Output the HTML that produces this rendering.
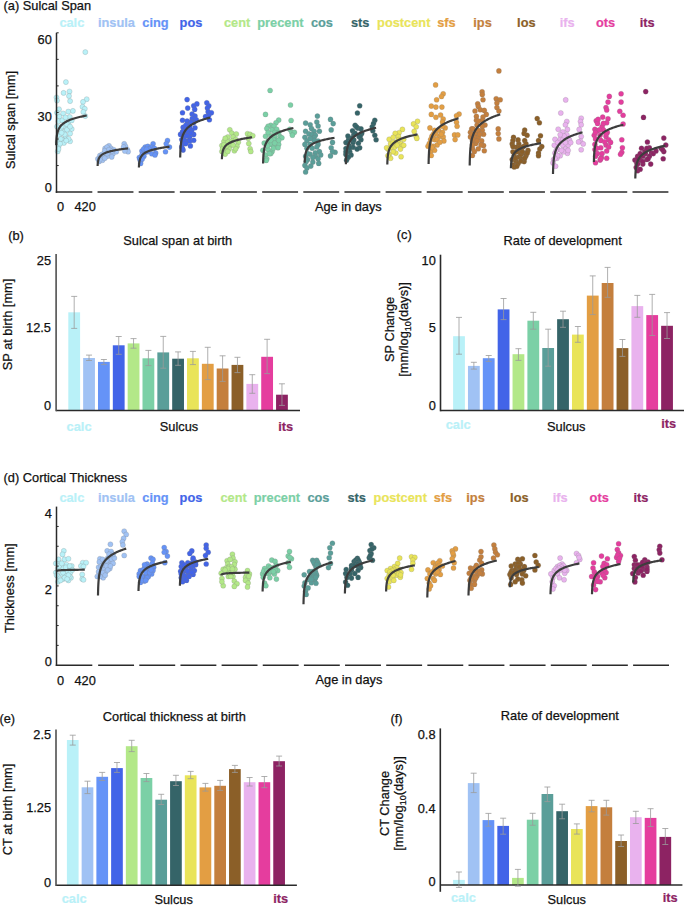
<!DOCTYPE html>
<html><head><meta charset="utf-8"><style>
html,body{margin:0;padding:0;background:#fff;}
body{width:685px;height:905px;overflow:hidden;}
svg{display:block;font-family:"Liberation Sans", sans-serif;}
</style></head><body>
<svg width="685" height="905" viewBox="0 0 685 905">
<rect width="685" height="905" fill="#fff"/>
<text x="3.60" y="9.50" font-size="12.8" font-weight="400" fill="#111" stroke="#111" stroke-width="0.25" text-anchor="start" >(a) Sulcal Span</text>
<text x="59.40" y="27.40" font-size="12.8" font-weight="700" fill="#b9f1f8" stroke="#b9f1f8" stroke-width="0.2" text-anchor="start" >calc</text>
<text x="97.90" y="27.40" font-size="12.8" font-weight="700" fill="#a0c2f4" stroke="#a0c2f4" stroke-width="0.2" text-anchor="start" >insula</text>
<text x="142.30" y="27.40" font-size="12.8" font-weight="700" fill="#6593f7" stroke="#6593f7" stroke-width="0.2" text-anchor="start" >cing</text>
<text x="179.60" y="27.40" font-size="12.8" font-weight="700" fill="#4264e8" stroke="#4264e8" stroke-width="0.2" text-anchor="start" >pos</text>
<text x="224.00" y="27.40" font-size="12.8" font-weight="700" fill="#b3e888" stroke="#b3e888" stroke-width="0.2" text-anchor="start" >cent</text>
<text x="257.30" y="27.40" font-size="12.8" font-weight="700" fill="#7bd0a6" stroke="#7bd0a6" stroke-width="0.2" text-anchor="start" >precent</text>
<text x="310.90" y="27.40" font-size="12.8" font-weight="700" fill="#5a9e99" stroke="#5a9e99" stroke-width="0.2" text-anchor="start" >cos</text>
<text x="350.90" y="27.40" font-size="12.8" font-weight="700" fill="#356468" stroke="#356468" stroke-width="0.2" text-anchor="start" >sts</text>
<text x="377.10" y="27.40" font-size="12.8" font-weight="700" fill="#e9e459" stroke="#e9e459" stroke-width="0.2" text-anchor="start" >postcent</text>
<text x="437.20" y="27.40" font-size="12.8" font-weight="700" fill="#e39e43" stroke="#e39e43" stroke-width="0.2" text-anchor="start" >sfs</text>
<text x="473.30" y="27.40" font-size="12.8" font-weight="700" fill="#c47f3d" stroke="#c47f3d" stroke-width="0.2" text-anchor="start" >ips</text>
<text x="517.10" y="27.40" font-size="12.8" font-weight="700" fill="#8b5f28" stroke="#8b5f28" stroke-width="0.2" text-anchor="start" >los</text>
<text x="559.80" y="27.40" font-size="12.8" font-weight="700" fill="#e9b2ee" stroke="#e9b2ee" stroke-width="0.2" text-anchor="start" >ifs</text>
<text x="595.90" y="27.40" font-size="12.8" font-weight="700" fill="#e53d9e" stroke="#e53d9e" stroke-width="0.2" text-anchor="start" >ots</text>
<text x="639.70" y="27.40" font-size="12.8" font-weight="700" fill="#8d2363" stroke="#8d2363" stroke-width="0.2" text-anchor="start" >its</text>
<circle cx="85.3" cy="52.1" r="2.55" fill="#b9f1f8" stroke="rgba(120,120,120,0.45)" stroke-width="0.5"/>
<circle cx="65.9" cy="82.1" r="2.55" fill="#b9f1f8" stroke="rgba(120,120,120,0.45)" stroke-width="0.5"/>
<circle cx="63.6" cy="92.9" r="2.55" fill="#b9f1f8" stroke="rgba(120,120,120,0.45)" stroke-width="0.5"/>
<circle cx="69.5" cy="91.5" r="2.55" fill="#b9f1f8" stroke="rgba(120,120,120,0.45)" stroke-width="0.5"/>
<circle cx="69.0" cy="96.0" r="2.55" fill="#b9f1f8" stroke="rgba(120,120,120,0.45)" stroke-width="0.5"/>
<circle cx="70.1" cy="101.1" r="2.55" fill="#b9f1f8" stroke="rgba(120,120,120,0.45)" stroke-width="0.5"/>
<circle cx="56.5" cy="97.5" r="2.55" fill="#b9f1f8" stroke="rgba(120,120,120,0.45)" stroke-width="0.5"/>
<circle cx="57.0" cy="100.6" r="2.55" fill="#b9f1f8" stroke="rgba(120,120,120,0.45)" stroke-width="0.5"/>
<circle cx="86.7" cy="99.2" r="2.55" fill="#b9f1f8" stroke="rgba(120,120,120,0.45)" stroke-width="0.5"/>
<circle cx="83.0" cy="101.9" r="2.55" fill="#b9f1f8" stroke="rgba(120,120,120,0.45)" stroke-width="0.5"/>
<circle cx="82.5" cy="106.8" r="2.55" fill="#b9f1f8" stroke="rgba(120,120,120,0.45)" stroke-width="0.5"/>
<circle cx="84.8" cy="108.8" r="2.55" fill="#b9f1f8" stroke="rgba(120,120,120,0.45)" stroke-width="0.5"/>
<circle cx="83.3" cy="112.0" r="2.55" fill="#b9f1f8" stroke="rgba(120,120,120,0.45)" stroke-width="0.5"/>
<circle cx="85.3" cy="116.1" r="2.55" fill="#b9f1f8" stroke="rgba(120,120,120,0.45)" stroke-width="0.5"/>
<circle cx="59.0" cy="109.2" r="2.55" fill="#b9f1f8" stroke="rgba(120,120,120,0.45)" stroke-width="0.5"/>
<circle cx="63.1" cy="113.5" r="2.55" fill="#b9f1f8" stroke="rgba(120,120,120,0.45)" stroke-width="0.5"/>
<circle cx="68.3" cy="111.6" r="2.55" fill="#b9f1f8" stroke="rgba(120,120,120,0.45)" stroke-width="0.5"/>
<circle cx="72.9" cy="110.9" r="2.55" fill="#b9f1f8" stroke="rgba(120,120,120,0.45)" stroke-width="0.5"/>
<circle cx="59.3" cy="116.6" r="2.55" fill="#b9f1f8" stroke="rgba(120,120,120,0.45)" stroke-width="0.5"/>
<circle cx="69.8" cy="117.0" r="2.55" fill="#b9f1f8" stroke="rgba(120,120,120,0.45)" stroke-width="0.5"/>
<circle cx="58.5" cy="121.2" r="2.55" fill="#b9f1f8" stroke="rgba(120,120,120,0.45)" stroke-width="0.5"/>
<circle cx="62.4" cy="120.4" r="2.55" fill="#b9f1f8" stroke="rgba(120,120,120,0.45)" stroke-width="0.5"/>
<circle cx="68.6" cy="122.0" r="2.55" fill="#b9f1f8" stroke="rgba(120,120,120,0.45)" stroke-width="0.5"/>
<circle cx="71.7" cy="129.0" r="2.55" fill="#b9f1f8" stroke="rgba(120,120,120,0.45)" stroke-width="0.5"/>
<circle cx="65.5" cy="126.6" r="2.55" fill="#b9f1f8" stroke="rgba(120,120,120,0.45)" stroke-width="0.5"/>
<circle cx="60.8" cy="129.7" r="2.55" fill="#b9f1f8" stroke="rgba(120,120,120,0.45)" stroke-width="0.5"/>
<circle cx="63.9" cy="132.0" r="2.55" fill="#b9f1f8" stroke="rgba(120,120,120,0.45)" stroke-width="0.5"/>
<circle cx="70.1" cy="133.6" r="2.55" fill="#b9f1f8" stroke="rgba(120,120,120,0.45)" stroke-width="0.5"/>
<circle cx="59.3" cy="135.1" r="2.55" fill="#b9f1f8" stroke="rgba(120,120,120,0.45)" stroke-width="0.5"/>
<circle cx="65.5" cy="136.7" r="2.55" fill="#b9f1f8" stroke="rgba(120,120,120,0.45)" stroke-width="0.5"/>
<circle cx="62.4" cy="139.8" r="2.55" fill="#b9f1f8" stroke="rgba(120,120,120,0.45)" stroke-width="0.5"/>
<circle cx="70.1" cy="141.3" r="2.55" fill="#b9f1f8" stroke="rgba(120,120,120,0.45)" stroke-width="0.5"/>
<circle cx="57.7" cy="142.1" r="2.55" fill="#b9f1f8" stroke="rgba(120,120,120,0.45)" stroke-width="0.5"/>
<circle cx="63.9" cy="142.9" r="2.55" fill="#b9f1f8" stroke="rgba(120,120,120,0.45)" stroke-width="0.5"/>
<circle cx="58.5" cy="146.7" r="2.55" fill="#b9f1f8" stroke="rgba(120,120,120,0.45)" stroke-width="0.5"/>
<circle cx="57.7" cy="151.4" r="2.55" fill="#b9f1f8" stroke="rgba(120,120,120,0.45)" stroke-width="0.5"/>
<circle cx="58.5" cy="149.0" r="2.55" fill="#b9f1f8" stroke="rgba(120,120,120,0.45)" stroke-width="0.5"/>
<circle cx="67.0" cy="124.3" r="2.55" fill="#b9f1f8" stroke="rgba(120,120,120,0.45)" stroke-width="0.5"/>
<circle cx="57.0" cy="126.6" r="2.55" fill="#b9f1f8" stroke="rgba(120,120,120,0.45)" stroke-width="0.5"/>
<circle cx="71.7" cy="120.4" r="2.55" fill="#b9f1f8" stroke="rgba(120,120,120,0.45)" stroke-width="0.5"/>
<circle cx="57.0" cy="112.7" r="2.55" fill="#b9f1f8" stroke="rgba(120,120,120,0.45)" stroke-width="0.5"/>
<circle cx="60.8" cy="139.0" r="2.55" fill="#b9f1f8" stroke="rgba(120,120,120,0.45)" stroke-width="0.5"/>
<circle cx="61.6" cy="126.6" r="2.55" fill="#b9f1f8" stroke="rgba(120,120,120,0.45)" stroke-width="0.5"/>
<circle cx="67.0" cy="129.7" r="2.55" fill="#b9f1f8" stroke="rgba(120,120,120,0.45)" stroke-width="0.5"/>
<circle cx="64.7" cy="134.4" r="2.55" fill="#b9f1f8" stroke="rgba(120,120,120,0.45)" stroke-width="0.5"/>
<circle cx="68.6" cy="139.0" r="2.55" fill="#b9f1f8" stroke="rgba(120,120,120,0.45)" stroke-width="0.5"/>
<circle cx="61.6" cy="132.8" r="2.55" fill="#b9f1f8" stroke="rgba(120,120,120,0.45)" stroke-width="0.5"/>
<circle cx="65.5" cy="117.4" r="2.55" fill="#b9f1f8" stroke="rgba(120,120,120,0.45)" stroke-width="0.5"/>
<circle cx="70.1" cy="126.6" r="2.55" fill="#b9f1f8" stroke="rgba(120,120,120,0.45)" stroke-width="0.5"/>
<circle cx="60.1" cy="143.7" r="2.55" fill="#b9f1f8" stroke="rgba(120,120,120,0.45)" stroke-width="0.5"/>
<circle cx="66.2" cy="140.6" r="2.55" fill="#b9f1f8" stroke="rgba(120,120,120,0.45)" stroke-width="0.5"/>
<circle cx="97.9" cy="158.9" r="2.55" fill="#a0c2f4" stroke="rgba(120,120,120,0.45)" stroke-width="0.5"/>
<circle cx="99.9" cy="155.6" r="2.55" fill="#a0c2f4" stroke="rgba(120,120,120,0.45)" stroke-width="0.5"/>
<circle cx="99.2" cy="161.5" r="2.55" fill="#a0c2f4" stroke="rgba(120,120,120,0.45)" stroke-width="0.5"/>
<circle cx="102.5" cy="160.2" r="2.55" fill="#a0c2f4" stroke="rgba(120,120,120,0.45)" stroke-width="0.5"/>
<circle cx="105.1" cy="148.4" r="2.55" fill="#a0c2f4" stroke="rgba(120,120,120,0.45)" stroke-width="0.5"/>
<circle cx="107.1" cy="151.0" r="2.55" fill="#a0c2f4" stroke="rgba(120,120,120,0.45)" stroke-width="0.5"/>
<circle cx="109.0" cy="145.8" r="2.55" fill="#a0c2f4" stroke="rgba(120,120,120,0.45)" stroke-width="0.5"/>
<circle cx="111.0" cy="148.4" r="2.55" fill="#a0c2f4" stroke="rgba(120,120,120,0.45)" stroke-width="0.5"/>
<circle cx="109.7" cy="153.0" r="2.55" fill="#a0c2f4" stroke="rgba(120,120,120,0.45)" stroke-width="0.5"/>
<circle cx="113.0" cy="153.7" r="2.55" fill="#a0c2f4" stroke="rgba(120,120,120,0.45)" stroke-width="0.5"/>
<circle cx="111.7" cy="156.9" r="2.55" fill="#a0c2f4" stroke="rgba(120,120,120,0.45)" stroke-width="0.5"/>
<circle cx="113.7" cy="149.7" r="2.55" fill="#a0c2f4" stroke="rgba(120,120,120,0.45)" stroke-width="0.5"/>
<circle cx="104.5" cy="153.0" r="2.55" fill="#a0c2f4" stroke="rgba(120,120,120,0.45)" stroke-width="0.5"/>
<circle cx="101.8" cy="156.3" r="2.55" fill="#a0c2f4" stroke="rgba(120,120,120,0.45)" stroke-width="0.5"/>
<circle cx="124.2" cy="143.8" r="2.55" fill="#a0c2f4" stroke="rgba(120,120,120,0.45)" stroke-width="0.5"/>
<circle cx="125.5" cy="146.4" r="2.55" fill="#a0c2f4" stroke="rgba(120,120,120,0.45)" stroke-width="0.5"/>
<circle cx="127.4" cy="149.7" r="2.55" fill="#a0c2f4" stroke="rgba(120,120,120,0.45)" stroke-width="0.5"/>
<circle cx="128.1" cy="151.7" r="2.55" fill="#a0c2f4" stroke="rgba(120,120,120,0.45)" stroke-width="0.5"/>
<circle cx="124.8" cy="151.0" r="2.55" fill="#a0c2f4" stroke="rgba(120,120,120,0.45)" stroke-width="0.5"/>
<circle cx="123.5" cy="147.1" r="2.55" fill="#a0c2f4" stroke="rgba(120,120,120,0.45)" stroke-width="0.5"/>
<circle cx="107.1" cy="156.3" r="2.55" fill="#a0c2f4" stroke="rgba(120,120,120,0.45)" stroke-width="0.5"/>
<circle cx="116.3" cy="151.7" r="2.55" fill="#a0c2f4" stroke="rgba(120,120,120,0.45)" stroke-width="0.5"/>
<circle cx="100.5" cy="157.6" r="2.55" fill="#a0c2f4" stroke="rgba(120,120,120,0.45)" stroke-width="0.5"/>
<circle cx="102.2" cy="154.3" r="2.55" fill="#a0c2f4" stroke="rgba(120,120,120,0.45)" stroke-width="0.5"/>
<circle cx="99.8" cy="159.6" r="2.55" fill="#a0c2f4" stroke="rgba(120,120,120,0.45)" stroke-width="0.5"/>
<circle cx="104.8" cy="158.2" r="2.55" fill="#a0c2f4" stroke="rgba(120,120,120,0.45)" stroke-width="0.5"/>
<circle cx="107.0" cy="147.1" r="2.55" fill="#a0c2f4" stroke="rgba(120,120,120,0.45)" stroke-width="0.5"/>
<circle cx="104.8" cy="150.7" r="2.55" fill="#a0c2f4" stroke="rgba(120,120,120,0.45)" stroke-width="0.5"/>
<circle cx="109.0" cy="149.7" r="2.55" fill="#a0c2f4" stroke="rgba(120,120,120,0.45)" stroke-width="0.5"/>
<circle cx="107.1" cy="153.7" r="2.55" fill="#a0c2f4" stroke="rgba(120,120,120,0.45)" stroke-width="0.5"/>
<circle cx="112.0" cy="151.1" r="2.55" fill="#a0c2f4" stroke="rgba(120,120,120,0.45)" stroke-width="0.5"/>
<circle cx="140.6" cy="161.5" r="2.55" fill="#6593f7" stroke="rgba(120,120,120,0.45)" stroke-width="0.5"/>
<circle cx="139.3" cy="157.6" r="2.55" fill="#6593f7" stroke="rgba(120,120,120,0.45)" stroke-width="0.5"/>
<circle cx="141.9" cy="151.0" r="2.55" fill="#6593f7" stroke="rgba(120,120,120,0.45)" stroke-width="0.5"/>
<circle cx="145.2" cy="147.1" r="2.55" fill="#6593f7" stroke="rgba(120,120,120,0.45)" stroke-width="0.5"/>
<circle cx="147.8" cy="146.4" r="2.55" fill="#6593f7" stroke="rgba(120,120,120,0.45)" stroke-width="0.5"/>
<circle cx="153.1" cy="143.8" r="2.55" fill="#6593f7" stroke="rgba(120,120,120,0.45)" stroke-width="0.5"/>
<circle cx="151.1" cy="147.1" r="2.55" fill="#6593f7" stroke="rgba(120,120,120,0.45)" stroke-width="0.5"/>
<circle cx="154.4" cy="148.4" r="2.55" fill="#6593f7" stroke="rgba(120,120,120,0.45)" stroke-width="0.5"/>
<circle cx="155.7" cy="153.0" r="2.55" fill="#6593f7" stroke="rgba(120,120,120,0.45)" stroke-width="0.5"/>
<circle cx="151.8" cy="153.7" r="2.55" fill="#6593f7" stroke="rgba(120,120,120,0.45)" stroke-width="0.5"/>
<circle cx="147.8" cy="151.7" r="2.55" fill="#6593f7" stroke="rgba(120,120,120,0.45)" stroke-width="0.5"/>
<circle cx="145.2" cy="152.3" r="2.55" fill="#6593f7" stroke="rgba(120,120,120,0.45)" stroke-width="0.5"/>
<circle cx="141.9" cy="155.0" r="2.55" fill="#6593f7" stroke="rgba(120,120,120,0.45)" stroke-width="0.5"/>
<circle cx="140.6" cy="163.5" r="2.55" fill="#6593f7" stroke="rgba(120,120,120,0.45)" stroke-width="0.5"/>
<circle cx="167.5" cy="140.5" r="2.55" fill="#6593f7" stroke="rgba(120,120,120,0.45)" stroke-width="0.5"/>
<circle cx="166.2" cy="143.8" r="2.55" fill="#6593f7" stroke="rgba(120,120,120,0.45)" stroke-width="0.5"/>
<circle cx="169.5" cy="147.1" r="2.55" fill="#6593f7" stroke="rgba(120,120,120,0.45)" stroke-width="0.5"/>
<circle cx="165.5" cy="151.7" r="2.55" fill="#6593f7" stroke="rgba(120,120,120,0.45)" stroke-width="0.5"/>
<circle cx="155.0" cy="155.0" r="2.55" fill="#6593f7" stroke="rgba(120,120,120,0.45)" stroke-width="0.5"/>
<circle cx="149.1" cy="149.0" r="2.55" fill="#6593f7" stroke="rgba(120,120,120,0.45)" stroke-width="0.5"/>
<circle cx="143.9" cy="156.3" r="2.55" fill="#6593f7" stroke="rgba(120,120,120,0.45)" stroke-width="0.5"/>
<circle cx="139.9" cy="159.6" r="2.55" fill="#6593f7" stroke="rgba(120,120,120,0.45)" stroke-width="0.5"/>
<circle cx="142.2" cy="158.9" r="2.55" fill="#6593f7" stroke="rgba(120,120,120,0.45)" stroke-width="0.5"/>
<circle cx="143.6" cy="149.1" r="2.55" fill="#6593f7" stroke="rgba(120,120,120,0.45)" stroke-width="0.5"/>
<circle cx="146.5" cy="149.4" r="2.55" fill="#6593f7" stroke="rgba(120,120,120,0.45)" stroke-width="0.5"/>
<circle cx="187.1" cy="99.6" r="2.55" fill="#4264e8" stroke="rgba(120,120,120,0.45)" stroke-width="0.5"/>
<circle cx="193.7" cy="105.7" r="2.55" fill="#4264e8" stroke="rgba(120,120,120,0.45)" stroke-width="0.5"/>
<circle cx="196.9" cy="103.9" r="2.55" fill="#4264e8" stroke="rgba(120,120,120,0.45)" stroke-width="0.5"/>
<circle cx="187.7" cy="108.1" r="2.55" fill="#4264e8" stroke="rgba(120,120,120,0.45)" stroke-width="0.5"/>
<circle cx="194.7" cy="109.4" r="2.55" fill="#4264e8" stroke="rgba(120,120,120,0.45)" stroke-width="0.5"/>
<circle cx="182.5" cy="112.7" r="2.55" fill="#4264e8" stroke="rgba(120,120,120,0.45)" stroke-width="0.5"/>
<circle cx="192.1" cy="114.0" r="2.55" fill="#4264e8" stroke="rgba(120,120,120,0.45)" stroke-width="0.5"/>
<circle cx="195.0" cy="116.0" r="2.55" fill="#4264e8" stroke="rgba(120,120,120,0.45)" stroke-width="0.5"/>
<circle cx="192.3" cy="118.6" r="2.55" fill="#4264e8" stroke="rgba(120,120,120,0.45)" stroke-width="0.5"/>
<circle cx="196.3" cy="119.7" r="2.55" fill="#4264e8" stroke="rgba(120,120,120,0.45)" stroke-width="0.5"/>
<circle cx="182.5" cy="120.3" r="2.55" fill="#4264e8" stroke="rgba(120,120,120,0.45)" stroke-width="0.5"/>
<circle cx="187.1" cy="121.0" r="2.55" fill="#4264e8" stroke="rgba(120,120,120,0.45)" stroke-width="0.5"/>
<circle cx="193.7" cy="122.6" r="2.55" fill="#4264e8" stroke="rgba(120,120,120,0.45)" stroke-width="0.5"/>
<circle cx="188.4" cy="124.5" r="2.55" fill="#4264e8" stroke="rgba(120,120,120,0.45)" stroke-width="0.5"/>
<circle cx="183.1" cy="127.4" r="2.55" fill="#4264e8" stroke="rgba(120,120,120,0.45)" stroke-width="0.5"/>
<circle cx="195.0" cy="127.8" r="2.55" fill="#4264e8" stroke="rgba(120,120,120,0.45)" stroke-width="0.5"/>
<circle cx="189.7" cy="129.8" r="2.55" fill="#4264e8" stroke="rgba(120,120,120,0.45)" stroke-width="0.5"/>
<circle cx="180.5" cy="134.4" r="2.55" fill="#4264e8" stroke="rgba(120,120,120,0.45)" stroke-width="0.5"/>
<circle cx="185.8" cy="133.1" r="2.55" fill="#4264e8" stroke="rgba(120,120,120,0.45)" stroke-width="0.5"/>
<circle cx="193.7" cy="134.4" r="2.55" fill="#4264e8" stroke="rgba(120,120,120,0.45)" stroke-width="0.5"/>
<circle cx="184.5" cy="136.4" r="2.55" fill="#4264e8" stroke="rgba(120,120,120,0.45)" stroke-width="0.5"/>
<circle cx="189.7" cy="137.0" r="2.55" fill="#4264e8" stroke="rgba(120,120,120,0.45)" stroke-width="0.5"/>
<circle cx="181.8" cy="139.6" r="2.55" fill="#4264e8" stroke="rgba(120,120,120,0.45)" stroke-width="0.5"/>
<circle cx="193.7" cy="140.3" r="2.55" fill="#4264e8" stroke="rgba(120,120,120,0.45)" stroke-width="0.5"/>
<circle cx="187.1" cy="141.0" r="2.55" fill="#4264e8" stroke="rgba(120,120,120,0.45)" stroke-width="0.5"/>
<circle cx="183.1" cy="143.6" r="2.55" fill="#4264e8" stroke="rgba(120,120,120,0.45)" stroke-width="0.5"/>
<circle cx="190.4" cy="145.9" r="2.55" fill="#4264e8" stroke="rgba(120,120,120,0.45)" stroke-width="0.5"/>
<circle cx="181.8" cy="146.9" r="2.55" fill="#4264e8" stroke="rgba(120,120,120,0.45)" stroke-width="0.5"/>
<circle cx="183.1" cy="150.1" r="2.55" fill="#4264e8" stroke="rgba(120,120,120,0.45)" stroke-width="0.5"/>
<circle cx="191.7" cy="130.4" r="2.55" fill="#4264e8" stroke="rgba(120,120,120,0.45)" stroke-width="0.5"/>
<circle cx="185.8" cy="128.5" r="2.55" fill="#4264e8" stroke="rgba(120,120,120,0.45)" stroke-width="0.5"/>
<circle cx="206.8" cy="102.8" r="2.55" fill="#4264e8" stroke="rgba(120,120,120,0.45)" stroke-width="0.5"/>
<circle cx="208.8" cy="105.7" r="2.55" fill="#4264e8" stroke="rgba(120,120,120,0.45)" stroke-width="0.5"/>
<circle cx="207.4" cy="108.1" r="2.55" fill="#4264e8" stroke="rgba(120,120,120,0.45)" stroke-width="0.5"/>
<circle cx="208.1" cy="111.8" r="2.55" fill="#4264e8" stroke="rgba(120,120,120,0.45)" stroke-width="0.5"/>
<circle cx="211.4" cy="112.7" r="2.55" fill="#4264e8" stroke="rgba(120,120,120,0.45)" stroke-width="0.5"/>
<circle cx="208.8" cy="115.3" r="2.55" fill="#4264e8" stroke="rgba(120,120,120,0.45)" stroke-width="0.5"/>
<circle cx="205.5" cy="116.6" r="2.55" fill="#4264e8" stroke="rgba(120,120,120,0.45)" stroke-width="0.5"/>
<circle cx="209.4" cy="119.7" r="2.55" fill="#4264e8" stroke="rgba(120,120,120,0.45)" stroke-width="0.5"/>
<circle cx="188.4" cy="131.8" r="2.55" fill="#4264e8" stroke="rgba(120,120,120,0.45)" stroke-width="0.5"/>
<circle cx="182.5" cy="131.8" r="2.55" fill="#4264e8" stroke="rgba(120,120,120,0.45)" stroke-width="0.5"/>
<circle cx="191.0" cy="121.9" r="2.55" fill="#4264e8" stroke="rgba(120,120,120,0.45)" stroke-width="0.5"/>
<circle cx="185.8" cy="125.2" r="2.55" fill="#4264e8" stroke="rgba(120,120,120,0.45)" stroke-width="0.5"/>
<circle cx="189.7" cy="126.5" r="2.55" fill="#4264e8" stroke="rgba(120,120,120,0.45)" stroke-width="0.5"/>
<circle cx="183.1" cy="131.8" r="2.55" fill="#4264e8" stroke="rgba(120,120,120,0.45)" stroke-width="0.5"/>
<circle cx="191.0" cy="133.1" r="2.55" fill="#4264e8" stroke="rgba(120,120,120,0.45)" stroke-width="0.5"/>
<circle cx="187.1" cy="135.7" r="2.55" fill="#4264e8" stroke="rgba(120,120,120,0.45)" stroke-width="0.5"/>
<circle cx="184.5" cy="141.0" r="2.55" fill="#4264e8" stroke="rgba(120,120,120,0.45)" stroke-width="0.5"/>
<circle cx="189.7" cy="141.0" r="2.55" fill="#4264e8" stroke="rgba(120,120,120,0.45)" stroke-width="0.5"/>
<circle cx="182.5" cy="148.8" r="2.55" fill="#4264e8" stroke="rgba(120,120,120,0.45)" stroke-width="0.5"/>
<circle cx="185.8" cy="143.6" r="2.55" fill="#4264e8" stroke="rgba(120,120,120,0.45)" stroke-width="0.5"/>
<circle cx="191.0" cy="122.6" r="2.55" fill="#4264e8" stroke="rgba(120,120,120,0.45)" stroke-width="0.5"/>
<circle cx="229.8" cy="129.8" r="2.55" fill="#b3e888" stroke="rgba(120,120,120,0.45)" stroke-width="0.5"/>
<circle cx="231.8" cy="133.1" r="2.55" fill="#b3e888" stroke="rgba(120,120,120,0.45)" stroke-width="0.5"/>
<circle cx="236.3" cy="134.0" r="2.55" fill="#b3e888" stroke="rgba(120,120,120,0.45)" stroke-width="0.5"/>
<circle cx="227.8" cy="137.0" r="2.55" fill="#b3e888" stroke="rgba(120,120,120,0.45)" stroke-width="0.5"/>
<circle cx="233.1" cy="137.0" r="2.55" fill="#b3e888" stroke="rgba(120,120,120,0.45)" stroke-width="0.5"/>
<circle cx="223.9" cy="141.6" r="2.55" fill="#b3e888" stroke="rgba(120,120,120,0.45)" stroke-width="0.5"/>
<circle cx="227.8" cy="141.6" r="2.55" fill="#b3e888" stroke="rgba(120,120,120,0.45)" stroke-width="0.5"/>
<circle cx="238.3" cy="142.3" r="2.55" fill="#b3e888" stroke="rgba(120,120,120,0.45)" stroke-width="0.5"/>
<circle cx="221.9" cy="145.6" r="2.55" fill="#b3e888" stroke="rgba(120,120,120,0.45)" stroke-width="0.5"/>
<circle cx="230.4" cy="145.6" r="2.55" fill="#b3e888" stroke="rgba(120,120,120,0.45)" stroke-width="0.5"/>
<circle cx="237.0" cy="146.2" r="2.55" fill="#b3e888" stroke="rgba(120,120,120,0.45)" stroke-width="0.5"/>
<circle cx="223.9" cy="148.8" r="2.55" fill="#b3e888" stroke="rgba(120,120,120,0.45)" stroke-width="0.5"/>
<circle cx="229.1" cy="148.8" r="2.55" fill="#b3e888" stroke="rgba(120,120,120,0.45)" stroke-width="0.5"/>
<circle cx="234.4" cy="150.8" r="2.55" fill="#b3e888" stroke="rgba(120,120,120,0.45)" stroke-width="0.5"/>
<circle cx="221.9" cy="151.5" r="2.55" fill="#b3e888" stroke="rgba(120,120,120,0.45)" stroke-width="0.5"/>
<circle cx="225.2" cy="154.1" r="2.55" fill="#b3e888" stroke="rgba(120,120,120,0.45)" stroke-width="0.5"/>
<circle cx="247.5" cy="133.7" r="2.55" fill="#b3e888" stroke="rgba(120,120,120,0.45)" stroke-width="0.5"/>
<circle cx="250.1" cy="134.4" r="2.55" fill="#b3e888" stroke="rgba(120,120,120,0.45)" stroke-width="0.5"/>
<circle cx="252.8" cy="135.7" r="2.55" fill="#b3e888" stroke="rgba(120,120,120,0.45)" stroke-width="0.5"/>
<circle cx="248.2" cy="138.3" r="2.55" fill="#b3e888" stroke="rgba(120,120,120,0.45)" stroke-width="0.5"/>
<circle cx="248.8" cy="143.6" r="2.55" fill="#b3e888" stroke="rgba(120,120,120,0.45)" stroke-width="0.5"/>
<circle cx="250.1" cy="148.8" r="2.55" fill="#b3e888" stroke="rgba(120,120,120,0.45)" stroke-width="0.5"/>
<circle cx="250.8" cy="151.5" r="2.55" fill="#b3e888" stroke="rgba(120,120,120,0.45)" stroke-width="0.5"/>
<circle cx="235.7" cy="139.6" r="2.55" fill="#b3e888" stroke="rgba(120,120,120,0.45)" stroke-width="0.5"/>
<circle cx="226.5" cy="146.2" r="2.55" fill="#b3e888" stroke="rgba(120,120,120,0.45)" stroke-width="0.5"/>
<circle cx="225.2" cy="138.3" r="2.55" fill="#b3e888" stroke="rgba(120,120,120,0.45)" stroke-width="0.5"/>
<circle cx="231.8" cy="141.0" r="2.55" fill="#b3e888" stroke="rgba(120,120,120,0.45)" stroke-width="0.5"/>
<circle cx="222.6" cy="148.8" r="2.55" fill="#b3e888" stroke="rgba(120,120,120,0.45)" stroke-width="0.5"/>
<circle cx="227.8" cy="151.5" r="2.55" fill="#b3e888" stroke="rgba(120,120,120,0.45)" stroke-width="0.5"/>
<circle cx="235.7" cy="148.8" r="2.55" fill="#b3e888" stroke="rgba(120,120,120,0.45)" stroke-width="0.5"/>
<circle cx="233.1" cy="144.9" r="2.55" fill="#b3e888" stroke="rgba(120,120,120,0.45)" stroke-width="0.5"/>
<circle cx="223.9" cy="144.9" r="2.55" fill="#b3e888" stroke="rgba(120,120,120,0.45)" stroke-width="0.5"/>
<circle cx="270.1" cy="90.5" r="2.55" fill="#7bd0a6" stroke="rgba(120,120,120,0.45)" stroke-width="0.5"/>
<circle cx="290.5" cy="105.0" r="2.55" fill="#7bd0a6" stroke="rgba(120,120,120,0.45)" stroke-width="0.5"/>
<circle cx="265.5" cy="114.4" r="2.55" fill="#7bd0a6" stroke="rgba(120,120,120,0.45)" stroke-width="0.5"/>
<circle cx="278.7" cy="120.1" r="2.55" fill="#7bd0a6" stroke="rgba(120,120,120,0.45)" stroke-width="0.5"/>
<circle cx="291.1" cy="120.5" r="2.55" fill="#7bd0a6" stroke="rgba(120,120,120,0.45)" stroke-width="0.5"/>
<circle cx="276.0" cy="122.7" r="2.55" fill="#7bd0a6" stroke="rgba(120,120,120,0.45)" stroke-width="0.5"/>
<circle cx="270.8" cy="125.3" r="2.55" fill="#7bd0a6" stroke="rgba(120,120,120,0.45)" stroke-width="0.5"/>
<circle cx="274.1" cy="126.0" r="2.55" fill="#7bd0a6" stroke="rgba(120,120,120,0.45)" stroke-width="0.5"/>
<circle cx="268.1" cy="126.2" r="2.55" fill="#7bd0a6" stroke="rgba(120,120,120,0.45)" stroke-width="0.5"/>
<circle cx="266.8" cy="128.6" r="2.55" fill="#7bd0a6" stroke="rgba(120,120,120,0.45)" stroke-width="0.5"/>
<circle cx="272.1" cy="129.9" r="2.55" fill="#7bd0a6" stroke="rgba(120,120,120,0.45)" stroke-width="0.5"/>
<circle cx="276.7" cy="129.3" r="2.55" fill="#7bd0a6" stroke="rgba(120,120,120,0.45)" stroke-width="0.5"/>
<circle cx="289.8" cy="129.3" r="2.55" fill="#7bd0a6" stroke="rgba(120,120,120,0.45)" stroke-width="0.5"/>
<circle cx="291.8" cy="132.6" r="2.55" fill="#7bd0a6" stroke="rgba(120,120,120,0.45)" stroke-width="0.5"/>
<circle cx="294.4" cy="132.3" r="2.55" fill="#7bd0a6" stroke="rgba(120,120,120,0.45)" stroke-width="0.5"/>
<circle cx="292.4" cy="135.2" r="2.55" fill="#7bd0a6" stroke="rgba(120,120,120,0.45)" stroke-width="0.5"/>
<circle cx="265.5" cy="136.2" r="2.55" fill="#7bd0a6" stroke="rgba(120,120,120,0.45)" stroke-width="0.5"/>
<circle cx="270.8" cy="135.8" r="2.55" fill="#7bd0a6" stroke="rgba(120,120,120,0.45)" stroke-width="0.5"/>
<circle cx="274.7" cy="136.5" r="2.55" fill="#7bd0a6" stroke="rgba(120,120,120,0.45)" stroke-width="0.5"/>
<circle cx="280.0" cy="136.5" r="2.55" fill="#7bd0a6" stroke="rgba(120,120,120,0.45)" stroke-width="0.5"/>
<circle cx="276.0" cy="140.4" r="2.55" fill="#7bd0a6" stroke="rgba(120,120,120,0.45)" stroke-width="0.5"/>
<circle cx="268.1" cy="141.1" r="2.55" fill="#7bd0a6" stroke="rgba(120,120,120,0.45)" stroke-width="0.5"/>
<circle cx="264.2" cy="143.1" r="2.55" fill="#7bd0a6" stroke="rgba(120,120,120,0.45)" stroke-width="0.5"/>
<circle cx="270.8" cy="144.4" r="2.55" fill="#7bd0a6" stroke="rgba(120,120,120,0.45)" stroke-width="0.5"/>
<circle cx="278.7" cy="144.4" r="2.55" fill="#7bd0a6" stroke="rgba(120,120,120,0.45)" stroke-width="0.5"/>
<circle cx="274.1" cy="146.4" r="2.55" fill="#7bd0a6" stroke="rgba(120,120,120,0.45)" stroke-width="0.5"/>
<circle cx="278.0" cy="147.7" r="2.55" fill="#7bd0a6" stroke="rgba(120,120,120,0.45)" stroke-width="0.5"/>
<circle cx="262.9" cy="150.3" r="2.55" fill="#7bd0a6" stroke="rgba(120,120,120,0.45)" stroke-width="0.5"/>
<circle cx="268.1" cy="149.6" r="2.55" fill="#7bd0a6" stroke="rgba(120,120,120,0.45)" stroke-width="0.5"/>
<circle cx="272.1" cy="151.6" r="2.55" fill="#7bd0a6" stroke="rgba(120,120,120,0.45)" stroke-width="0.5"/>
<circle cx="270.8" cy="153.6" r="2.55" fill="#7bd0a6" stroke="rgba(120,120,120,0.45)" stroke-width="0.5"/>
<circle cx="265.5" cy="154.9" r="2.55" fill="#7bd0a6" stroke="rgba(120,120,120,0.45)" stroke-width="0.5"/>
<circle cx="266.8" cy="158.8" r="2.55" fill="#7bd0a6" stroke="rgba(120,120,120,0.45)" stroke-width="0.5"/>
<circle cx="266.2" cy="160.4" r="2.55" fill="#7bd0a6" stroke="rgba(120,120,120,0.45)" stroke-width="0.5"/>
<circle cx="281.9" cy="137.8" r="2.55" fill="#7bd0a6" stroke="rgba(120,120,120,0.45)" stroke-width="0.5"/>
<circle cx="273.4" cy="139.8" r="2.55" fill="#7bd0a6" stroke="rgba(120,120,120,0.45)" stroke-width="0.5"/>
<circle cx="268.1" cy="132.6" r="2.55" fill="#7bd0a6" stroke="rgba(120,120,120,0.45)" stroke-width="0.5"/>
<circle cx="274.7" cy="132.6" r="2.55" fill="#7bd0a6" stroke="rgba(120,120,120,0.45)" stroke-width="0.5"/>
<circle cx="278.7" cy="132.6" r="2.55" fill="#7bd0a6" stroke="rgba(120,120,120,0.45)" stroke-width="0.5"/>
<circle cx="270.8" cy="140.4" r="2.55" fill="#7bd0a6" stroke="rgba(120,120,120,0.45)" stroke-width="0.5"/>
<circle cx="278.7" cy="140.4" r="2.55" fill="#7bd0a6" stroke="rgba(120,120,120,0.45)" stroke-width="0.5"/>
<circle cx="267.5" cy="145.7" r="2.55" fill="#7bd0a6" stroke="rgba(120,120,120,0.45)" stroke-width="0.5"/>
<circle cx="274.7" cy="143.1" r="2.55" fill="#7bd0a6" stroke="rgba(120,120,120,0.45)" stroke-width="0.5"/>
<circle cx="269.5" cy="153.6" r="2.55" fill="#7bd0a6" stroke="rgba(120,120,120,0.45)" stroke-width="0.5"/>
<circle cx="273.4" cy="148.3" r="2.55" fill="#7bd0a6" stroke="rgba(120,120,120,0.45)" stroke-width="0.5"/>
<circle cx="317.4" cy="116.1" r="2.55" fill="#5a9e99" stroke="rgba(120,120,120,0.45)" stroke-width="0.5"/>
<circle cx="330.5" cy="119.4" r="2.55" fill="#5a9e99" stroke="rgba(120,120,120,0.45)" stroke-width="0.5"/>
<circle cx="333.2" cy="123.6" r="2.55" fill="#5a9e99" stroke="rgba(120,120,120,0.45)" stroke-width="0.5"/>
<circle cx="305.6" cy="123.1" r="2.55" fill="#5a9e99" stroke="rgba(120,120,120,0.45)" stroke-width="0.5"/>
<circle cx="310.2" cy="124.7" r="2.55" fill="#5a9e99" stroke="rgba(120,120,120,0.45)" stroke-width="0.5"/>
<circle cx="316.8" cy="122.0" r="2.55" fill="#5a9e99" stroke="rgba(120,120,120,0.45)" stroke-width="0.5"/>
<circle cx="318.1" cy="126.0" r="2.55" fill="#5a9e99" stroke="rgba(120,120,120,0.45)" stroke-width="0.5"/>
<circle cx="311.5" cy="128.6" r="2.55" fill="#5a9e99" stroke="rgba(120,120,120,0.45)" stroke-width="0.5"/>
<circle cx="331.2" cy="129.9" r="2.55" fill="#5a9e99" stroke="rgba(120,120,120,0.45)" stroke-width="0.5"/>
<circle cx="305.6" cy="131.2" r="2.55" fill="#5a9e99" stroke="rgba(120,120,120,0.45)" stroke-width="0.5"/>
<circle cx="314.1" cy="131.2" r="2.55" fill="#5a9e99" stroke="rgba(120,120,120,0.45)" stroke-width="0.5"/>
<circle cx="319.4" cy="131.2" r="2.55" fill="#5a9e99" stroke="rgba(120,120,120,0.45)" stroke-width="0.5"/>
<circle cx="308.9" cy="133.9" r="2.55" fill="#5a9e99" stroke="rgba(120,120,120,0.45)" stroke-width="0.5"/>
<circle cx="312.2" cy="134.5" r="2.55" fill="#5a9e99" stroke="rgba(120,120,120,0.45)" stroke-width="0.5"/>
<circle cx="315.4" cy="135.2" r="2.55" fill="#5a9e99" stroke="rgba(120,120,120,0.45)" stroke-width="0.5"/>
<circle cx="304.9" cy="137.2" r="2.55" fill="#5a9e99" stroke="rgba(120,120,120,0.45)" stroke-width="0.5"/>
<circle cx="314.1" cy="137.8" r="2.55" fill="#5a9e99" stroke="rgba(120,120,120,0.45)" stroke-width="0.5"/>
<circle cx="318.1" cy="141.1" r="2.55" fill="#5a9e99" stroke="rgba(120,120,120,0.45)" stroke-width="0.5"/>
<circle cx="306.9" cy="140.7" r="2.55" fill="#5a9e99" stroke="rgba(120,120,120,0.45)" stroke-width="0.5"/>
<circle cx="332.5" cy="142.4" r="2.55" fill="#5a9e99" stroke="rgba(120,120,120,0.45)" stroke-width="0.5"/>
<circle cx="304.9" cy="144.4" r="2.55" fill="#5a9e99" stroke="rgba(120,120,120,0.45)" stroke-width="0.5"/>
<circle cx="310.2" cy="144.4" r="2.55" fill="#5a9e99" stroke="rgba(120,120,120,0.45)" stroke-width="0.5"/>
<circle cx="318.1" cy="144.4" r="2.55" fill="#5a9e99" stroke="rgba(120,120,120,0.45)" stroke-width="0.5"/>
<circle cx="306.9" cy="148.3" r="2.55" fill="#5a9e99" stroke="rgba(120,120,120,0.45)" stroke-width="0.5"/>
<circle cx="312.2" cy="148.3" r="2.55" fill="#5a9e99" stroke="rgba(120,120,120,0.45)" stroke-width="0.5"/>
<circle cx="331.2" cy="147.7" r="2.55" fill="#5a9e99" stroke="rgba(120,120,120,0.45)" stroke-width="0.5"/>
<circle cx="335.1" cy="152.3" r="2.55" fill="#5a9e99" stroke="rgba(120,120,120,0.45)" stroke-width="0.5"/>
<circle cx="332.5" cy="151.6" r="2.55" fill="#5a9e99" stroke="rgba(120,120,120,0.45)" stroke-width="0.5"/>
<circle cx="319.4" cy="151.6" r="2.55" fill="#5a9e99" stroke="rgba(120,120,120,0.45)" stroke-width="0.5"/>
<circle cx="315.4" cy="152.9" r="2.55" fill="#5a9e99" stroke="rgba(120,120,120,0.45)" stroke-width="0.5"/>
<circle cx="310.2" cy="154.2" r="2.55" fill="#5a9e99" stroke="rgba(120,120,120,0.45)" stroke-width="0.5"/>
<circle cx="320.7" cy="154.9" r="2.55" fill="#5a9e99" stroke="rgba(120,120,120,0.45)" stroke-width="0.5"/>
<circle cx="315.4" cy="156.2" r="2.55" fill="#5a9e99" stroke="rgba(120,120,120,0.45)" stroke-width="0.5"/>
<circle cx="305.6" cy="156.2" r="2.55" fill="#5a9e99" stroke="rgba(120,120,120,0.45)" stroke-width="0.5"/>
<circle cx="330.5" cy="155.9" r="2.55" fill="#5a9e99" stroke="rgba(120,120,120,0.45)" stroke-width="0.5"/>
<circle cx="307.6" cy="159.5" r="2.55" fill="#5a9e99" stroke="rgba(120,120,120,0.45)" stroke-width="0.5"/>
<circle cx="312.8" cy="162.1" r="2.55" fill="#5a9e99" stroke="rgba(120,120,120,0.45)" stroke-width="0.5"/>
<circle cx="318.7" cy="163.4" r="2.55" fill="#5a9e99" stroke="rgba(120,120,120,0.45)" stroke-width="0.5"/>
<circle cx="304.9" cy="165.4" r="2.55" fill="#5a9e99" stroke="rgba(120,120,120,0.45)" stroke-width="0.5"/>
<circle cx="310.8" cy="166.1" r="2.55" fill="#5a9e99" stroke="rgba(120,120,120,0.45)" stroke-width="0.5"/>
<circle cx="306.9" cy="168.0" r="2.55" fill="#5a9e99" stroke="rgba(120,120,120,0.45)" stroke-width="0.5"/>
<circle cx="305.6" cy="172.0" r="2.55" fill="#5a9e99" stroke="rgba(120,120,120,0.45)" stroke-width="0.5"/>
<circle cx="314.1" cy="140.4" r="2.55" fill="#5a9e99" stroke="rgba(120,120,120,0.45)" stroke-width="0.5"/>
<circle cx="310.2" cy="138.5" r="2.55" fill="#5a9e99" stroke="rgba(120,120,120,0.45)" stroke-width="0.5"/>
<circle cx="316.8" cy="147.0" r="2.55" fill="#5a9e99" stroke="rgba(120,120,120,0.45)" stroke-width="0.5"/>
<circle cx="307.6" cy="153.6" r="2.55" fill="#5a9e99" stroke="rgba(120,120,120,0.45)" stroke-width="0.5"/>
<circle cx="312.8" cy="157.5" r="2.55" fill="#5a9e99" stroke="rgba(120,120,120,0.45)" stroke-width="0.5"/>
<circle cx="318.1" cy="158.8" r="2.55" fill="#5a9e99" stroke="rgba(120,120,120,0.45)" stroke-width="0.5"/>
<circle cx="306.2" cy="161.5" r="2.55" fill="#5a9e99" stroke="rgba(120,120,120,0.45)" stroke-width="0.5"/>
<circle cx="359.7" cy="105.8" r="2.55" fill="#356468" stroke="rgba(120,120,120,0.45)" stroke-width="0.5"/>
<circle cx="357.4" cy="113.0" r="2.55" fill="#356468" stroke="rgba(120,120,120,0.45)" stroke-width="0.5"/>
<circle cx="374.8" cy="120.2" r="2.55" fill="#356468" stroke="rgba(120,120,120,0.45)" stroke-width="0.5"/>
<circle cx="373.5" cy="123.5" r="2.55" fill="#356468" stroke="rgba(120,120,120,0.45)" stroke-width="0.5"/>
<circle cx="355.1" cy="125.2" r="2.55" fill="#356468" stroke="rgba(120,120,120,0.45)" stroke-width="0.5"/>
<circle cx="357.7" cy="128.1" r="2.55" fill="#356468" stroke="rgba(120,120,120,0.45)" stroke-width="0.5"/>
<circle cx="361.0" cy="128.8" r="2.55" fill="#356468" stroke="rgba(120,120,120,0.45)" stroke-width="0.5"/>
<circle cx="372.2" cy="126.8" r="2.55" fill="#356468" stroke="rgba(120,120,120,0.45)" stroke-width="0.5"/>
<circle cx="372.8" cy="130.7" r="2.55" fill="#356468" stroke="rgba(120,120,120,0.45)" stroke-width="0.5"/>
<circle cx="352.5" cy="130.7" r="2.55" fill="#356468" stroke="rgba(120,120,120,0.45)" stroke-width="0.5"/>
<circle cx="361.7" cy="133.4" r="2.55" fill="#356468" stroke="rgba(120,120,120,0.45)" stroke-width="0.5"/>
<circle cx="353.8" cy="134.7" r="2.55" fill="#356468" stroke="rgba(120,120,120,0.45)" stroke-width="0.5"/>
<circle cx="359.0" cy="136.6" r="2.55" fill="#356468" stroke="rgba(120,120,120,0.45)" stroke-width="0.5"/>
<circle cx="348.5" cy="139.9" r="2.55" fill="#356468" stroke="rgba(120,120,120,0.45)" stroke-width="0.5"/>
<circle cx="361.0" cy="139.7" r="2.55" fill="#356468" stroke="rgba(120,120,120,0.45)" stroke-width="0.5"/>
<circle cx="345.9" cy="142.6" r="2.55" fill="#356468" stroke="rgba(120,120,120,0.45)" stroke-width="0.5"/>
<circle cx="353.1" cy="142.6" r="2.55" fill="#356468" stroke="rgba(120,120,120,0.45)" stroke-width="0.5"/>
<circle cx="358.4" cy="143.2" r="2.55" fill="#356468" stroke="rgba(120,120,120,0.45)" stroke-width="0.5"/>
<circle cx="374.8" cy="135.3" r="2.55" fill="#356468" stroke="rgba(120,120,120,0.45)" stroke-width="0.5"/>
<circle cx="376.1" cy="139.7" r="2.55" fill="#356468" stroke="rgba(120,120,120,0.45)" stroke-width="0.5"/>
<circle cx="349.2" cy="145.8" r="2.55" fill="#356468" stroke="rgba(120,120,120,0.45)" stroke-width="0.5"/>
<circle cx="345.9" cy="148.5" r="2.55" fill="#356468" stroke="rgba(120,120,120,0.45)" stroke-width="0.5"/>
<circle cx="353.1" cy="147.2" r="2.55" fill="#356468" stroke="rgba(120,120,120,0.45)" stroke-width="0.5"/>
<circle cx="359.7" cy="147.8" r="2.55" fill="#356468" stroke="rgba(120,120,120,0.45)" stroke-width="0.5"/>
<circle cx="357.1" cy="149.1" r="2.55" fill="#356468" stroke="rgba(120,120,120,0.45)" stroke-width="0.5"/>
<circle cx="349.8" cy="151.8" r="2.55" fill="#356468" stroke="rgba(120,120,120,0.45)" stroke-width="0.5"/>
<circle cx="345.9" cy="154.4" r="2.55" fill="#356468" stroke="rgba(120,120,120,0.45)" stroke-width="0.5"/>
<circle cx="351.1" cy="155.0" r="2.55" fill="#356468" stroke="rgba(120,120,120,0.45)" stroke-width="0.5"/>
<circle cx="347.2" cy="158.3" r="2.55" fill="#356468" stroke="rgba(120,120,120,0.45)" stroke-width="0.5"/>
<circle cx="346.5" cy="160.3" r="2.55" fill="#356468" stroke="rgba(120,120,120,0.45)" stroke-width="0.5"/>
<circle cx="351.8" cy="138.0" r="2.55" fill="#356468" stroke="rgba(120,120,120,0.45)" stroke-width="0.5"/>
<circle cx="356.4" cy="126.8" r="2.55" fill="#356468" stroke="rgba(120,120,120,0.45)" stroke-width="0.5"/>
<circle cx="347.2" cy="142.6" r="2.55" fill="#356468" stroke="rgba(120,120,120,0.45)" stroke-width="0.5"/>
<circle cx="349.8" cy="147.8" r="2.55" fill="#356468" stroke="rgba(120,120,120,0.45)" stroke-width="0.5"/>
<circle cx="345.9" cy="151.8" r="2.55" fill="#356468" stroke="rgba(120,120,120,0.45)" stroke-width="0.5"/>
<circle cx="348.5" cy="157.0" r="2.55" fill="#356468" stroke="rgba(120,120,120,0.45)" stroke-width="0.5"/>
<circle cx="355.1" cy="133.4" r="2.55" fill="#356468" stroke="rgba(120,120,120,0.45)" stroke-width="0.5"/>
<circle cx="360.3" cy="136.0" r="2.55" fill="#356468" stroke="rgba(120,120,120,0.45)" stroke-width="0.5"/>
<circle cx="353.8" cy="139.9" r="2.55" fill="#356468" stroke="rgba(120,120,120,0.45)" stroke-width="0.5"/>
<circle cx="347.9" cy="136.0" r="2.55" fill="#356468" stroke="rgba(120,120,120,0.45)" stroke-width="0.5"/>
<circle cx="417.5" cy="121.3" r="2.55" fill="#e9e459" stroke="rgba(120,120,120,0.45)" stroke-width="0.5"/>
<circle cx="413.5" cy="123.9" r="2.55" fill="#e9e459" stroke="rgba(120,120,120,0.45)" stroke-width="0.5"/>
<circle cx="416.2" cy="126.8" r="2.55" fill="#e9e459" stroke="rgba(120,120,120,0.45)" stroke-width="0.5"/>
<circle cx="402.4" cy="129.4" r="2.55" fill="#e9e459" stroke="rgba(120,120,120,0.45)" stroke-width="0.5"/>
<circle cx="399.1" cy="132.7" r="2.55" fill="#e9e459" stroke="rgba(120,120,120,0.45)" stroke-width="0.5"/>
<circle cx="395.2" cy="133.4" r="2.55" fill="#e9e459" stroke="rgba(120,120,120,0.45)" stroke-width="0.5"/>
<circle cx="414.2" cy="131.4" r="2.55" fill="#e9e459" stroke="rgba(120,120,120,0.45)" stroke-width="0.5"/>
<circle cx="416.2" cy="136.6" r="2.55" fill="#e9e459" stroke="rgba(120,120,120,0.45)" stroke-width="0.5"/>
<circle cx="416.8" cy="138.4" r="2.55" fill="#e9e459" stroke="rgba(120,120,120,0.45)" stroke-width="0.5"/>
<circle cx="389.2" cy="139.3" r="2.55" fill="#e9e459" stroke="rgba(120,120,120,0.45)" stroke-width="0.5"/>
<circle cx="393.2" cy="137.3" r="2.55" fill="#e9e459" stroke="rgba(120,120,120,0.45)" stroke-width="0.5"/>
<circle cx="398.4" cy="136.6" r="2.55" fill="#e9e459" stroke="rgba(120,120,120,0.45)" stroke-width="0.5"/>
<circle cx="403.7" cy="139.3" r="2.55" fill="#e9e459" stroke="rgba(120,120,120,0.45)" stroke-width="0.5"/>
<circle cx="390.6" cy="143.9" r="2.55" fill="#e9e459" stroke="rgba(120,120,120,0.45)" stroke-width="0.5"/>
<circle cx="395.8" cy="142.6" r="2.55" fill="#e9e459" stroke="rgba(120,120,120,0.45)" stroke-width="0.5"/>
<circle cx="401.1" cy="143.9" r="2.55" fill="#e9e459" stroke="rgba(120,120,120,0.45)" stroke-width="0.5"/>
<circle cx="402.4" cy="145.8" r="2.55" fill="#e9e459" stroke="rgba(120,120,120,0.45)" stroke-width="0.5"/>
<circle cx="387.9" cy="149.1" r="2.55" fill="#e9e459" stroke="rgba(120,120,120,0.45)" stroke-width="0.5"/>
<circle cx="394.5" cy="147.2" r="2.55" fill="#e9e459" stroke="rgba(120,120,120,0.45)" stroke-width="0.5"/>
<circle cx="400.4" cy="149.1" r="2.55" fill="#e9e459" stroke="rgba(120,120,120,0.45)" stroke-width="0.5"/>
<circle cx="395.8" cy="153.1" r="2.55" fill="#e9e459" stroke="rgba(120,120,120,0.45)" stroke-width="0.5"/>
<circle cx="389.2" cy="154.4" r="2.55" fill="#e9e459" stroke="rgba(120,120,120,0.45)" stroke-width="0.5"/>
<circle cx="401.1" cy="156.7" r="2.55" fill="#e9e459" stroke="rgba(120,120,120,0.45)" stroke-width="0.5"/>
<circle cx="390.6" cy="158.3" r="2.55" fill="#e9e459" stroke="rgba(120,120,120,0.45)" stroke-width="0.5"/>
<circle cx="386.6" cy="147.8" r="2.55" fill="#e9e459" stroke="rgba(120,120,120,0.45)" stroke-width="0.5"/>
<circle cx="390.6" cy="147.8" r="2.55" fill="#e9e459" stroke="rgba(120,120,120,0.45)" stroke-width="0.5"/>
<circle cx="397.1" cy="145.2" r="2.55" fill="#e9e459" stroke="rgba(120,120,120,0.45)" stroke-width="0.5"/>
<circle cx="393.2" cy="151.8" r="2.55" fill="#e9e459" stroke="rgba(120,120,120,0.45)" stroke-width="0.5"/>
<circle cx="387.9" cy="155.7" r="2.55" fill="#e9e459" stroke="rgba(120,120,120,0.45)" stroke-width="0.5"/>
<circle cx="398.4" cy="139.9" r="2.55" fill="#e9e459" stroke="rgba(120,120,120,0.45)" stroke-width="0.5"/>
<circle cx="403.7" cy="145.2" r="2.55" fill="#e9e459" stroke="rgba(120,120,120,0.45)" stroke-width="0.5"/>
<circle cx="393.2" cy="142.6" r="2.55" fill="#e9e459" stroke="rgba(120,120,120,0.45)" stroke-width="0.5"/>
<circle cx="435.6" cy="84.9" r="2.55" fill="#e39e43" stroke="rgba(120,120,120,0.45)" stroke-width="0.5"/>
<circle cx="443.2" cy="93.8" r="2.55" fill="#e39e43" stroke="rgba(120,120,120,0.45)" stroke-width="0.5"/>
<circle cx="441.5" cy="96.5" r="2.55" fill="#e39e43" stroke="rgba(120,120,120,0.45)" stroke-width="0.5"/>
<circle cx="436.6" cy="99.8" r="2.55" fill="#e39e43" stroke="rgba(120,120,120,0.45)" stroke-width="0.5"/>
<circle cx="431.3" cy="106.1" r="2.55" fill="#e39e43" stroke="rgba(120,120,120,0.45)" stroke-width="0.5"/>
<circle cx="435.9" cy="107.1" r="2.55" fill="#e39e43" stroke="rgba(120,120,120,0.45)" stroke-width="0.5"/>
<circle cx="441.9" cy="107.1" r="2.55" fill="#e39e43" stroke="rgba(120,120,120,0.45)" stroke-width="0.5"/>
<circle cx="431.3" cy="114.4" r="2.55" fill="#e39e43" stroke="rgba(120,120,120,0.45)" stroke-width="0.5"/>
<circle cx="435.9" cy="117.3" r="2.55" fill="#e39e43" stroke="rgba(120,120,120,0.45)" stroke-width="0.5"/>
<circle cx="440.6" cy="115.0" r="2.55" fill="#e39e43" stroke="rgba(120,120,120,0.45)" stroke-width="0.5"/>
<circle cx="443.2" cy="119.0" r="2.55" fill="#e39e43" stroke="rgba(120,120,120,0.45)" stroke-width="0.5"/>
<circle cx="442.5" cy="122.1" r="2.55" fill="#e39e43" stroke="rgba(120,120,120,0.45)" stroke-width="0.5"/>
<circle cx="459.1" cy="114.1" r="2.55" fill="#e39e43" stroke="rgba(120,120,120,0.45)" stroke-width="0.5"/>
<circle cx="456.5" cy="115.7" r="2.55" fill="#e39e43" stroke="rgba(120,120,120,0.45)" stroke-width="0.5"/>
<circle cx="456.5" cy="122.3" r="2.55" fill="#e39e43" stroke="rgba(120,120,120,0.45)" stroke-width="0.5"/>
<circle cx="457.1" cy="126.3" r="2.55" fill="#e39e43" stroke="rgba(120,120,120,0.45)" stroke-width="0.5"/>
<circle cx="429.9" cy="127.9" r="2.55" fill="#e39e43" stroke="rgba(120,120,120,0.45)" stroke-width="0.5"/>
<circle cx="445.2" cy="127.9" r="2.55" fill="#e39e43" stroke="rgba(120,120,120,0.45)" stroke-width="0.5"/>
<circle cx="438.6" cy="130.3" r="2.55" fill="#e39e43" stroke="rgba(120,120,120,0.45)" stroke-width="0.5"/>
<circle cx="442.5" cy="132.3" r="2.55" fill="#e39e43" stroke="rgba(120,120,120,0.45)" stroke-width="0.5"/>
<circle cx="431.9" cy="136.2" r="2.55" fill="#e39e43" stroke="rgba(120,120,120,0.45)" stroke-width="0.5"/>
<circle cx="439.9" cy="136.2" r="2.55" fill="#e39e43" stroke="rgba(120,120,120,0.45)" stroke-width="0.5"/>
<circle cx="443.2" cy="136.9" r="2.55" fill="#e39e43" stroke="rgba(120,120,120,0.45)" stroke-width="0.5"/>
<circle cx="434.6" cy="139.6" r="2.55" fill="#e39e43" stroke="rgba(120,120,120,0.45)" stroke-width="0.5"/>
<circle cx="443.9" cy="140.9" r="2.55" fill="#e39e43" stroke="rgba(120,120,120,0.45)" stroke-width="0.5"/>
<circle cx="454.5" cy="134.9" r="2.55" fill="#e39e43" stroke="rgba(120,120,120,0.45)" stroke-width="0.5"/>
<circle cx="457.8" cy="134.9" r="2.55" fill="#e39e43" stroke="rgba(120,120,120,0.45)" stroke-width="0.5"/>
<circle cx="455.1" cy="139.6" r="2.55" fill="#e39e43" stroke="rgba(120,120,120,0.45)" stroke-width="0.5"/>
<circle cx="429.3" cy="143.5" r="2.55" fill="#e39e43" stroke="rgba(120,120,120,0.45)" stroke-width="0.5"/>
<circle cx="437.2" cy="144.9" r="2.55" fill="#e39e43" stroke="rgba(120,120,120,0.45)" stroke-width="0.5"/>
<circle cx="433.3" cy="146.2" r="2.55" fill="#e39e43" stroke="rgba(120,120,120,0.45)" stroke-width="0.5"/>
<circle cx="430.6" cy="151.5" r="2.55" fill="#e39e43" stroke="rgba(120,120,120,0.45)" stroke-width="0.5"/>
<circle cx="431.3" cy="155.5" r="2.55" fill="#e39e43" stroke="rgba(120,120,120,0.45)" stroke-width="0.5"/>
<circle cx="435.9" cy="134.3" r="2.55" fill="#e39e43" stroke="rgba(120,120,120,0.45)" stroke-width="0.5"/>
<circle cx="434.6" cy="130.3" r="2.55" fill="#e39e43" stroke="rgba(120,120,120,0.45)" stroke-width="0.5"/>
<circle cx="433.3" cy="134.3" r="2.55" fill="#e39e43" stroke="rgba(120,120,120,0.45)" stroke-width="0.5"/>
<circle cx="441.2" cy="134.3" r="2.55" fill="#e39e43" stroke="rgba(120,120,120,0.45)" stroke-width="0.5"/>
<circle cx="437.2" cy="139.6" r="2.55" fill="#e39e43" stroke="rgba(120,120,120,0.45)" stroke-width="0.5"/>
<circle cx="430.6" cy="139.6" r="2.55" fill="#e39e43" stroke="rgba(120,120,120,0.45)" stroke-width="0.5"/>
<circle cx="439.9" cy="142.2" r="2.55" fill="#e39e43" stroke="rgba(120,120,120,0.45)" stroke-width="0.5"/>
<circle cx="434.6" cy="150.2" r="2.55" fill="#e39e43" stroke="rgba(120,120,120,0.45)" stroke-width="0.5"/>
<circle cx="431.9" cy="147.5" r="2.55" fill="#e39e43" stroke="rgba(120,120,120,0.45)" stroke-width="0.5"/>
<circle cx="442.5" cy="126.3" r="2.55" fill="#e39e43" stroke="rgba(120,120,120,0.45)" stroke-width="0.5"/>
<circle cx="428.0" cy="146.2" r="2.55" fill="#e39e43" stroke="rgba(120,120,120,0.45)" stroke-width="0.5"/>
<circle cx="498.9" cy="70.9" r="2.55" fill="#c47f3d" stroke="rgba(120,120,120,0.45)" stroke-width="0.5"/>
<circle cx="482.1" cy="91.8" r="2.55" fill="#c47f3d" stroke="rgba(120,120,120,0.45)" stroke-width="0.5"/>
<circle cx="482.3" cy="94.5" r="2.55" fill="#c47f3d" stroke="rgba(120,120,120,0.45)" stroke-width="0.5"/>
<circle cx="483.0" cy="99.8" r="2.55" fill="#c47f3d" stroke="rgba(120,120,120,0.45)" stroke-width="0.5"/>
<circle cx="496.2" cy="98.7" r="2.55" fill="#c47f3d" stroke="rgba(120,120,120,0.45)" stroke-width="0.5"/>
<circle cx="500.2" cy="99.8" r="2.55" fill="#c47f3d" stroke="rgba(120,120,120,0.45)" stroke-width="0.5"/>
<circle cx="477.7" cy="103.8" r="2.55" fill="#c47f3d" stroke="rgba(120,120,120,0.45)" stroke-width="0.5"/>
<circle cx="496.9" cy="103.1" r="2.55" fill="#c47f3d" stroke="rgba(120,120,120,0.45)" stroke-width="0.5"/>
<circle cx="478.3" cy="106.4" r="2.55" fill="#c47f3d" stroke="rgba(120,120,120,0.45)" stroke-width="0.5"/>
<circle cx="496.9" cy="107.5" r="2.55" fill="#c47f3d" stroke="rgba(120,120,120,0.45)" stroke-width="0.5"/>
<circle cx="475.0" cy="111.0" r="2.55" fill="#c47f3d" stroke="rgba(120,120,120,0.45)" stroke-width="0.5"/>
<circle cx="480.3" cy="109.7" r="2.55" fill="#c47f3d" stroke="rgba(120,120,120,0.45)" stroke-width="0.5"/>
<circle cx="484.3" cy="110.4" r="2.55" fill="#c47f3d" stroke="rgba(120,120,120,0.45)" stroke-width="0.5"/>
<circle cx="498.9" cy="111.0" r="2.55" fill="#c47f3d" stroke="rgba(120,120,120,0.45)" stroke-width="0.5"/>
<circle cx="486.3" cy="114.4" r="2.55" fill="#c47f3d" stroke="rgba(120,120,120,0.45)" stroke-width="0.5"/>
<circle cx="476.4" cy="116.4" r="2.55" fill="#c47f3d" stroke="rgba(120,120,120,0.45)" stroke-width="0.5"/>
<circle cx="483.0" cy="117.0" r="2.55" fill="#c47f3d" stroke="rgba(120,120,120,0.45)" stroke-width="0.5"/>
<circle cx="476.4" cy="120.3" r="2.55" fill="#c47f3d" stroke="rgba(120,120,120,0.45)" stroke-width="0.5"/>
<circle cx="482.3" cy="120.3" r="2.55" fill="#c47f3d" stroke="rgba(120,120,120,0.45)" stroke-width="0.5"/>
<circle cx="477.0" cy="125.0" r="2.55" fill="#c47f3d" stroke="rgba(120,120,120,0.45)" stroke-width="0.5"/>
<circle cx="485.0" cy="125.0" r="2.55" fill="#c47f3d" stroke="rgba(120,120,120,0.45)" stroke-width="0.5"/>
<circle cx="471.7" cy="128.9" r="2.55" fill="#c47f3d" stroke="rgba(120,120,120,0.45)" stroke-width="0.5"/>
<circle cx="482.3" cy="130.3" r="2.55" fill="#c47f3d" stroke="rgba(120,120,120,0.45)" stroke-width="0.5"/>
<circle cx="498.2" cy="128.9" r="2.55" fill="#c47f3d" stroke="rgba(120,120,120,0.45)" stroke-width="0.5"/>
<circle cx="470.4" cy="132.3" r="2.55" fill="#c47f3d" stroke="rgba(120,120,120,0.45)" stroke-width="0.5"/>
<circle cx="475.7" cy="133.6" r="2.55" fill="#c47f3d" stroke="rgba(120,120,120,0.45)" stroke-width="0.5"/>
<circle cx="483.6" cy="134.3" r="2.55" fill="#c47f3d" stroke="rgba(120,120,120,0.45)" stroke-width="0.5"/>
<circle cx="498.2" cy="133.6" r="2.55" fill="#c47f3d" stroke="rgba(120,120,120,0.45)" stroke-width="0.5"/>
<circle cx="470.4" cy="136.9" r="2.55" fill="#c47f3d" stroke="rgba(120,120,120,0.45)" stroke-width="0.5"/>
<circle cx="478.3" cy="137.6" r="2.55" fill="#c47f3d" stroke="rgba(120,120,120,0.45)" stroke-width="0.5"/>
<circle cx="498.9" cy="138.9" r="2.55" fill="#c47f3d" stroke="rgba(120,120,120,0.45)" stroke-width="0.5"/>
<circle cx="472.4" cy="140.9" r="2.55" fill="#c47f3d" stroke="rgba(120,120,120,0.45)" stroke-width="0.5"/>
<circle cx="481.7" cy="140.9" r="2.55" fill="#c47f3d" stroke="rgba(120,120,120,0.45)" stroke-width="0.5"/>
<circle cx="475.7" cy="143.5" r="2.55" fill="#c47f3d" stroke="rgba(120,120,120,0.45)" stroke-width="0.5"/>
<circle cx="483.6" cy="145.5" r="2.55" fill="#c47f3d" stroke="rgba(120,120,120,0.45)" stroke-width="0.5"/>
<circle cx="472.4" cy="148.2" r="2.55" fill="#c47f3d" stroke="rgba(120,120,120,0.45)" stroke-width="0.5"/>
<circle cx="478.3" cy="148.8" r="2.55" fill="#c47f3d" stroke="rgba(120,120,120,0.45)" stroke-width="0.5"/>
<circle cx="484.3" cy="150.8" r="2.55" fill="#c47f3d" stroke="rgba(120,120,120,0.45)" stroke-width="0.5"/>
<circle cx="472.4" cy="155.5" r="2.55" fill="#c47f3d" stroke="rgba(120,120,120,0.45)" stroke-width="0.5"/>
<circle cx="474.4" cy="137.6" r="2.55" fill="#c47f3d" stroke="rgba(120,120,120,0.45)" stroke-width="0.5"/>
<circle cx="473.0" cy="128.9" r="2.55" fill="#c47f3d" stroke="rgba(120,120,120,0.45)" stroke-width="0.5"/>
<circle cx="478.3" cy="130.3" r="2.55" fill="#c47f3d" stroke="rgba(120,120,120,0.45)" stroke-width="0.5"/>
<circle cx="471.7" cy="134.3" r="2.55" fill="#c47f3d" stroke="rgba(120,120,120,0.45)" stroke-width="0.5"/>
<circle cx="479.7" cy="134.3" r="2.55" fill="#c47f3d" stroke="rgba(120,120,120,0.45)" stroke-width="0.5"/>
<circle cx="473.0" cy="139.6" r="2.55" fill="#c47f3d" stroke="rgba(120,120,120,0.45)" stroke-width="0.5"/>
<circle cx="477.0" cy="140.9" r="2.55" fill="#c47f3d" stroke="rgba(120,120,120,0.45)" stroke-width="0.5"/>
<circle cx="481.0" cy="144.9" r="2.55" fill="#c47f3d" stroke="rgba(120,120,120,0.45)" stroke-width="0.5"/>
<circle cx="472.4" cy="144.9" r="2.55" fill="#c47f3d" stroke="rgba(120,120,120,0.45)" stroke-width="0.5"/>
<circle cx="474.4" cy="151.5" r="2.55" fill="#c47f3d" stroke="rgba(120,120,120,0.45)" stroke-width="0.5"/>
<circle cx="482.3" cy="126.3" r="2.55" fill="#c47f3d" stroke="rgba(120,120,120,0.45)" stroke-width="0.5"/>
<circle cx="478.3" cy="121.0" r="2.55" fill="#c47f3d" stroke="rgba(120,120,120,0.45)" stroke-width="0.5"/>
<circle cx="537.2" cy="118.6" r="2.55" fill="#8b5f28" stroke="rgba(120,120,120,0.45)" stroke-width="0.5"/>
<circle cx="539.4" cy="122.8" r="2.55" fill="#8b5f28" stroke="rgba(120,120,120,0.45)" stroke-width="0.5"/>
<circle cx="524.7" cy="130.1" r="2.55" fill="#8b5f28" stroke="rgba(120,120,120,0.45)" stroke-width="0.5"/>
<circle cx="524.1" cy="133.4" r="2.55" fill="#8b5f28" stroke="rgba(120,120,120,0.45)" stroke-width="0.5"/>
<circle cx="527.1" cy="135.3" r="2.55" fill="#8b5f28" stroke="rgba(120,120,120,0.45)" stroke-width="0.5"/>
<circle cx="513.5" cy="137.3" r="2.55" fill="#8b5f28" stroke="rgba(120,120,120,0.45)" stroke-width="0.5"/>
<circle cx="540.5" cy="135.7" r="2.55" fill="#8b5f28" stroke="rgba(120,120,120,0.45)" stroke-width="0.5"/>
<circle cx="512.9" cy="140.6" r="2.55" fill="#8b5f28" stroke="rgba(120,120,120,0.45)" stroke-width="0.5"/>
<circle cx="524.7" cy="140.6" r="2.55" fill="#8b5f28" stroke="rgba(120,120,120,0.45)" stroke-width="0.5"/>
<circle cx="538.5" cy="140.6" r="2.55" fill="#8b5f28" stroke="rgba(120,120,120,0.45)" stroke-width="0.5"/>
<circle cx="512.2" cy="143.9" r="2.55" fill="#8b5f28" stroke="rgba(120,120,120,0.45)" stroke-width="0.5"/>
<circle cx="518.8" cy="143.9" r="2.55" fill="#8b5f28" stroke="rgba(120,120,120,0.45)" stroke-width="0.5"/>
<circle cx="526.0" cy="143.9" r="2.55" fill="#8b5f28" stroke="rgba(120,120,120,0.45)" stroke-width="0.5"/>
<circle cx="541.8" cy="146.5" r="2.55" fill="#8b5f28" stroke="rgba(120,120,120,0.45)" stroke-width="0.5"/>
<circle cx="516.2" cy="147.2" r="2.55" fill="#8b5f28" stroke="rgba(120,120,120,0.45)" stroke-width="0.5"/>
<circle cx="522.1" cy="147.8" r="2.55" fill="#8b5f28" stroke="rgba(120,120,120,0.45)" stroke-width="0.5"/>
<circle cx="539.8" cy="149.1" r="2.55" fill="#8b5f28" stroke="rgba(120,120,120,0.45)" stroke-width="0.5"/>
<circle cx="528.0" cy="150.4" r="2.55" fill="#8b5f28" stroke="rgba(120,120,120,0.45)" stroke-width="0.5"/>
<circle cx="512.9" cy="151.8" r="2.55" fill="#8b5f28" stroke="rgba(120,120,120,0.45)" stroke-width="0.5"/>
<circle cx="519.5" cy="151.8" r="2.55" fill="#8b5f28" stroke="rgba(120,120,120,0.45)" stroke-width="0.5"/>
<circle cx="524.7" cy="153.1" r="2.55" fill="#8b5f28" stroke="rgba(120,120,120,0.45)" stroke-width="0.5"/>
<circle cx="538.5" cy="153.1" r="2.55" fill="#8b5f28" stroke="rgba(120,120,120,0.45)" stroke-width="0.5"/>
<circle cx="538.5" cy="155.7" r="2.55" fill="#8b5f28" stroke="rgba(120,120,120,0.45)" stroke-width="0.5"/>
<circle cx="514.2" cy="155.7" r="2.55" fill="#8b5f28" stroke="rgba(120,120,120,0.45)" stroke-width="0.5"/>
<circle cx="526.0" cy="155.7" r="2.55" fill="#8b5f28" stroke="rgba(120,120,120,0.45)" stroke-width="0.5"/>
<circle cx="518.8" cy="157.0" r="2.55" fill="#8b5f28" stroke="rgba(120,120,120,0.45)" stroke-width="0.5"/>
<circle cx="522.1" cy="159.0" r="2.55" fill="#8b5f28" stroke="rgba(120,120,120,0.45)" stroke-width="0.5"/>
<circle cx="512.2" cy="159.6" r="2.55" fill="#8b5f28" stroke="rgba(120,120,120,0.45)" stroke-width="0.5"/>
<circle cx="516.2" cy="161.6" r="2.55" fill="#8b5f28" stroke="rgba(120,120,120,0.45)" stroke-width="0.5"/>
<circle cx="524.1" cy="161.6" r="2.55" fill="#8b5f28" stroke="rgba(120,120,120,0.45)" stroke-width="0.5"/>
<circle cx="512.9" cy="164.9" r="2.55" fill="#8b5f28" stroke="rgba(120,120,120,0.45)" stroke-width="0.5"/>
<circle cx="518.1" cy="163.6" r="2.55" fill="#8b5f28" stroke="rgba(120,120,120,0.45)" stroke-width="0.5"/>
<circle cx="514.2" cy="166.9" r="2.55" fill="#8b5f28" stroke="rgba(120,120,120,0.45)" stroke-width="0.5"/>
<circle cx="520.8" cy="154.4" r="2.55" fill="#8b5f28" stroke="rgba(120,120,120,0.45)" stroke-width="0.5"/>
<circle cx="516.8" cy="151.8" r="2.55" fill="#8b5f28" stroke="rgba(120,120,120,0.45)" stroke-width="0.5"/>
<circle cx="522.1" cy="151.8" r="2.55" fill="#8b5f28" stroke="rgba(120,120,120,0.45)" stroke-width="0.5"/>
<circle cx="515.5" cy="158.3" r="2.55" fill="#8b5f28" stroke="rgba(120,120,120,0.45)" stroke-width="0.5"/>
<circle cx="520.8" cy="161.0" r="2.55" fill="#8b5f28" stroke="rgba(120,120,120,0.45)" stroke-width="0.5"/>
<circle cx="524.7" cy="158.3" r="2.55" fill="#8b5f28" stroke="rgba(120,120,120,0.45)" stroke-width="0.5"/>
<circle cx="516.8" cy="166.2" r="2.55" fill="#8b5f28" stroke="rgba(120,120,120,0.45)" stroke-width="0.5"/>
<circle cx="512.9" cy="146.5" r="2.55" fill="#8b5f28" stroke="rgba(120,120,120,0.45)" stroke-width="0.5"/>
<circle cx="519.5" cy="147.8" r="2.55" fill="#8b5f28" stroke="rgba(120,120,120,0.45)" stroke-width="0.5"/>
<circle cx="527.3" cy="153.1" r="2.55" fill="#8b5f28" stroke="rgba(120,120,120,0.45)" stroke-width="0.5"/>
<circle cx="523.4" cy="146.5" r="2.55" fill="#8b5f28" stroke="rgba(120,120,120,0.45)" stroke-width="0.5"/>
<circle cx="518.1" cy="139.9" r="2.55" fill="#8b5f28" stroke="rgba(120,120,120,0.45)" stroke-width="0.5"/>
<circle cx="565.7" cy="99.9" r="2.55" fill="#e9b2ee" stroke="rgba(120,120,120,0.45)" stroke-width="0.5"/>
<circle cx="560.8" cy="113.0" r="2.55" fill="#e9b2ee" stroke="rgba(120,120,120,0.45)" stroke-width="0.5"/>
<circle cx="581.2" cy="118.2" r="2.55" fill="#e9b2ee" stroke="rgba(120,120,120,0.45)" stroke-width="0.5"/>
<circle cx="566.8" cy="121.5" r="2.55" fill="#e9b2ee" stroke="rgba(120,120,120,0.45)" stroke-width="0.5"/>
<circle cx="580.5" cy="121.5" r="2.55" fill="#e9b2ee" stroke="rgba(120,120,120,0.45)" stroke-width="0.5"/>
<circle cx="565.4" cy="124.8" r="2.55" fill="#e9b2ee" stroke="rgba(120,120,120,0.45)" stroke-width="0.5"/>
<circle cx="581.2" cy="124.8" r="2.55" fill="#e9b2ee" stroke="rgba(120,120,120,0.45)" stroke-width="0.5"/>
<circle cx="558.2" cy="129.2" r="2.55" fill="#e9b2ee" stroke="rgba(120,120,120,0.45)" stroke-width="0.5"/>
<circle cx="567.4" cy="129.4" r="2.55" fill="#e9b2ee" stroke="rgba(120,120,120,0.45)" stroke-width="0.5"/>
<circle cx="579.2" cy="129.4" r="2.55" fill="#e9b2ee" stroke="rgba(120,120,120,0.45)" stroke-width="0.5"/>
<circle cx="562.8" cy="132.0" r="2.55" fill="#e9b2ee" stroke="rgba(120,120,120,0.45)" stroke-width="0.5"/>
<circle cx="566.8" cy="134.7" r="2.55" fill="#e9b2ee" stroke="rgba(120,120,120,0.45)" stroke-width="0.5"/>
<circle cx="555.0" cy="139.3" r="2.55" fill="#e9b2ee" stroke="rgba(120,120,120,0.45)" stroke-width="0.5"/>
<circle cx="560.2" cy="139.3" r="2.55" fill="#e9b2ee" stroke="rgba(120,120,120,0.45)" stroke-width="0.5"/>
<circle cx="581.2" cy="136.6" r="2.55" fill="#e9b2ee" stroke="rgba(120,120,120,0.45)" stroke-width="0.5"/>
<circle cx="569.4" cy="139.9" r="2.55" fill="#e9b2ee" stroke="rgba(120,120,120,0.45)" stroke-width="0.5"/>
<circle cx="580.5" cy="141.2" r="2.55" fill="#e9b2ee" stroke="rgba(120,120,120,0.45)" stroke-width="0.5"/>
<circle cx="578.6" cy="141.9" r="2.55" fill="#e9b2ee" stroke="rgba(120,120,120,0.45)" stroke-width="0.5"/>
<circle cx="583.2" cy="143.9" r="2.55" fill="#e9b2ee" stroke="rgba(120,120,120,0.45)" stroke-width="0.5"/>
<circle cx="554.3" cy="145.2" r="2.55" fill="#e9b2ee" stroke="rgba(120,120,120,0.45)" stroke-width="0.5"/>
<circle cx="562.8" cy="145.2" r="2.55" fill="#e9b2ee" stroke="rgba(120,120,120,0.45)" stroke-width="0.5"/>
<circle cx="568.1" cy="145.2" r="2.55" fill="#e9b2ee" stroke="rgba(120,120,120,0.45)" stroke-width="0.5"/>
<circle cx="557.6" cy="149.1" r="2.55" fill="#e9b2ee" stroke="rgba(120,120,120,0.45)" stroke-width="0.5"/>
<circle cx="565.4" cy="149.1" r="2.55" fill="#e9b2ee" stroke="rgba(120,120,120,0.45)" stroke-width="0.5"/>
<circle cx="581.2" cy="149.8" r="2.55" fill="#e9b2ee" stroke="rgba(120,120,120,0.45)" stroke-width="0.5"/>
<circle cx="554.9" cy="153.1" r="2.55" fill="#e9b2ee" stroke="rgba(120,120,120,0.45)" stroke-width="0.5"/>
<circle cx="567.4" cy="153.3" r="2.55" fill="#e9b2ee" stroke="rgba(120,120,120,0.45)" stroke-width="0.5"/>
<circle cx="560.2" cy="155.7" r="2.55" fill="#e9b2ee" stroke="rgba(120,120,120,0.45)" stroke-width="0.5"/>
<circle cx="553.6" cy="159.6" r="2.55" fill="#e9b2ee" stroke="rgba(120,120,120,0.45)" stroke-width="0.5"/>
<circle cx="556.9" cy="158.3" r="2.55" fill="#e9b2ee" stroke="rgba(120,120,120,0.45)" stroke-width="0.5"/>
<circle cx="553.0" cy="162.9" r="2.55" fill="#e9b2ee" stroke="rgba(120,120,120,0.45)" stroke-width="0.5"/>
<circle cx="555.6" cy="166.2" r="2.55" fill="#e9b2ee" stroke="rgba(120,120,120,0.45)" stroke-width="0.5"/>
<circle cx="563.5" cy="151.8" r="2.55" fill="#e9b2ee" stroke="rgba(120,120,120,0.45)" stroke-width="0.5"/>
<circle cx="557.6" cy="142.6" r="2.55" fill="#e9b2ee" stroke="rgba(120,120,120,0.45)" stroke-width="0.5"/>
<circle cx="562.8" cy="139.9" r="2.55" fill="#e9b2ee" stroke="rgba(120,120,120,0.45)" stroke-width="0.5"/>
<circle cx="565.4" cy="142.6" r="2.55" fill="#e9b2ee" stroke="rgba(120,120,120,0.45)" stroke-width="0.5"/>
<circle cx="556.2" cy="150.4" r="2.55" fill="#e9b2ee" stroke="rgba(120,120,120,0.45)" stroke-width="0.5"/>
<circle cx="561.5" cy="150.4" r="2.55" fill="#e9b2ee" stroke="rgba(120,120,120,0.45)" stroke-width="0.5"/>
<circle cx="557.6" cy="155.7" r="2.55" fill="#e9b2ee" stroke="rgba(120,120,120,0.45)" stroke-width="0.5"/>
<circle cx="568.1" cy="150.4" r="2.55" fill="#e9b2ee" stroke="rgba(120,120,120,0.45)" stroke-width="0.5"/>
<circle cx="570.7" cy="142.6" r="2.55" fill="#e9b2ee" stroke="rgba(120,120,120,0.45)" stroke-width="0.5"/>
<circle cx="564.1" cy="136.0" r="2.55" fill="#e9b2ee" stroke="rgba(120,120,120,0.45)" stroke-width="0.5"/>
<circle cx="560.2" cy="134.7" r="2.55" fill="#e9b2ee" stroke="rgba(120,120,120,0.45)" stroke-width="0.5"/>
<circle cx="554.9" cy="158.3" r="2.55" fill="#e9b2ee" stroke="rgba(120,120,120,0.45)" stroke-width="0.5"/>
<circle cx="609.3" cy="96.4" r="2.55" fill="#e53d9e" stroke="rgba(120,120,120,0.45)" stroke-width="0.5"/>
<circle cx="621.1" cy="93.8" r="2.55" fill="#e53d9e" stroke="rgba(120,120,120,0.45)" stroke-width="0.5"/>
<circle cx="608.0" cy="102.1" r="2.55" fill="#e53d9e" stroke="rgba(120,120,120,0.45)" stroke-width="0.5"/>
<circle cx="621.1" cy="102.1" r="2.55" fill="#e53d9e" stroke="rgba(120,120,120,0.45)" stroke-width="0.5"/>
<circle cx="606.0" cy="107.6" r="2.55" fill="#e53d9e" stroke="rgba(120,120,120,0.45)" stroke-width="0.5"/>
<circle cx="606.7" cy="110.0" r="2.55" fill="#e53d9e" stroke="rgba(120,120,120,0.45)" stroke-width="0.5"/>
<circle cx="619.8" cy="111.3" r="2.55" fill="#e53d9e" stroke="rgba(120,120,120,0.45)" stroke-width="0.5"/>
<circle cx="623.1" cy="115.2" r="2.55" fill="#e53d9e" stroke="rgba(120,120,120,0.45)" stroke-width="0.5"/>
<circle cx="602.7" cy="117.1" r="2.55" fill="#e53d9e" stroke="rgba(120,120,120,0.45)" stroke-width="0.5"/>
<circle cx="608.0" cy="118.8" r="2.55" fill="#e53d9e" stroke="rgba(120,120,120,0.45)" stroke-width="0.5"/>
<circle cx="596.2" cy="120.7" r="2.55" fill="#e53d9e" stroke="rgba(120,120,120,0.45)" stroke-width="0.5"/>
<circle cx="597.5" cy="123.4" r="2.55" fill="#e53d9e" stroke="rgba(120,120,120,0.45)" stroke-width="0.5"/>
<circle cx="606.7" cy="122.7" r="2.55" fill="#e53d9e" stroke="rgba(120,120,120,0.45)" stroke-width="0.5"/>
<circle cx="623.1" cy="124.0" r="2.55" fill="#e53d9e" stroke="rgba(120,120,120,0.45)" stroke-width="0.5"/>
<circle cx="602.1" cy="126.6" r="2.55" fill="#e53d9e" stroke="rgba(120,120,120,0.45)" stroke-width="0.5"/>
<circle cx="594.9" cy="129.3" r="2.55" fill="#e53d9e" stroke="rgba(120,120,120,0.45)" stroke-width="0.5"/>
<circle cx="603.4" cy="129.9" r="2.55" fill="#e53d9e" stroke="rgba(120,120,120,0.45)" stroke-width="0.5"/>
<circle cx="597.5" cy="130.6" r="2.55" fill="#e53d9e" stroke="rgba(120,120,120,0.45)" stroke-width="0.5"/>
<circle cx="607.3" cy="132.6" r="2.55" fill="#e53d9e" stroke="rgba(120,120,120,0.45)" stroke-width="0.5"/>
<circle cx="594.2" cy="135.2" r="2.55" fill="#e53d9e" stroke="rgba(120,120,120,0.45)" stroke-width="0.5"/>
<circle cx="600.1" cy="135.2" r="2.55" fill="#e53d9e" stroke="rgba(120,120,120,0.45)" stroke-width="0.5"/>
<circle cx="606.0" cy="136.5" r="2.55" fill="#e53d9e" stroke="rgba(120,120,120,0.45)" stroke-width="0.5"/>
<circle cx="595.5" cy="139.1" r="2.55" fill="#e53d9e" stroke="rgba(120,120,120,0.45)" stroke-width="0.5"/>
<circle cx="608.7" cy="139.8" r="2.55" fill="#e53d9e" stroke="rgba(120,120,120,0.45)" stroke-width="0.5"/>
<circle cx="621.8" cy="139.8" r="2.55" fill="#e53d9e" stroke="rgba(120,120,120,0.45)" stroke-width="0.5"/>
<circle cx="610.6" cy="142.4" r="2.55" fill="#e53d9e" stroke="rgba(120,120,120,0.45)" stroke-width="0.5"/>
<circle cx="594.9" cy="144.4" r="2.55" fill="#e53d9e" stroke="rgba(120,120,120,0.45)" stroke-width="0.5"/>
<circle cx="606.0" cy="145.0" r="2.55" fill="#e53d9e" stroke="rgba(120,120,120,0.45)" stroke-width="0.5"/>
<circle cx="600.8" cy="147.7" r="2.55" fill="#e53d9e" stroke="rgba(120,120,120,0.45)" stroke-width="0.5"/>
<circle cx="608.7" cy="147.0" r="2.55" fill="#e53d9e" stroke="rgba(120,120,120,0.45)" stroke-width="0.5"/>
<circle cx="622.4" cy="147.7" r="2.55" fill="#e53d9e" stroke="rgba(120,120,120,0.45)" stroke-width="0.5"/>
<circle cx="594.9" cy="149.6" r="2.55" fill="#e53d9e" stroke="rgba(120,120,120,0.45)" stroke-width="0.5"/>
<circle cx="606.7" cy="151.0" r="2.55" fill="#e53d9e" stroke="rgba(120,120,120,0.45)" stroke-width="0.5"/>
<circle cx="621.8" cy="152.3" r="2.55" fill="#e53d9e" stroke="rgba(120,120,120,0.45)" stroke-width="0.5"/>
<circle cx="620.5" cy="154.2" r="2.55" fill="#e53d9e" stroke="rgba(120,120,120,0.45)" stroke-width="0.5"/>
<circle cx="597.5" cy="153.6" r="2.55" fill="#e53d9e" stroke="rgba(120,120,120,0.45)" stroke-width="0.5"/>
<circle cx="601.4" cy="157.5" r="2.55" fill="#e53d9e" stroke="rgba(120,120,120,0.45)" stroke-width="0.5"/>
<circle cx="606.7" cy="158.2" r="2.55" fill="#e53d9e" stroke="rgba(120,120,120,0.45)" stroke-width="0.5"/>
<circle cx="595.5" cy="162.8" r="2.55" fill="#e53d9e" stroke="rgba(120,120,120,0.45)" stroke-width="0.5"/>
<circle cx="600.1" cy="160.1" r="2.55" fill="#e53d9e" stroke="rgba(120,120,120,0.45)" stroke-width="0.5"/>
<circle cx="595.5" cy="132.6" r="2.55" fill="#e53d9e" stroke="rgba(120,120,120,0.45)" stroke-width="0.5"/>
<circle cx="600.8" cy="140.4" r="2.55" fill="#e53d9e" stroke="rgba(120,120,120,0.45)" stroke-width="0.5"/>
<circle cx="596.8" cy="148.3" r="2.55" fill="#e53d9e" stroke="rgba(120,120,120,0.45)" stroke-width="0.5"/>
<circle cx="602.1" cy="153.6" r="2.55" fill="#e53d9e" stroke="rgba(120,120,120,0.45)" stroke-width="0.5"/>
<circle cx="595.5" cy="156.2" r="2.55" fill="#e53d9e" stroke="rgba(120,120,120,0.45)" stroke-width="0.5"/>
<circle cx="604.7" cy="141.8" r="2.55" fill="#e53d9e" stroke="rgba(120,120,120,0.45)" stroke-width="0.5"/>
<circle cx="599.5" cy="129.9" r="2.55" fill="#e53d9e" stroke="rgba(120,120,120,0.45)" stroke-width="0.5"/>
<circle cx="603.4" cy="123.4" r="2.55" fill="#e53d9e" stroke="rgba(120,120,120,0.45)" stroke-width="0.5"/>
<circle cx="598.1" cy="119.4" r="2.55" fill="#e53d9e" stroke="rgba(120,120,120,0.45)" stroke-width="0.5"/>
<circle cx="606.0" cy="133.9" r="2.55" fill="#e53d9e" stroke="rgba(120,120,120,0.45)" stroke-width="0.5"/>
<circle cx="600.8" cy="158.8" r="2.55" fill="#e53d9e" stroke="rgba(120,120,120,0.45)" stroke-width="0.5"/>
<circle cx="645.7" cy="91.6" r="2.55" fill="#8d2363" stroke="rgba(120,120,120,0.45)" stroke-width="0.5"/>
<circle cx="643.5" cy="117.4" r="2.55" fill="#8d2363" stroke="rgba(120,120,120,0.45)" stroke-width="0.5"/>
<circle cx="663.8" cy="138.1" r="2.55" fill="#8d2363" stroke="rgba(120,120,120,0.45)" stroke-width="0.5"/>
<circle cx="647.4" cy="142.0" r="2.55" fill="#8d2363" stroke="rgba(120,120,120,0.45)" stroke-width="0.5"/>
<circle cx="665.8" cy="145.0" r="2.55" fill="#8d2363" stroke="rgba(120,120,120,0.45)" stroke-width="0.5"/>
<circle cx="641.5" cy="148.3" r="2.55" fill="#8d2363" stroke="rgba(120,120,120,0.45)" stroke-width="0.5"/>
<circle cx="649.4" cy="147.7" r="2.55" fill="#8d2363" stroke="rgba(120,120,120,0.45)" stroke-width="0.5"/>
<circle cx="661.2" cy="148.3" r="2.55" fill="#8d2363" stroke="rgba(120,120,120,0.45)" stroke-width="0.5"/>
<circle cx="644.8" cy="151.6" r="2.55" fill="#8d2363" stroke="rgba(120,120,120,0.45)" stroke-width="0.5"/>
<circle cx="651.4" cy="152.9" r="2.55" fill="#8d2363" stroke="rgba(120,120,120,0.45)" stroke-width="0.5"/>
<circle cx="663.8" cy="151.6" r="2.55" fill="#8d2363" stroke="rgba(120,120,120,0.45)" stroke-width="0.5"/>
<circle cx="637.6" cy="156.2" r="2.55" fill="#8d2363" stroke="rgba(120,120,120,0.45)" stroke-width="0.5"/>
<circle cx="642.8" cy="156.2" r="2.55" fill="#8d2363" stroke="rgba(120,120,120,0.45)" stroke-width="0.5"/>
<circle cx="649.4" cy="156.2" r="2.55" fill="#8d2363" stroke="rgba(120,120,120,0.45)" stroke-width="0.5"/>
<circle cx="634.9" cy="160.1" r="2.55" fill="#8d2363" stroke="rgba(120,120,120,0.45)" stroke-width="0.5"/>
<circle cx="640.2" cy="160.1" r="2.55" fill="#8d2363" stroke="rgba(120,120,120,0.45)" stroke-width="0.5"/>
<circle cx="646.8" cy="159.5" r="2.55" fill="#8d2363" stroke="rgba(120,120,120,0.45)" stroke-width="0.5"/>
<circle cx="663.2" cy="158.8" r="2.55" fill="#8d2363" stroke="rgba(120,120,120,0.45)" stroke-width="0.5"/>
<circle cx="650.7" cy="164.1" r="2.55" fill="#8d2363" stroke="rgba(120,120,120,0.45)" stroke-width="0.5"/>
<circle cx="636.9" cy="163.4" r="2.55" fill="#8d2363" stroke="rgba(120,120,120,0.45)" stroke-width="0.5"/>
<circle cx="642.8" cy="164.1" r="2.55" fill="#8d2363" stroke="rgba(120,120,120,0.45)" stroke-width="0.5"/>
<circle cx="636.2" cy="167.4" r="2.55" fill="#8d2363" stroke="rgba(120,120,120,0.45)" stroke-width="0.5"/>
<circle cx="637.6" cy="170.7" r="2.55" fill="#8d2363" stroke="rgba(120,120,120,0.45)" stroke-width="0.5"/>
<circle cx="640.2" cy="153.6" r="2.55" fill="#8d2363" stroke="rgba(120,120,120,0.45)" stroke-width="0.5"/>
<circle cx="645.4" cy="153.6" r="2.55" fill="#8d2363" stroke="rgba(120,120,120,0.45)" stroke-width="0.5"/>
<circle cx="637.6" cy="158.8" r="2.55" fill="#8d2363" stroke="rgba(120,120,120,0.45)" stroke-width="0.5"/>
<circle cx="642.8" cy="161.5" r="2.55" fill="#8d2363" stroke="rgba(120,120,120,0.45)" stroke-width="0.5"/>
<circle cx="648.1" cy="158.8" r="2.55" fill="#8d2363" stroke="rgba(120,120,120,0.45)" stroke-width="0.5"/>
<circle cx="653.3" cy="153.6" r="2.55" fill="#8d2363" stroke="rgba(120,120,120,0.45)" stroke-width="0.5"/>
<circle cx="646.8" cy="148.3" r="2.55" fill="#8d2363" stroke="rgba(120,120,120,0.45)" stroke-width="0.5"/>
<circle cx="637.6" cy="164.1" r="2.55" fill="#8d2363" stroke="rgba(120,120,120,0.45)" stroke-width="0.5"/>
<circle cx="640.2" cy="169.3" r="2.55" fill="#8d2363" stroke="rgba(120,120,120,0.45)" stroke-width="0.5"/>
<circle cx="656.0" cy="151.0" r="2.55" fill="#8d2363" stroke="rgba(120,120,120,0.45)" stroke-width="0.5"/>
<circle cx="662.5" cy="149.6" r="2.55" fill="#8d2363" stroke="rgba(120,120,120,0.45)" stroke-width="0.5"/>
<polyline points="56.20,145.20 56.20,145.06 56.22,144.58 56.24,143.79 56.28,142.79 56.33,141.68 56.39,140.52 56.47,139.37 56.56,138.26 56.67,137.19 56.79,136.18 56.93,135.23 57.09,134.33 57.26,133.48 57.45,132.68 57.65,131.92 57.87,131.20 58.11,130.52 58.36,129.86 58.64,129.24 58.93,128.65 59.24,128.08 59.57,127.54 59.91,127.02 60.28,126.52 60.66,126.04 61.06,125.57 61.48,125.12 61.92,124.69 62.38,124.27 62.86,123.87 63.36,123.48 63.88,123.10 64.41,122.73 64.97,122.37 65.55,122.02 66.15,121.68 66.76,121.35 67.40,121.03 68.06,120.72 68.74,120.41 69.44,120.11 70.16,119.82 70.90,119.54 71.67,119.26 72.45,118.99 73.26,118.72 74.08,118.46 74.93,118.21 75.80,117.96 76.69,117.71 77.60,117.47 78.54,117.24 79.49,117.01 80.47,116.78 81.47,116.56 82.49,116.34 83.53,116.12 84.60,115.91 85.69,115.70 86.80,115.50" fill="none" stroke="#3d3d3d" stroke-width="2.2" stroke-linecap="butt"/>
<polyline points="97.60,166.10 97.60,166.02 97.62,165.73 97.64,165.26 97.68,164.67 97.73,164.00 97.79,163.31 97.87,162.62 97.96,161.96 98.07,161.33 98.19,160.73 98.33,160.16 98.48,159.62 98.65,159.12 98.84,158.64 99.04,158.19 99.27,157.76 99.50,157.35 99.76,156.96 100.03,156.59 100.32,156.24 100.63,155.90 100.96,155.58 101.30,155.26 101.66,154.97 102.04,154.68 102.45,154.40 102.86,154.14 103.30,153.88 103.76,153.63 104.24,153.39 104.73,153.15 105.25,152.93 105.79,152.71 106.34,152.49 106.92,152.29 107.51,152.08 108.13,151.89 108.77,151.70 109.42,151.51 110.10,151.33 110.80,151.15 111.52,150.98 112.26,150.81 113.02,150.64 113.80,150.48 114.60,150.32 115.42,150.17 116.27,150.01 117.13,149.86 118.02,149.72 118.93,149.58 119.86,149.44 120.82,149.30 121.79,149.16 122.79,149.03 123.80,148.90 124.85,148.77 125.91,148.65 126.99,148.52 128.10,148.40" fill="none" stroke="#3d3d3d" stroke-width="2.2" stroke-linecap="butt"/>
<polyline points="138.90,167.40 138.90,167.30 138.92,166.97 138.94,166.42 138.98,165.72 139.03,164.94 139.09,164.14 139.17,163.34 139.26,162.56 139.37,161.82 139.49,161.12 139.63,160.45 139.79,159.83 139.96,159.23 140.15,158.67 140.35,158.14 140.57,157.64 140.81,157.17 141.06,156.71 141.34,156.28 141.63,155.87 141.94,155.47 142.27,155.09 142.61,154.73 142.98,154.38 143.36,154.04 143.76,153.72 144.18,153.41 144.62,153.11 145.08,152.81 145.56,152.53 146.06,152.26 146.58,151.99 147.11,151.74 147.67,151.49 148.25,151.24 148.85,151.01 149.46,150.78 150.10,150.56 150.76,150.34 151.44,150.12 152.14,149.92 152.86,149.71 153.60,149.52 154.37,149.32 155.15,149.13 155.96,148.95 156.78,148.76 157.63,148.59 158.50,148.41 159.39,148.24 160.30,148.08 161.24,147.91 162.19,147.75 163.17,147.59 164.17,147.44 165.19,147.28 166.23,147.13 167.30,146.99 168.39,146.84 169.50,146.70" fill="none" stroke="#3d3d3d" stroke-width="2.2" stroke-linecap="butt"/>
<polyline points="180.20,157.40 180.20,157.21 180.22,156.57 180.24,155.52 180.28,154.17 180.33,152.68 180.39,151.13 180.46,149.59 180.56,148.09 180.66,146.67 180.78,145.32 180.92,144.04 181.07,142.84 181.23,141.70 181.42,140.62 181.62,139.60 181.83,138.64 182.07,137.72 182.32,136.85 182.58,136.02 182.87,135.22 183.17,134.46 183.49,133.73 183.83,133.04 184.18,132.37 184.56,131.72 184.95,131.10 185.36,130.50 185.79,129.92 186.24,129.36 186.71,128.81 187.19,128.29 187.70,127.78 188.23,127.29 188.77,126.81 189.33,126.34 189.92,125.88 190.52,125.44 191.15,125.01 191.79,124.59 192.45,124.18 193.14,123.78 193.84,123.39 194.57,123.01 195.31,122.64 196.08,122.28 196.87,121.92 197.67,121.57 198.50,121.23 199.35,120.89 200.22,120.57 201.11,120.24 202.02,119.93 202.96,119.62 203.91,119.31 204.89,119.02 205.89,118.72 206.91,118.43 207.95,118.15 209.01,117.87 210.10,117.60" fill="none" stroke="#3d3d3d" stroke-width="2.2" stroke-linecap="butt"/>
<polyline points="221.90,159.30 221.90,159.20 221.92,158.84 221.94,158.26 221.98,157.52 222.03,156.69 222.09,155.83 222.17,154.98 222.26,154.16 222.36,153.37 222.49,152.62 222.62,151.92 222.78,151.25 222.94,150.62 223.13,150.03 223.33,149.46 223.55,148.93 223.78,148.42 224.04,147.94 224.31,147.48 224.59,147.04 224.90,146.62 225.22,146.22 225.56,145.83 225.92,145.46 226.30,145.10 226.70,144.76 227.11,144.43 227.55,144.11 228.00,143.80 228.47,143.50 228.96,143.21 229.48,142.93 230.01,142.65 230.56,142.39 231.13,142.13 231.72,141.88 232.33,141.64 232.96,141.40 233.61,141.17 234.28,140.94 234.97,140.72 235.68,140.50 236.41,140.29 237.16,140.09 237.94,139.88 238.73,139.69 239.55,139.49 240.38,139.31 241.24,139.12 242.12,138.94 243.02,138.76 243.94,138.59 244.89,138.42 245.85,138.25 246.84,138.08 247.85,137.92 248.88,137.76 249.93,137.61 251.00,137.45 252.10,137.30" fill="none" stroke="#3d3d3d" stroke-width="2.2" stroke-linecap="butt"/>
<polyline points="263.10,163.40 263.10,163.23 263.12,162.66 263.14,161.72 263.18,160.53 263.23,159.20 263.29,157.82 263.37,156.45 263.46,155.12 263.57,153.86 263.69,152.65 263.83,151.52 263.98,150.45 264.15,149.43 264.33,148.48 264.54,147.57 264.75,146.71 264.99,145.90 265.24,145.12 265.51,144.38 265.80,143.67 266.11,143.00 266.43,142.35 266.78,141.73 267.14,141.13 267.52,140.56 267.91,140.01 268.33,139.47 268.77,138.96 269.22,138.46 269.69,137.97 270.19,137.51 270.70,137.05 271.23,136.61 271.78,136.19 272.36,135.77 272.95,135.37 273.56,134.98 274.19,134.59 274.84,134.22 275.52,133.86 276.21,133.50 276.92,133.15 277.66,132.81 278.41,132.48 279.19,132.16 279.99,131.84 280.81,131.53 281.65,131.23 282.51,130.93 283.39,130.64 284.29,130.35 285.22,130.07 286.16,129.80 287.13,129.53 288.12,129.26 289.13,129.00 290.17,128.74 291.22,128.49 292.30,128.24 293.40,128.00" fill="none" stroke="#3d3d3d" stroke-width="2.2" stroke-linecap="butt"/>
<polyline points="304.70,162.80 304.70,162.68 304.72,162.28 304.74,161.62 304.78,160.77 304.83,159.83 304.89,158.86 304.96,157.89 305.05,156.95 305.16,156.06 305.28,155.21 305.41,154.41 305.56,153.65 305.73,152.94 305.91,152.26 306.11,151.62 306.33,151.01 306.56,150.44 306.81,149.89 307.07,149.37 307.36,148.87 307.66,148.39 307.98,147.93 308.31,147.50 308.67,147.07 309.04,146.67 309.43,146.28 309.84,145.90 310.27,145.54 310.72,145.19 311.19,144.84 311.67,144.51 312.18,144.19 312.70,143.88 313.24,143.58 313.80,143.29 314.39,143.00 314.99,142.73 315.61,142.46 316.25,142.19 316.91,141.94 317.59,141.68 318.30,141.44 319.02,141.20 319.76,140.97 320.53,140.74 321.31,140.51 322.11,140.29 322.94,140.08 323.79,139.87 324.65,139.66 325.54,139.46 326.45,139.26 327.38,139.07 328.33,138.88 329.31,138.69 330.30,138.51 331.32,138.32 332.36,138.15 333.42,137.97 334.50,137.80" fill="none" stroke="#3d3d3d" stroke-width="2.2" stroke-linecap="butt"/>
<polyline points="345.90,164.20 345.90,164.03 345.92,163.44 345.94,162.48 345.98,161.25 346.03,159.88 346.09,158.46 346.17,157.05 346.26,155.69 346.36,154.39 346.49,153.15 346.62,151.98 346.78,150.88 346.94,149.84 347.13,148.86 347.33,147.92 347.55,147.04 347.78,146.20 348.04,145.40 348.31,144.64 348.59,143.92 348.90,143.22 349.22,142.56 349.56,141.92 349.92,141.30 350.30,140.71 350.70,140.14 351.11,139.60 351.55,139.07 352.00,138.55 352.47,138.06 352.96,137.58 353.48,137.11 354.01,136.66 354.56,136.22 355.13,135.79 355.72,135.38 356.33,134.97 356.96,134.58 357.61,134.20 358.28,133.82 358.97,133.46 359.68,133.10 360.41,132.75 361.16,132.41 361.94,132.08 362.73,131.75 363.55,131.43 364.38,131.12 365.24,130.81 366.12,130.51 367.02,130.22 367.94,129.93 368.89,129.65 369.85,129.37 370.84,129.10 371.85,128.83 372.88,128.56 373.93,128.30 375.00,128.05 376.10,127.80" fill="none" stroke="#3d3d3d" stroke-width="2.2" stroke-linecap="butt"/>
<polyline points="387.30,164.60 387.30,164.46 387.32,163.97 387.34,163.17 387.38,162.15 387.43,161.02 387.49,159.84 387.57,158.67 387.66,157.54 387.76,156.46 387.89,155.43 388.02,154.46 388.18,153.55 388.34,152.69 388.53,151.87 388.73,151.10 388.95,150.36 389.18,149.67 389.44,149.01 389.71,148.37 389.99,147.77 390.30,147.20 390.62,146.64 390.96,146.11 391.32,145.60 391.70,145.11 392.10,144.64 392.51,144.19 392.95,143.75 393.40,143.32 393.87,142.91 394.36,142.51 394.88,142.12 395.41,141.75 395.96,141.38 396.53,141.03 397.12,140.69 397.73,140.35 398.36,140.02 399.01,139.71 399.68,139.40 400.37,139.09 401.08,138.80 401.81,138.51 402.56,138.22 403.34,137.95 404.13,137.68 404.95,137.41 405.78,137.15 406.64,136.90 407.52,136.65 408.42,136.41 409.34,136.17 410.29,135.93 411.25,135.70 412.24,135.47 413.25,135.25 414.28,135.03 415.33,134.82 416.40,134.61 417.50,134.40" fill="none" stroke="#3d3d3d" stroke-width="2.2" stroke-linecap="butt"/>
<polyline points="428.60,164.10 428.60,163.88 428.62,163.14 428.64,161.93 428.68,160.39 428.73,158.67 428.79,156.88 428.86,155.11 428.96,153.39 429.06,151.75 429.18,150.20 429.32,148.73 429.47,147.34 429.63,146.03 429.82,144.79 430.02,143.62 430.23,142.51 430.47,141.45 430.72,140.45 430.98,139.49 431.27,138.58 431.57,137.70 431.89,136.87 432.23,136.06 432.58,135.29 432.96,134.55 433.35,133.83 433.76,133.14 434.19,132.47 434.64,131.83 435.11,131.21 435.59,130.60 436.10,130.01 436.63,129.45 437.17,128.89 437.73,128.36 438.32,127.83 438.92,127.32 439.55,126.83 440.19,126.35 440.85,125.88 441.54,125.42 442.24,124.97 442.97,124.53 443.71,124.10 444.48,123.68 445.27,123.27 446.07,122.87 446.90,122.48 447.75,122.09 448.62,121.71 449.51,121.34 450.42,120.98 451.36,120.62 452.31,120.27 453.29,119.93 454.29,119.59 455.31,119.26 456.35,118.94 457.41,118.61 458.50,118.30" fill="none" stroke="#3d3d3d" stroke-width="2.2" stroke-linecap="butt"/>
<polyline points="469.70,165.40 469.70,165.16 469.72,164.34 469.74,162.99 469.78,161.27 469.83,159.35 469.89,157.36 469.97,155.39 470.06,153.48 470.17,151.65 470.29,149.92 470.43,148.28 470.58,146.74 470.75,145.28 470.94,143.90 471.14,142.60 471.37,141.36 471.60,140.18 471.86,139.07 472.13,138.00 472.42,136.98 472.73,136.01 473.06,135.08 473.40,134.18 473.76,133.32 474.14,132.49 474.55,131.70 474.96,130.93 475.40,130.18 475.86,129.47 476.34,128.77 476.83,128.10 477.35,127.44 477.89,126.81 478.44,126.20 479.02,125.60 479.61,125.02 480.23,124.45 480.87,123.90 481.52,123.36 482.20,122.84 482.90,122.32 483.62,121.82 484.36,121.34 485.12,120.86 485.90,120.39 486.70,119.93 487.52,119.49 488.37,119.05 489.23,118.62 490.12,118.20 491.03,117.79 491.96,117.38 492.92,116.99 493.89,116.60 494.89,116.21 495.90,115.84 496.95,115.47 498.01,115.11 499.09,114.75 500.20,114.40" fill="none" stroke="#3d3d3d" stroke-width="2.2" stroke-linecap="butt"/>
<polyline points="510.90,168.20 510.90,168.08 510.92,167.68 510.94,167.02 510.98,166.17 511.03,165.23 511.09,164.26 511.17,163.29 511.26,162.35 511.36,161.46 511.49,160.61 511.62,159.81 511.78,159.05 511.94,158.34 512.13,157.66 512.33,157.02 512.55,156.41 512.78,155.84 513.04,155.29 513.31,154.77 513.59,154.27 513.90,153.79 514.22,153.33 514.56,152.90 514.92,152.47 515.30,152.07 515.70,151.68 516.11,151.30 516.55,150.94 517.00,150.59 517.47,150.24 517.96,149.91 518.48,149.59 519.01,149.28 519.56,148.98 520.13,148.69 520.72,148.40 521.33,148.13 521.96,147.86 522.61,147.59 523.28,147.34 523.97,147.08 524.68,146.84 525.41,146.60 526.16,146.37 526.94,146.14 527.73,145.91 528.55,145.69 529.38,145.48 530.24,145.27 531.12,145.06 532.02,144.86 532.94,144.66 533.89,144.47 534.85,144.28 535.84,144.09 536.85,143.91 537.88,143.72 538.93,143.55 540.00,143.37 541.10,143.20" fill="none" stroke="#3d3d3d" stroke-width="2.2" stroke-linecap="butt"/>
<polyline points="553.00,174.10 553.00,173.90 553.02,173.23 553.04,172.12 553.08,170.71 553.12,169.14 553.19,167.51 553.26,165.89 553.35,164.33 553.45,162.83 553.57,161.41 553.71,160.07 553.86,158.80 554.02,157.61 554.20,156.48 554.40,155.41 554.61,154.40 554.84,153.43 555.09,152.52 555.35,151.64 555.63,150.81 555.93,150.01 556.25,149.25 556.58,148.51 556.93,147.81 557.30,147.13 557.69,146.48 558.09,145.85 558.52,145.24 558.96,144.65 559.42,144.08 559.90,143.53 560.40,142.99 560.92,142.47 561.46,141.97 562.01,141.48 562.59,141.00 563.18,140.54 563.80,140.08 564.43,139.64 565.09,139.21 565.76,138.79 566.46,138.38 567.17,137.98 567.91,137.59 568.67,137.21 569.44,136.84 570.24,136.47 571.06,136.11 571.89,135.76 572.75,135.41 573.63,135.08 574.53,134.75 575.45,134.42 576.40,134.10 577.36,133.79 578.35,133.48 579.35,133.18 580.38,132.88 581.43,132.59 582.50,132.30" fill="none" stroke="#3d3d3d" stroke-width="2.2" stroke-linecap="butt"/>
<polyline points="593.90,162.10 593.90,161.92 593.92,161.32 593.94,160.33 593.98,159.07 594.02,157.66 594.09,156.20 594.16,154.76 594.25,153.36 594.35,152.02 594.47,150.75 594.61,149.55 594.76,148.41 594.92,147.34 595.10,146.33 595.30,145.38 595.51,144.47 595.74,143.61 595.99,142.79 596.25,142.01 596.53,141.26 596.83,140.55 597.15,139.86 597.48,139.21 597.83,138.57 598.20,137.97 598.59,137.38 598.99,136.82 599.42,136.27 599.86,135.75 600.32,135.24 600.80,134.74 601.30,134.27 601.82,133.80 602.36,133.35 602.91,132.91 603.49,132.49 604.08,132.07 604.70,131.67 605.33,131.27 605.99,130.89 606.66,130.51 607.36,130.14 608.07,129.79 608.81,129.44 609.57,129.09 610.34,128.76 611.14,128.43 611.96,128.11 612.79,127.80 613.65,127.49 614.53,127.18 615.43,126.89 616.35,126.60 617.30,126.31 618.26,126.03 619.25,125.76 620.25,125.48 621.28,125.22 622.33,124.96 623.40,124.70" fill="none" stroke="#3d3d3d" stroke-width="2.2" stroke-linecap="butt"/>
<polyline points="635.30,178.50 635.30,178.34 635.32,177.82 635.34,176.95 635.38,175.84 635.43,174.61 635.49,173.33 635.57,172.06 635.66,170.83 635.76,169.66 635.88,168.54 636.02,167.49 636.17,166.50 636.34,165.56 636.52,164.67 636.73,163.83 636.94,163.04 637.18,162.28 637.43,161.56 637.70,160.88 637.98,160.22 638.29,159.60 638.61,159.00 638.95,158.42 639.31,157.87 639.69,157.34 640.08,156.82 640.50,156.33 640.93,155.85 641.38,155.39 641.85,154.94 642.34,154.51 642.85,154.09 643.38,153.68 643.93,153.29 644.50,152.90 645.08,152.53 645.69,152.16 646.32,151.81 646.97,151.46 647.64,151.13 648.32,150.80 649.03,150.47 649.76,150.16 650.51,149.85 651.28,149.55 652.08,149.26 652.89,148.97 653.72,148.69 654.58,148.41 655.45,148.14 656.35,147.88 657.27,147.62 658.21,147.36 659.17,147.11 660.16,146.87 661.16,146.63 662.19,146.39 663.24,146.15 664.31,145.93 665.40,145.70" fill="none" stroke="#3d3d3d" stroke-width="2.2" stroke-linecap="butt"/>
<line x1="56.50" y1="32.80" x2="56.50" y2="192.85" stroke="#2a2a2a" stroke-width="1.5"/>
<line x1="56.50" y1="165.55" x2="58.70" y2="165.55" stroke="#2a2a2a" stroke-width="1"/>
<line x1="56.50" y1="139.00" x2="58.70" y2="139.00" stroke="#2a2a2a" stroke-width="1"/>
<line x1="56.50" y1="112.45" x2="58.70" y2="112.45" stroke="#2a2a2a" stroke-width="1"/>
<line x1="56.50" y1="85.90" x2="58.70" y2="85.90" stroke="#2a2a2a" stroke-width="1"/>
<line x1="56.50" y1="59.35" x2="58.70" y2="59.35" stroke="#2a2a2a" stroke-width="1"/>
<line x1="56.50" y1="32.80" x2="58.70" y2="32.80" stroke="#2a2a2a" stroke-width="1"/>
<line x1="55.75" y1="192.10" x2="92.30" y2="192.10" stroke="#2a2a2a" stroke-width="1.5"/>
<line x1="97.55" y1="192.10" x2="133.45" y2="192.10" stroke="#2a2a2a" stroke-width="1.5"/>
<line x1="138.70" y1="192.10" x2="174.60" y2="192.10" stroke="#2a2a2a" stroke-width="1.5"/>
<line x1="179.85" y1="192.10" x2="215.75" y2="192.10" stroke="#2a2a2a" stroke-width="1.5"/>
<line x1="221.00" y1="192.10" x2="256.90" y2="192.10" stroke="#2a2a2a" stroke-width="1.5"/>
<line x1="262.15" y1="192.10" x2="298.05" y2="192.10" stroke="#2a2a2a" stroke-width="1.5"/>
<line x1="303.30" y1="192.10" x2="339.20" y2="192.10" stroke="#2a2a2a" stroke-width="1.5"/>
<line x1="344.45" y1="192.10" x2="380.35" y2="192.10" stroke="#2a2a2a" stroke-width="1.5"/>
<line x1="385.60" y1="192.10" x2="421.50" y2="192.10" stroke="#2a2a2a" stroke-width="1.5"/>
<line x1="426.75" y1="192.10" x2="462.65" y2="192.10" stroke="#2a2a2a" stroke-width="1.5"/>
<line x1="467.90" y1="192.10" x2="503.80" y2="192.10" stroke="#2a2a2a" stroke-width="1.5"/>
<line x1="509.05" y1="192.10" x2="544.95" y2="192.10" stroke="#2a2a2a" stroke-width="1.5"/>
<line x1="550.20" y1="192.10" x2="586.10" y2="192.10" stroke="#2a2a2a" stroke-width="1.5"/>
<line x1="591.35" y1="192.10" x2="627.25" y2="192.10" stroke="#2a2a2a" stroke-width="1.5"/>
<line x1="632.50" y1="192.10" x2="668.40" y2="192.10" stroke="#2a2a2a" stroke-width="1.5"/>
<text x="51.80" y="43.90" font-size="12.8" font-weight="400" fill="#111" stroke="#111" stroke-width="0.25" text-anchor="end" >60</text>
<text x="51.80" y="121.40" font-size="12.8" font-weight="400" fill="#111" stroke="#111" stroke-width="0.25" text-anchor="end" >30</text>
<text x="51.80" y="192.40" font-size="12.8" font-weight="400" fill="#111" stroke="#111" stroke-width="0.25" text-anchor="end" >0</text>
<text x="0.00" y="0.00" font-size="12.8" font-weight="400" fill="#111" stroke="#111" stroke-width="0.25" text-anchor="middle" transform="translate(14.9,120.0) rotate(-90)">Sulcal span [mm]</text>
<text x="56.90" y="211.40" font-size="12.8" font-weight="400" fill="#111" stroke="#111" stroke-width="0.25" text-anchor="start" >0</text>
<text x="74.50" y="211.40" font-size="12.8" font-weight="400" fill="#111" stroke="#111" stroke-width="0.25" text-anchor="start" >420</text>
<text x="314.90" y="210.90" font-size="12.8" font-weight="400" fill="#111" stroke="#111" stroke-width="0.25" text-anchor="start" >Age in days</text>
<text x="3.60" y="481.80" font-size="12.8" font-weight="400" fill="#111" stroke="#111" stroke-width="0.25" text-anchor="start" >(d) Cortical Thickness</text>
<text x="59.40" y="502.20" font-size="12.8" font-weight="700" fill="#b9f1f8" stroke="#b9f1f8" stroke-width="0.2" text-anchor="start" >calc</text>
<text x="97.90" y="502.20" font-size="12.8" font-weight="700" fill="#a0c2f4" stroke="#a0c2f4" stroke-width="0.2" text-anchor="start" >insula</text>
<text x="142.30" y="502.20" font-size="12.8" font-weight="700" fill="#6593f7" stroke="#6593f7" stroke-width="0.2" text-anchor="start" >cing</text>
<text x="179.60" y="502.20" font-size="12.8" font-weight="700" fill="#4264e8" stroke="#4264e8" stroke-width="0.2" text-anchor="start" >pos</text>
<text x="220.50" y="502.20" font-size="12.8" font-weight="700" fill="#b3e888" stroke="#b3e888" stroke-width="0.2" text-anchor="start" >cent</text>
<text x="253.80" y="502.20" font-size="12.8" font-weight="700" fill="#7bd0a6" stroke="#7bd0a6" stroke-width="0.2" text-anchor="start" >precent</text>
<text x="307.40" y="502.20" font-size="12.8" font-weight="700" fill="#5a9e99" stroke="#5a9e99" stroke-width="0.2" text-anchor="start" >cos</text>
<text x="347.40" y="502.20" font-size="12.8" font-weight="700" fill="#356468" stroke="#356468" stroke-width="0.2" text-anchor="start" >sts</text>
<text x="373.60" y="502.20" font-size="12.8" font-weight="700" fill="#e9e459" stroke="#e9e459" stroke-width="0.2" text-anchor="start" >postcent</text>
<text x="433.70" y="502.20" font-size="12.8" font-weight="700" fill="#e39e43" stroke="#e39e43" stroke-width="0.2" text-anchor="start" >sfs</text>
<text x="466.30" y="502.20" font-size="12.8" font-weight="700" fill="#c47f3d" stroke="#c47f3d" stroke-width="0.2" text-anchor="start" >ips</text>
<text x="510.10" y="502.20" font-size="12.8" font-weight="700" fill="#8b5f28" stroke="#8b5f28" stroke-width="0.2" text-anchor="start" >los</text>
<text x="552.80" y="502.20" font-size="12.8" font-weight="700" fill="#e9b2ee" stroke="#e9b2ee" stroke-width="0.2" text-anchor="start" >ifs</text>
<text x="589.60" y="502.20" font-size="12.8" font-weight="700" fill="#e53d9e" stroke="#e53d9e" stroke-width="0.2" text-anchor="start" >ots</text>
<text x="633.40" y="502.20" font-size="12.8" font-weight="700" fill="#8d2363" stroke="#8d2363" stroke-width="0.2" text-anchor="start" >its</text>
<circle cx="63.8" cy="550.9" r="2.55" fill="#b9f1f8" stroke="rgba(120,120,120,0.45)" stroke-width="0.5"/>
<circle cx="62.5" cy="554.4" r="2.55" fill="#b9f1f8" stroke="rgba(120,120,120,0.45)" stroke-width="0.5"/>
<circle cx="58.5" cy="559.4" r="2.55" fill="#b9f1f8" stroke="rgba(120,120,120,0.45)" stroke-width="0.5"/>
<circle cx="64.5" cy="559.4" r="2.55" fill="#b9f1f8" stroke="rgba(120,120,120,0.45)" stroke-width="0.5"/>
<circle cx="68.4" cy="558.8" r="2.55" fill="#b9f1f8" stroke="rgba(120,120,120,0.45)" stroke-width="0.5"/>
<circle cx="82.8" cy="562.7" r="2.55" fill="#b9f1f8" stroke="rgba(120,120,120,0.45)" stroke-width="0.5"/>
<circle cx="86.1" cy="562.7" r="2.55" fill="#b9f1f8" stroke="rgba(120,120,120,0.45)" stroke-width="0.5"/>
<circle cx="55.9" cy="563.4" r="2.55" fill="#b9f1f8" stroke="rgba(120,120,120,0.45)" stroke-width="0.5"/>
<circle cx="60.5" cy="563.4" r="2.55" fill="#b9f1f8" stroke="rgba(120,120,120,0.45)" stroke-width="0.5"/>
<circle cx="66.4" cy="564.7" r="2.55" fill="#b9f1f8" stroke="rgba(120,120,120,0.45)" stroke-width="0.5"/>
<circle cx="71.7" cy="566.0" r="2.55" fill="#b9f1f8" stroke="rgba(120,120,120,0.45)" stroke-width="0.5"/>
<circle cx="80.9" cy="566.0" r="2.55" fill="#b9f1f8" stroke="rgba(120,120,120,0.45)" stroke-width="0.5"/>
<circle cx="83.5" cy="566.6" r="2.55" fill="#b9f1f8" stroke="rgba(120,120,120,0.45)" stroke-width="0.5"/>
<circle cx="57.9" cy="568.6" r="2.55" fill="#b9f1f8" stroke="rgba(120,120,120,0.45)" stroke-width="0.5"/>
<circle cx="63.1" cy="568.0" r="2.55" fill="#b9f1f8" stroke="rgba(120,120,120,0.45)" stroke-width="0.5"/>
<circle cx="68.4" cy="568.6" r="2.55" fill="#b9f1f8" stroke="rgba(120,120,120,0.45)" stroke-width="0.5"/>
<circle cx="55.9" cy="572.6" r="2.55" fill="#b9f1f8" stroke="rgba(120,120,120,0.45)" stroke-width="0.5"/>
<circle cx="61.8" cy="573.9" r="2.55" fill="#b9f1f8" stroke="rgba(120,120,120,0.45)" stroke-width="0.5"/>
<circle cx="67.1" cy="573.2" r="2.55" fill="#b9f1f8" stroke="rgba(120,120,120,0.45)" stroke-width="0.5"/>
<circle cx="70.4" cy="572.6" r="2.55" fill="#b9f1f8" stroke="rgba(120,120,120,0.45)" stroke-width="0.5"/>
<circle cx="82.2" cy="574.5" r="2.55" fill="#b9f1f8" stroke="rgba(120,120,120,0.45)" stroke-width="0.5"/>
<circle cx="57.9" cy="576.5" r="2.55" fill="#b9f1f8" stroke="rgba(120,120,120,0.45)" stroke-width="0.5"/>
<circle cx="65.8" cy="575.8" r="2.55" fill="#b9f1f8" stroke="rgba(120,120,120,0.45)" stroke-width="0.5"/>
<circle cx="71.0" cy="577.8" r="2.55" fill="#b9f1f8" stroke="rgba(120,120,120,0.45)" stroke-width="0.5"/>
<circle cx="82.2" cy="579.1" r="2.55" fill="#b9f1f8" stroke="rgba(120,120,120,0.45)" stroke-width="0.5"/>
<circle cx="63.1" cy="579.1" r="2.55" fill="#b9f1f8" stroke="rgba(120,120,120,0.45)" stroke-width="0.5"/>
<circle cx="57.9" cy="581.8" r="2.55" fill="#b9f1f8" stroke="rgba(120,120,120,0.45)" stroke-width="0.5"/>
<circle cx="68.4" cy="580.4" r="2.55" fill="#b9f1f8" stroke="rgba(120,120,120,0.45)" stroke-width="0.5"/>
<circle cx="83.5" cy="579.8" r="2.55" fill="#b9f1f8" stroke="rgba(120,120,120,0.45)" stroke-width="0.5"/>
<circle cx="59.2" cy="566.0" r="2.55" fill="#b9f1f8" stroke="rgba(120,120,120,0.45)" stroke-width="0.5"/>
<circle cx="69.7" cy="576.5" r="2.55" fill="#b9f1f8" stroke="rgba(120,120,120,0.45)" stroke-width="0.5"/>
<circle cx="61.8" cy="563.4" r="2.55" fill="#b9f1f8" stroke="rgba(120,120,120,0.45)" stroke-width="0.5"/>
<circle cx="65.8" cy="567.3" r="2.55" fill="#b9f1f8" stroke="rgba(120,120,120,0.45)" stroke-width="0.5"/>
<circle cx="69.7" cy="566.0" r="2.55" fill="#b9f1f8" stroke="rgba(120,120,120,0.45)" stroke-width="0.5"/>
<circle cx="63.1" cy="572.6" r="2.55" fill="#b9f1f8" stroke="rgba(120,120,120,0.45)" stroke-width="0.5"/>
<circle cx="68.4" cy="575.2" r="2.55" fill="#b9f1f8" stroke="rgba(120,120,120,0.45)" stroke-width="0.5"/>
<circle cx="64.5" cy="577.8" r="2.55" fill="#b9f1f8" stroke="rgba(120,120,120,0.45)" stroke-width="0.5"/>
<circle cx="60.5" cy="580.4" r="2.55" fill="#b9f1f8" stroke="rgba(120,120,120,0.45)" stroke-width="0.5"/>
<circle cx="67.1" cy="579.1" r="2.55" fill="#b9f1f8" stroke="rgba(120,120,120,0.45)" stroke-width="0.5"/>
<circle cx="72.3" cy="569.9" r="2.55" fill="#b9f1f8" stroke="rgba(120,120,120,0.45)" stroke-width="0.5"/>
<circle cx="56.6" cy="575.2" r="2.55" fill="#b9f1f8" stroke="rgba(120,120,120,0.45)" stroke-width="0.5"/>
<circle cx="124.2" cy="531.2" r="2.55" fill="#a0c2f4" stroke="rgba(120,120,120,0.45)" stroke-width="0.5"/>
<circle cx="126.2" cy="534.5" r="2.55" fill="#a0c2f4" stroke="rgba(120,120,120,0.45)" stroke-width="0.5"/>
<circle cx="123.6" cy="538.4" r="2.55" fill="#a0c2f4" stroke="rgba(120,120,120,0.45)" stroke-width="0.5"/>
<circle cx="122.3" cy="541.7" r="2.55" fill="#a0c2f4" stroke="rgba(120,120,120,0.45)" stroke-width="0.5"/>
<circle cx="122.9" cy="545.0" r="2.55" fill="#a0c2f4" stroke="rgba(120,120,120,0.45)" stroke-width="0.5"/>
<circle cx="110.4" cy="544.3" r="2.55" fill="#a0c2f4" stroke="rgba(120,120,120,0.45)" stroke-width="0.5"/>
<circle cx="107.2" cy="550.9" r="2.55" fill="#a0c2f4" stroke="rgba(120,120,120,0.45)" stroke-width="0.5"/>
<circle cx="111.1" cy="551.5" r="2.55" fill="#a0c2f4" stroke="rgba(120,120,120,0.45)" stroke-width="0.5"/>
<circle cx="113.1" cy="557.4" r="2.55" fill="#a0c2f4" stroke="rgba(120,120,120,0.45)" stroke-width="0.5"/>
<circle cx="99.9" cy="558.8" r="2.55" fill="#a0c2f4" stroke="rgba(120,120,120,0.45)" stroke-width="0.5"/>
<circle cx="109.1" cy="560.1" r="2.55" fill="#a0c2f4" stroke="rgba(120,120,120,0.45)" stroke-width="0.5"/>
<circle cx="99.3" cy="562.0" r="2.55" fill="#a0c2f4" stroke="rgba(120,120,120,0.45)" stroke-width="0.5"/>
<circle cx="103.9" cy="563.4" r="2.55" fill="#a0c2f4" stroke="rgba(120,120,120,0.45)" stroke-width="0.5"/>
<circle cx="111.1" cy="564.0" r="2.55" fill="#a0c2f4" stroke="rgba(120,120,120,0.45)" stroke-width="0.5"/>
<circle cx="107.8" cy="565.3" r="2.55" fill="#a0c2f4" stroke="rgba(120,120,120,0.45)" stroke-width="0.5"/>
<circle cx="98.6" cy="567.3" r="2.55" fill="#a0c2f4" stroke="rgba(120,120,120,0.45)" stroke-width="0.5"/>
<circle cx="103.9" cy="569.3" r="2.55" fill="#a0c2f4" stroke="rgba(120,120,120,0.45)" stroke-width="0.5"/>
<circle cx="109.8" cy="568.6" r="2.55" fill="#a0c2f4" stroke="rgba(120,120,120,0.45)" stroke-width="0.5"/>
<circle cx="98.6" cy="571.9" r="2.55" fill="#a0c2f4" stroke="rgba(120,120,120,0.45)" stroke-width="0.5"/>
<circle cx="105.8" cy="571.9" r="2.55" fill="#a0c2f4" stroke="rgba(120,120,120,0.45)" stroke-width="0.5"/>
<circle cx="101.2" cy="575.2" r="2.55" fill="#a0c2f4" stroke="rgba(120,120,120,0.45)" stroke-width="0.5"/>
<circle cx="97.3" cy="576.5" r="2.55" fill="#a0c2f4" stroke="rgba(120,120,120,0.45)" stroke-width="0.5"/>
<circle cx="103.2" cy="577.8" r="2.55" fill="#a0c2f4" stroke="rgba(120,120,120,0.45)" stroke-width="0.5"/>
<circle cx="124.2" cy="555.5" r="2.55" fill="#a0c2f4" stroke="rgba(120,120,120,0.45)" stroke-width="0.5"/>
<circle cx="107.8" cy="558.1" r="2.55" fill="#a0c2f4" stroke="rgba(120,120,120,0.45)" stroke-width="0.5"/>
<circle cx="102.6" cy="559.4" r="2.55" fill="#a0c2f4" stroke="rgba(120,120,120,0.45)" stroke-width="0.5"/>
<circle cx="106.5" cy="560.7" r="2.55" fill="#a0c2f4" stroke="rgba(120,120,120,0.45)" stroke-width="0.5"/>
<circle cx="111.8" cy="559.4" r="2.55" fill="#a0c2f4" stroke="rgba(120,120,120,0.45)" stroke-width="0.5"/>
<circle cx="101.2" cy="566.0" r="2.55" fill="#a0c2f4" stroke="rgba(120,120,120,0.45)" stroke-width="0.5"/>
<circle cx="106.5" cy="566.0" r="2.55" fill="#a0c2f4" stroke="rgba(120,120,120,0.45)" stroke-width="0.5"/>
<circle cx="113.1" cy="563.4" r="2.55" fill="#a0c2f4" stroke="rgba(120,120,120,0.45)" stroke-width="0.5"/>
<circle cx="102.6" cy="572.6" r="2.55" fill="#a0c2f4" stroke="rgba(120,120,120,0.45)" stroke-width="0.5"/>
<circle cx="107.8" cy="569.9" r="2.55" fill="#a0c2f4" stroke="rgba(120,120,120,0.45)" stroke-width="0.5"/>
<circle cx="110.4" cy="566.0" r="2.55" fill="#a0c2f4" stroke="rgba(120,120,120,0.45)" stroke-width="0.5"/>
<circle cx="99.9" cy="576.5" r="2.55" fill="#a0c2f4" stroke="rgba(120,120,120,0.45)" stroke-width="0.5"/>
<circle cx="105.2" cy="575.2" r="2.55" fill="#a0c2f4" stroke="rgba(120,120,120,0.45)" stroke-width="0.5"/>
<circle cx="114.4" cy="558.1" r="2.55" fill="#a0c2f4" stroke="rgba(120,120,120,0.45)" stroke-width="0.5"/>
<circle cx="109.1" cy="554.2" r="2.55" fill="#a0c2f4" stroke="rgba(120,120,120,0.45)" stroke-width="0.5"/>
<circle cx="113.1" cy="554.2" r="2.55" fill="#a0c2f4" stroke="rgba(120,120,120,0.45)" stroke-width="0.5"/>
<circle cx="164.2" cy="547.6" r="2.55" fill="#6593f7" stroke="rgba(120,120,120,0.45)" stroke-width="0.5"/>
<circle cx="166.1" cy="551.5" r="2.55" fill="#6593f7" stroke="rgba(120,120,120,0.45)" stroke-width="0.5"/>
<circle cx="164.2" cy="552.2" r="2.55" fill="#6593f7" stroke="rgba(120,120,120,0.45)" stroke-width="0.5"/>
<circle cx="167.4" cy="556.1" r="2.55" fill="#6593f7" stroke="rgba(120,120,120,0.45)" stroke-width="0.5"/>
<circle cx="151.0" cy="558.1" r="2.55" fill="#6593f7" stroke="rgba(120,120,120,0.45)" stroke-width="0.5"/>
<circle cx="153.0" cy="559.4" r="2.55" fill="#6593f7" stroke="rgba(120,120,120,0.45)" stroke-width="0.5"/>
<circle cx="147.1" cy="564.0" r="2.55" fill="#6593f7" stroke="rgba(120,120,120,0.45)" stroke-width="0.5"/>
<circle cx="164.8" cy="562.7" r="2.55" fill="#6593f7" stroke="rgba(120,120,120,0.45)" stroke-width="0.5"/>
<circle cx="149.7" cy="566.6" r="2.55" fill="#6593f7" stroke="rgba(120,120,120,0.45)" stroke-width="0.5"/>
<circle cx="153.7" cy="567.3" r="2.55" fill="#6593f7" stroke="rgba(120,120,120,0.45)" stroke-width="0.5"/>
<circle cx="144.5" cy="568.0" r="2.55" fill="#6593f7" stroke="rgba(120,120,120,0.45)" stroke-width="0.5"/>
<circle cx="153.0" cy="570.6" r="2.55" fill="#6593f7" stroke="rgba(120,120,120,0.45)" stroke-width="0.5"/>
<circle cx="140.5" cy="570.6" r="2.55" fill="#6593f7" stroke="rgba(120,120,120,0.45)" stroke-width="0.5"/>
<circle cx="147.1" cy="571.9" r="2.55" fill="#6593f7" stroke="rgba(120,120,120,0.45)" stroke-width="0.5"/>
<circle cx="139.2" cy="573.9" r="2.55" fill="#6593f7" stroke="rgba(120,120,120,0.45)" stroke-width="0.5"/>
<circle cx="145.8" cy="575.2" r="2.55" fill="#6593f7" stroke="rgba(120,120,120,0.45)" stroke-width="0.5"/>
<circle cx="151.7" cy="573.9" r="2.55" fill="#6593f7" stroke="rgba(120,120,120,0.45)" stroke-width="0.5"/>
<circle cx="139.2" cy="576.5" r="2.55" fill="#6593f7" stroke="rgba(120,120,120,0.45)" stroke-width="0.5"/>
<circle cx="143.1" cy="577.8" r="2.55" fill="#6593f7" stroke="rgba(120,120,120,0.45)" stroke-width="0.5"/>
<circle cx="140.5" cy="582.4" r="2.55" fill="#6593f7" stroke="rgba(120,120,120,0.45)" stroke-width="0.5"/>
<circle cx="144.5" cy="581.1" r="2.55" fill="#6593f7" stroke="rgba(120,120,120,0.45)" stroke-width="0.5"/>
<circle cx="148.4" cy="576.5" r="2.55" fill="#6593f7" stroke="rgba(120,120,120,0.45)" stroke-width="0.5"/>
<circle cx="143.1" cy="569.9" r="2.55" fill="#6593f7" stroke="rgba(120,120,120,0.45)" stroke-width="0.5"/>
<circle cx="148.4" cy="567.3" r="2.55" fill="#6593f7" stroke="rgba(120,120,120,0.45)" stroke-width="0.5"/>
<circle cx="145.8" cy="572.6" r="2.55" fill="#6593f7" stroke="rgba(120,120,120,0.45)" stroke-width="0.5"/>
<circle cx="149.7" cy="572.6" r="2.55" fill="#6593f7" stroke="rgba(120,120,120,0.45)" stroke-width="0.5"/>
<circle cx="141.8" cy="576.5" r="2.55" fill="#6593f7" stroke="rgba(120,120,120,0.45)" stroke-width="0.5"/>
<circle cx="147.1" cy="577.8" r="2.55" fill="#6593f7" stroke="rgba(120,120,120,0.45)" stroke-width="0.5"/>
<circle cx="151.0" cy="569.9" r="2.55" fill="#6593f7" stroke="rgba(120,120,120,0.45)" stroke-width="0.5"/>
<circle cx="144.5" cy="564.7" r="2.55" fill="#6593f7" stroke="rgba(120,120,120,0.45)" stroke-width="0.5"/>
<circle cx="152.3" cy="563.4" r="2.55" fill="#6593f7" stroke="rgba(120,120,120,0.45)" stroke-width="0.5"/>
<circle cx="141.8" cy="580.4" r="2.55" fill="#6593f7" stroke="rgba(120,120,120,0.45)" stroke-width="0.5"/>
<circle cx="145.8" cy="580.4" r="2.55" fill="#6593f7" stroke="rgba(120,120,120,0.45)" stroke-width="0.5"/>
<circle cx="206.2" cy="545.0" r="2.55" fill="#4264e8" stroke="rgba(120,120,120,0.45)" stroke-width="0.5"/>
<circle cx="206.2" cy="548.2" r="2.55" fill="#4264e8" stroke="rgba(120,120,120,0.45)" stroke-width="0.5"/>
<circle cx="208.2" cy="552.2" r="2.55" fill="#4264e8" stroke="rgba(120,120,120,0.45)" stroke-width="0.5"/>
<circle cx="191.8" cy="550.9" r="2.55" fill="#4264e8" stroke="rgba(120,120,120,0.45)" stroke-width="0.5"/>
<circle cx="189.8" cy="553.5" r="2.55" fill="#4264e8" stroke="rgba(120,120,120,0.45)" stroke-width="0.5"/>
<circle cx="205.5" cy="555.5" r="2.55" fill="#4264e8" stroke="rgba(120,120,120,0.45)" stroke-width="0.5"/>
<circle cx="193.1" cy="559.4" r="2.55" fill="#4264e8" stroke="rgba(120,120,120,0.45)" stroke-width="0.5"/>
<circle cx="206.2" cy="564.0" r="2.55" fill="#4264e8" stroke="rgba(120,120,120,0.45)" stroke-width="0.5"/>
<circle cx="181.9" cy="562.7" r="2.55" fill="#4264e8" stroke="rgba(120,120,120,0.45)" stroke-width="0.5"/>
<circle cx="187.8" cy="562.7" r="2.55" fill="#4264e8" stroke="rgba(120,120,120,0.45)" stroke-width="0.5"/>
<circle cx="195.7" cy="564.7" r="2.55" fill="#4264e8" stroke="rgba(120,120,120,0.45)" stroke-width="0.5"/>
<circle cx="181.2" cy="566.6" r="2.55" fill="#4264e8" stroke="rgba(120,120,120,0.45)" stroke-width="0.5"/>
<circle cx="186.5" cy="566.6" r="2.55" fill="#4264e8" stroke="rgba(120,120,120,0.45)" stroke-width="0.5"/>
<circle cx="193.1" cy="566.0" r="2.55" fill="#4264e8" stroke="rgba(120,120,120,0.45)" stroke-width="0.5"/>
<circle cx="180.6" cy="571.2" r="2.55" fill="#4264e8" stroke="rgba(120,120,120,0.45)" stroke-width="0.5"/>
<circle cx="185.2" cy="570.6" r="2.55" fill="#4264e8" stroke="rgba(120,120,120,0.45)" stroke-width="0.5"/>
<circle cx="191.1" cy="569.9" r="2.55" fill="#4264e8" stroke="rgba(120,120,120,0.45)" stroke-width="0.5"/>
<circle cx="194.4" cy="570.6" r="2.55" fill="#4264e8" stroke="rgba(120,120,120,0.45)" stroke-width="0.5"/>
<circle cx="182.6" cy="573.9" r="2.55" fill="#4264e8" stroke="rgba(120,120,120,0.45)" stroke-width="0.5"/>
<circle cx="188.5" cy="573.9" r="2.55" fill="#4264e8" stroke="rgba(120,120,120,0.45)" stroke-width="0.5"/>
<circle cx="193.1" cy="574.5" r="2.55" fill="#4264e8" stroke="rgba(120,120,120,0.45)" stroke-width="0.5"/>
<circle cx="181.2" cy="577.8" r="2.55" fill="#4264e8" stroke="rgba(120,120,120,0.45)" stroke-width="0.5"/>
<circle cx="186.5" cy="577.2" r="2.55" fill="#4264e8" stroke="rgba(120,120,120,0.45)" stroke-width="0.5"/>
<circle cx="182.6" cy="581.8" r="2.55" fill="#4264e8" stroke="rgba(120,120,120,0.45)" stroke-width="0.5"/>
<circle cx="186.5" cy="580.4" r="2.55" fill="#4264e8" stroke="rgba(120,120,120,0.45)" stroke-width="0.5"/>
<circle cx="183.9" cy="564.7" r="2.55" fill="#4264e8" stroke="rgba(120,120,120,0.45)" stroke-width="0.5"/>
<circle cx="189.1" cy="566.0" r="2.55" fill="#4264e8" stroke="rgba(120,120,120,0.45)" stroke-width="0.5"/>
<circle cx="182.6" cy="569.9" r="2.55" fill="#4264e8" stroke="rgba(120,120,120,0.45)" stroke-width="0.5"/>
<circle cx="187.8" cy="571.2" r="2.55" fill="#4264e8" stroke="rgba(120,120,120,0.45)" stroke-width="0.5"/>
<circle cx="191.8" cy="572.6" r="2.55" fill="#4264e8" stroke="rgba(120,120,120,0.45)" stroke-width="0.5"/>
<circle cx="183.9" cy="575.2" r="2.55" fill="#4264e8" stroke="rgba(120,120,120,0.45)" stroke-width="0.5"/>
<circle cx="189.1" cy="576.5" r="2.55" fill="#4264e8" stroke="rgba(120,120,120,0.45)" stroke-width="0.5"/>
<circle cx="185.2" cy="579.1" r="2.55" fill="#4264e8" stroke="rgba(120,120,120,0.45)" stroke-width="0.5"/>
<circle cx="191.8" cy="563.4" r="2.55" fill="#4264e8" stroke="rgba(120,120,120,0.45)" stroke-width="0.5"/>
<circle cx="195.7" cy="562.0" r="2.55" fill="#4264e8" stroke="rgba(120,120,120,0.45)" stroke-width="0.5"/>
<circle cx="181.2" cy="573.9" r="2.55" fill="#4264e8" stroke="rgba(120,120,120,0.45)" stroke-width="0.5"/>
<circle cx="193.1" cy="558.1" r="2.55" fill="#4264e8" stroke="rgba(120,120,120,0.45)" stroke-width="0.5"/>
<circle cx="232.4" cy="554.2" r="2.55" fill="#b3e888" stroke="rgba(120,120,120,0.45)" stroke-width="0.5"/>
<circle cx="233.0" cy="558.1" r="2.55" fill="#b3e888" stroke="rgba(120,120,120,0.45)" stroke-width="0.5"/>
<circle cx="227.1" cy="560.7" r="2.55" fill="#b3e888" stroke="rgba(120,120,120,0.45)" stroke-width="0.5"/>
<circle cx="235.0" cy="561.8" r="2.55" fill="#b3e888" stroke="rgba(120,120,120,0.45)" stroke-width="0.5"/>
<circle cx="227.8" cy="564.0" r="2.55" fill="#b3e888" stroke="rgba(120,120,120,0.45)" stroke-width="0.5"/>
<circle cx="229.1" cy="566.6" r="2.55" fill="#b3e888" stroke="rgba(120,120,120,0.45)" stroke-width="0.5"/>
<circle cx="233.7" cy="567.3" r="2.55" fill="#b3e888" stroke="rgba(120,120,120,0.45)" stroke-width="0.5"/>
<circle cx="223.2" cy="569.3" r="2.55" fill="#b3e888" stroke="rgba(120,120,120,0.45)" stroke-width="0.5"/>
<circle cx="235.0" cy="569.3" r="2.55" fill="#b3e888" stroke="rgba(120,120,120,0.45)" stroke-width="0.5"/>
<circle cx="227.1" cy="570.6" r="2.55" fill="#b3e888" stroke="rgba(120,120,120,0.45)" stroke-width="0.5"/>
<circle cx="231.1" cy="570.6" r="2.55" fill="#b3e888" stroke="rgba(120,120,120,0.45)" stroke-width="0.5"/>
<circle cx="247.5" cy="570.6" r="2.55" fill="#b3e888" stroke="rgba(120,120,120,0.45)" stroke-width="0.5"/>
<circle cx="221.2" cy="573.2" r="2.55" fill="#b3e888" stroke="rgba(120,120,120,0.45)" stroke-width="0.5"/>
<circle cx="249.4" cy="573.9" r="2.55" fill="#b3e888" stroke="rgba(120,120,120,0.45)" stroke-width="0.5"/>
<circle cx="228.4" cy="576.5" r="2.55" fill="#b3e888" stroke="rgba(120,120,120,0.45)" stroke-width="0.5"/>
<circle cx="233.0" cy="576.5" r="2.55" fill="#b3e888" stroke="rgba(120,120,120,0.45)" stroke-width="0.5"/>
<circle cx="245.5" cy="577.2" r="2.55" fill="#b3e888" stroke="rgba(120,120,120,0.45)" stroke-width="0.5"/>
<circle cx="221.9" cy="578.5" r="2.55" fill="#b3e888" stroke="rgba(120,120,120,0.45)" stroke-width="0.5"/>
<circle cx="248.1" cy="578.5" r="2.55" fill="#b3e888" stroke="rgba(120,120,120,0.45)" stroke-width="0.5"/>
<circle cx="234.3" cy="581.1" r="2.55" fill="#b3e888" stroke="rgba(120,120,120,0.45)" stroke-width="0.5"/>
<circle cx="245.5" cy="580.4" r="2.55" fill="#b3e888" stroke="rgba(120,120,120,0.45)" stroke-width="0.5"/>
<circle cx="237.0" cy="583.7" r="2.55" fill="#b3e888" stroke="rgba(120,120,120,0.45)" stroke-width="0.5"/>
<circle cx="248.1" cy="583.1" r="2.55" fill="#b3e888" stroke="rgba(120,120,120,0.45)" stroke-width="0.5"/>
<circle cx="223.2" cy="585.7" r="2.55" fill="#b3e888" stroke="rgba(120,120,120,0.45)" stroke-width="0.5"/>
<circle cx="234.3" cy="586.4" r="2.55" fill="#b3e888" stroke="rgba(120,120,120,0.45)" stroke-width="0.5"/>
<circle cx="247.5" cy="587.0" r="2.55" fill="#b3e888" stroke="rgba(120,120,120,0.45)" stroke-width="0.5"/>
<circle cx="221.9" cy="581.8" r="2.55" fill="#b3e888" stroke="rgba(120,120,120,0.45)" stroke-width="0.5"/>
<circle cx="230.1" cy="559.4" r="2.55" fill="#b3e888" stroke="rgba(120,120,120,0.45)" stroke-width="0.5"/>
<circle cx="234.3" cy="564.5" r="2.55" fill="#b3e888" stroke="rgba(120,120,120,0.45)" stroke-width="0.5"/>
<circle cx="231.4" cy="567.0" r="2.55" fill="#b3e888" stroke="rgba(120,120,120,0.45)" stroke-width="0.5"/>
<circle cx="226.1" cy="568.0" r="2.55" fill="#b3e888" stroke="rgba(120,120,120,0.45)" stroke-width="0.5"/>
<circle cx="228.1" cy="568.6" r="2.55" fill="#b3e888" stroke="rgba(120,120,120,0.45)" stroke-width="0.5"/>
<circle cx="232.4" cy="569.0" r="2.55" fill="#b3e888" stroke="rgba(120,120,120,0.45)" stroke-width="0.5"/>
<circle cx="225.1" cy="570.0" r="2.55" fill="#b3e888" stroke="rgba(120,120,120,0.45)" stroke-width="0.5"/>
<circle cx="229.8" cy="573.5" r="2.55" fill="#b3e888" stroke="rgba(120,120,120,0.45)" stroke-width="0.5"/>
<circle cx="232.1" cy="573.5" r="2.55" fill="#b3e888" stroke="rgba(120,120,120,0.45)" stroke-width="0.5"/>
<circle cx="246.5" cy="573.9" r="2.55" fill="#b3e888" stroke="rgba(120,120,120,0.45)" stroke-width="0.5"/>
<circle cx="248.8" cy="576.2" r="2.55" fill="#b3e888" stroke="rgba(120,120,120,0.45)" stroke-width="0.5"/>
<circle cx="230.7" cy="576.5" r="2.55" fill="#b3e888" stroke="rgba(120,120,120,0.45)" stroke-width="0.5"/>
<circle cx="289.5" cy="551.5" r="2.55" fill="#7bd0a6" stroke="rgba(120,120,120,0.45)" stroke-width="0.5"/>
<circle cx="288.2" cy="556.1" r="2.55" fill="#7bd0a6" stroke="rgba(120,120,120,0.45)" stroke-width="0.5"/>
<circle cx="291.5" cy="558.8" r="2.55" fill="#7bd0a6" stroke="rgba(120,120,120,0.45)" stroke-width="0.5"/>
<circle cx="288.2" cy="562.7" r="2.55" fill="#7bd0a6" stroke="rgba(120,120,120,0.45)" stroke-width="0.5"/>
<circle cx="289.5" cy="567.3" r="2.55" fill="#7bd0a6" stroke="rgba(120,120,120,0.45)" stroke-width="0.5"/>
<circle cx="271.8" cy="560.1" r="2.55" fill="#7bd0a6" stroke="rgba(120,120,120,0.45)" stroke-width="0.5"/>
<circle cx="275.1" cy="561.4" r="2.55" fill="#7bd0a6" stroke="rgba(120,120,120,0.45)" stroke-width="0.5"/>
<circle cx="268.5" cy="566.0" r="2.55" fill="#7bd0a6" stroke="rgba(120,120,120,0.45)" stroke-width="0.5"/>
<circle cx="276.4" cy="565.3" r="2.55" fill="#7bd0a6" stroke="rgba(120,120,120,0.45)" stroke-width="0.5"/>
<circle cx="264.6" cy="568.6" r="2.55" fill="#7bd0a6" stroke="rgba(120,120,120,0.45)" stroke-width="0.5"/>
<circle cx="272.4" cy="569.3" r="2.55" fill="#7bd0a6" stroke="rgba(120,120,120,0.45)" stroke-width="0.5"/>
<circle cx="277.7" cy="570.6" r="2.55" fill="#7bd0a6" stroke="rgba(120,120,120,0.45)" stroke-width="0.5"/>
<circle cx="262.6" cy="573.9" r="2.55" fill="#7bd0a6" stroke="rgba(120,120,120,0.45)" stroke-width="0.5"/>
<circle cx="269.2" cy="573.2" r="2.55" fill="#7bd0a6" stroke="rgba(120,120,120,0.45)" stroke-width="0.5"/>
<circle cx="274.4" cy="573.9" r="2.55" fill="#7bd0a6" stroke="rgba(120,120,120,0.45)" stroke-width="0.5"/>
<circle cx="263.2" cy="577.2" r="2.55" fill="#7bd0a6" stroke="rgba(120,120,120,0.45)" stroke-width="0.5"/>
<circle cx="269.8" cy="577.8" r="2.55" fill="#7bd0a6" stroke="rgba(120,120,120,0.45)" stroke-width="0.5"/>
<circle cx="276.4" cy="579.1" r="2.55" fill="#7bd0a6" stroke="rgba(120,120,120,0.45)" stroke-width="0.5"/>
<circle cx="264.6" cy="583.1" r="2.55" fill="#7bd0a6" stroke="rgba(120,120,120,0.45)" stroke-width="0.5"/>
<circle cx="265.9" cy="585.7" r="2.55" fill="#7bd0a6" stroke="rgba(120,120,120,0.45)" stroke-width="0.5"/>
<circle cx="289.9" cy="557.5" r="2.55" fill="#7bd0a6" stroke="rgba(120,120,120,0.45)" stroke-width="0.5"/>
<circle cx="270.4" cy="567.6" r="2.55" fill="#7bd0a6" stroke="rgba(120,120,120,0.45)" stroke-width="0.5"/>
<circle cx="274.4" cy="567.3" r="2.55" fill="#7bd0a6" stroke="rgba(120,120,120,0.45)" stroke-width="0.5"/>
<circle cx="263.6" cy="571.2" r="2.55" fill="#7bd0a6" stroke="rgba(120,120,120,0.45)" stroke-width="0.5"/>
<circle cx="266.9" cy="570.9" r="2.55" fill="#7bd0a6" stroke="rgba(120,120,120,0.45)" stroke-width="0.5"/>
<circle cx="275.0" cy="570.0" r="2.55" fill="#7bd0a6" stroke="rgba(120,120,120,0.45)" stroke-width="0.5"/>
<circle cx="270.8" cy="571.2" r="2.55" fill="#7bd0a6" stroke="rgba(120,120,120,0.45)" stroke-width="0.5"/>
<circle cx="273.4" cy="571.6" r="2.55" fill="#7bd0a6" stroke="rgba(120,120,120,0.45)" stroke-width="0.5"/>
<circle cx="265.9" cy="573.5" r="2.55" fill="#7bd0a6" stroke="rgba(120,120,120,0.45)" stroke-width="0.5"/>
<circle cx="332.4" cy="543.2" r="2.55" fill="#5a9e99" stroke="rgba(120,120,120,0.45)" stroke-width="0.5"/>
<circle cx="329.8" cy="547.8" r="2.55" fill="#5a9e99" stroke="rgba(120,120,120,0.45)" stroke-width="0.5"/>
<circle cx="330.5" cy="553.1" r="2.55" fill="#5a9e99" stroke="rgba(120,120,120,0.45)" stroke-width="0.5"/>
<circle cx="329.2" cy="557.7" r="2.55" fill="#5a9e99" stroke="rgba(120,120,120,0.45)" stroke-width="0.5"/>
<circle cx="330.5" cy="563.6" r="2.55" fill="#5a9e99" stroke="rgba(120,120,120,0.45)" stroke-width="0.5"/>
<circle cx="328.5" cy="567.6" r="2.55" fill="#5a9e99" stroke="rgba(120,120,120,0.45)" stroke-width="0.5"/>
<circle cx="312.7" cy="560.3" r="2.55" fill="#5a9e99" stroke="rgba(120,120,120,0.45)" stroke-width="0.5"/>
<circle cx="316.7" cy="560.3" r="2.55" fill="#5a9e99" stroke="rgba(120,120,120,0.45)" stroke-width="0.5"/>
<circle cx="314.7" cy="564.3" r="2.55" fill="#5a9e99" stroke="rgba(120,120,120,0.45)" stroke-width="0.5"/>
<circle cx="318.7" cy="564.9" r="2.55" fill="#5a9e99" stroke="rgba(120,120,120,0.45)" stroke-width="0.5"/>
<circle cx="316.0" cy="567.6" r="2.55" fill="#5a9e99" stroke="rgba(120,120,120,0.45)" stroke-width="0.5"/>
<circle cx="309.5" cy="571.5" r="2.55" fill="#5a9e99" stroke="rgba(120,120,120,0.45)" stroke-width="0.5"/>
<circle cx="315.4" cy="571.5" r="2.55" fill="#5a9e99" stroke="rgba(120,120,120,0.45)" stroke-width="0.5"/>
<circle cx="304.2" cy="574.8" r="2.55" fill="#5a9e99" stroke="rgba(120,120,120,0.45)" stroke-width="0.5"/>
<circle cx="312.1" cy="575.4" r="2.55" fill="#5a9e99" stroke="rgba(120,120,120,0.45)" stroke-width="0.5"/>
<circle cx="316.7" cy="575.4" r="2.55" fill="#5a9e99" stroke="rgba(120,120,120,0.45)" stroke-width="0.5"/>
<circle cx="308.1" cy="579.4" r="2.55" fill="#5a9e99" stroke="rgba(120,120,120,0.45)" stroke-width="0.5"/>
<circle cx="314.7" cy="579.4" r="2.55" fill="#5a9e99" stroke="rgba(120,120,120,0.45)" stroke-width="0.5"/>
<circle cx="304.9" cy="582.7" r="2.55" fill="#5a9e99" stroke="rgba(120,120,120,0.45)" stroke-width="0.5"/>
<circle cx="311.4" cy="582.7" r="2.55" fill="#5a9e99" stroke="rgba(120,120,120,0.45)" stroke-width="0.5"/>
<circle cx="304.2" cy="586.0" r="2.55" fill="#5a9e99" stroke="rgba(120,120,120,0.45)" stroke-width="0.5"/>
<circle cx="308.1" cy="587.9" r="2.55" fill="#5a9e99" stroke="rgba(120,120,120,0.45)" stroke-width="0.5"/>
<circle cx="305.5" cy="591.2" r="2.55" fill="#5a9e99" stroke="rgba(120,120,120,0.45)" stroke-width="0.5"/>
<circle cx="306.2" cy="594.5" r="2.55" fill="#5a9e99" stroke="rgba(120,120,120,0.45)" stroke-width="0.5"/>
<circle cx="316.0" cy="583.3" r="2.55" fill="#5a9e99" stroke="rgba(120,120,120,0.45)" stroke-width="0.5"/>
<circle cx="313.7" cy="562.3" r="2.55" fill="#5a9e99" stroke="rgba(120,120,120,0.45)" stroke-width="0.5"/>
<circle cx="317.7" cy="562.6" r="2.55" fill="#5a9e99" stroke="rgba(120,120,120,0.45)" stroke-width="0.5"/>
<circle cx="316.7" cy="564.6" r="2.55" fill="#5a9e99" stroke="rgba(120,120,120,0.45)" stroke-width="0.5"/>
<circle cx="312.4" cy="571.5" r="2.55" fill="#5a9e99" stroke="rgba(120,120,120,0.45)" stroke-width="0.5"/>
<circle cx="313.8" cy="573.5" r="2.55" fill="#5a9e99" stroke="rgba(120,120,120,0.45)" stroke-width="0.5"/>
<circle cx="316.0" cy="573.5" r="2.55" fill="#5a9e99" stroke="rgba(120,120,120,0.45)" stroke-width="0.5"/>
<circle cx="314.4" cy="575.4" r="2.55" fill="#5a9e99" stroke="rgba(120,120,120,0.45)" stroke-width="0.5"/>
<circle cx="310.1" cy="577.4" r="2.55" fill="#5a9e99" stroke="rgba(120,120,120,0.45)" stroke-width="0.5"/>
<circle cx="313.4" cy="577.4" r="2.55" fill="#5a9e99" stroke="rgba(120,120,120,0.45)" stroke-width="0.5"/>
<circle cx="315.7" cy="577.4" r="2.55" fill="#5a9e99" stroke="rgba(120,120,120,0.45)" stroke-width="0.5"/>
<circle cx="311.4" cy="579.4" r="2.55" fill="#5a9e99" stroke="rgba(120,120,120,0.45)" stroke-width="0.5"/>
<circle cx="371.2" cy="544.6" r="2.55" fill="#356468" stroke="rgba(120,120,120,0.45)" stroke-width="0.5"/>
<circle cx="373.8" cy="547.8" r="2.55" fill="#356468" stroke="rgba(120,120,120,0.45)" stroke-width="0.5"/>
<circle cx="369.9" cy="550.5" r="2.55" fill="#356468" stroke="rgba(120,120,120,0.45)" stroke-width="0.5"/>
<circle cx="371.2" cy="553.8" r="2.55" fill="#356468" stroke="rgba(120,120,120,0.45)" stroke-width="0.5"/>
<circle cx="369.2" cy="557.7" r="2.55" fill="#356468" stroke="rgba(120,120,120,0.45)" stroke-width="0.5"/>
<circle cx="372.5" cy="560.3" r="2.55" fill="#356468" stroke="rgba(120,120,120,0.45)" stroke-width="0.5"/>
<circle cx="357.4" cy="558.4" r="2.55" fill="#356468" stroke="rgba(120,120,120,0.45)" stroke-width="0.5"/>
<circle cx="354.1" cy="561.6" r="2.55" fill="#356468" stroke="rgba(120,120,120,0.45)" stroke-width="0.5"/>
<circle cx="359.4" cy="562.3" r="2.55" fill="#356468" stroke="rgba(120,120,120,0.45)" stroke-width="0.5"/>
<circle cx="351.5" cy="565.6" r="2.55" fill="#356468" stroke="rgba(120,120,120,0.45)" stroke-width="0.5"/>
<circle cx="356.8" cy="565.6" r="2.55" fill="#356468" stroke="rgba(120,120,120,0.45)" stroke-width="0.5"/>
<circle cx="360.7" cy="567.6" r="2.55" fill="#356468" stroke="rgba(120,120,120,0.45)" stroke-width="0.5"/>
<circle cx="346.2" cy="569.5" r="2.55" fill="#356468" stroke="rgba(120,120,120,0.45)" stroke-width="0.5"/>
<circle cx="351.5" cy="570.2" r="2.55" fill="#356468" stroke="rgba(120,120,120,0.45)" stroke-width="0.5"/>
<circle cx="358.1" cy="570.2" r="2.55" fill="#356468" stroke="rgba(120,120,120,0.45)" stroke-width="0.5"/>
<circle cx="345.6" cy="573.5" r="2.55" fill="#356468" stroke="rgba(120,120,120,0.45)" stroke-width="0.5"/>
<circle cx="350.2" cy="574.1" r="2.55" fill="#356468" stroke="rgba(120,120,120,0.45)" stroke-width="0.5"/>
<circle cx="354.8" cy="573.5" r="2.55" fill="#356468" stroke="rgba(120,120,120,0.45)" stroke-width="0.5"/>
<circle cx="346.9" cy="577.4" r="2.55" fill="#356468" stroke="rgba(120,120,120,0.45)" stroke-width="0.5"/>
<circle cx="351.5" cy="578.1" r="2.55" fill="#356468" stroke="rgba(120,120,120,0.45)" stroke-width="0.5"/>
<circle cx="358.1" cy="577.4" r="2.55" fill="#356468" stroke="rgba(120,120,120,0.45)" stroke-width="0.5"/>
<circle cx="345.6" cy="582.0" r="2.55" fill="#356468" stroke="rgba(120,120,120,0.45)" stroke-width="0.5"/>
<circle cx="347.6" cy="585.3" r="2.55" fill="#356468" stroke="rgba(120,120,120,0.45)" stroke-width="0.5"/>
<circle cx="371.9" cy="549.1" r="2.55" fill="#356468" stroke="rgba(120,120,120,0.45)" stroke-width="0.5"/>
<circle cx="370.2" cy="555.8" r="2.55" fill="#356468" stroke="rgba(120,120,120,0.45)" stroke-width="0.5"/>
<circle cx="355.8" cy="560.0" r="2.55" fill="#356468" stroke="rgba(120,120,120,0.45)" stroke-width="0.5"/>
<circle cx="358.4" cy="560.3" r="2.55" fill="#356468" stroke="rgba(120,120,120,0.45)" stroke-width="0.5"/>
<circle cx="356.8" cy="562.0" r="2.55" fill="#356468" stroke="rgba(120,120,120,0.45)" stroke-width="0.5"/>
<circle cx="355.5" cy="563.6" r="2.55" fill="#356468" stroke="rgba(120,120,120,0.45)" stroke-width="0.5"/>
<circle cx="358.1" cy="564.0" r="2.55" fill="#356468" stroke="rgba(120,120,120,0.45)" stroke-width="0.5"/>
<circle cx="360.0" cy="565.0" r="2.55" fill="#356468" stroke="rgba(120,120,120,0.45)" stroke-width="0.5"/>
<circle cx="354.1" cy="565.6" r="2.55" fill="#356468" stroke="rgba(120,120,120,0.45)" stroke-width="0.5"/>
<circle cx="351.5" cy="567.9" r="2.55" fill="#356468" stroke="rgba(120,120,120,0.45)" stroke-width="0.5"/>
<circle cx="399.7" cy="558.1" r="2.55" fill="#e9e459" stroke="rgba(120,120,120,0.45)" stroke-width="0.5"/>
<circle cx="411.5" cy="556.8" r="2.55" fill="#e9e459" stroke="rgba(120,120,120,0.45)" stroke-width="0.5"/>
<circle cx="414.8" cy="557.4" r="2.55" fill="#e9e459" stroke="rgba(120,120,120,0.45)" stroke-width="0.5"/>
<circle cx="412.8" cy="560.1" r="2.55" fill="#e9e459" stroke="rgba(120,120,120,0.45)" stroke-width="0.5"/>
<circle cx="412.8" cy="563.4" r="2.55" fill="#e9e459" stroke="rgba(120,120,120,0.45)" stroke-width="0.5"/>
<circle cx="397.7" cy="563.4" r="2.55" fill="#e9e459" stroke="rgba(120,120,120,0.45)" stroke-width="0.5"/>
<circle cx="394.4" cy="566.6" r="2.55" fill="#e9e459" stroke="rgba(120,120,120,0.45)" stroke-width="0.5"/>
<circle cx="390.5" cy="568.6" r="2.55" fill="#e9e459" stroke="rgba(120,120,120,0.45)" stroke-width="0.5"/>
<circle cx="399.0" cy="569.3" r="2.55" fill="#e9e459" stroke="rgba(120,120,120,0.45)" stroke-width="0.5"/>
<circle cx="411.5" cy="569.3" r="2.55" fill="#e9e459" stroke="rgba(120,120,120,0.45)" stroke-width="0.5"/>
<circle cx="387.2" cy="570.6" r="2.55" fill="#e9e459" stroke="rgba(120,120,120,0.45)" stroke-width="0.5"/>
<circle cx="393.8" cy="572.6" r="2.55" fill="#e9e459" stroke="rgba(120,120,120,0.45)" stroke-width="0.5"/>
<circle cx="401.0" cy="572.6" r="2.55" fill="#e9e459" stroke="rgba(120,120,120,0.45)" stroke-width="0.5"/>
<circle cx="389.2" cy="575.2" r="2.55" fill="#e9e459" stroke="rgba(120,120,120,0.45)" stroke-width="0.5"/>
<circle cx="396.4" cy="575.2" r="2.55" fill="#e9e459" stroke="rgba(120,120,120,0.45)" stroke-width="0.5"/>
<circle cx="387.2" cy="578.5" r="2.55" fill="#e9e459" stroke="rgba(120,120,120,0.45)" stroke-width="0.5"/>
<circle cx="392.5" cy="577.8" r="2.55" fill="#e9e459" stroke="rgba(120,120,120,0.45)" stroke-width="0.5"/>
<circle cx="400.3" cy="577.2" r="2.55" fill="#e9e459" stroke="rgba(120,120,120,0.45)" stroke-width="0.5"/>
<circle cx="389.2" cy="581.8" r="2.55" fill="#e9e459" stroke="rgba(120,120,120,0.45)" stroke-width="0.5"/>
<circle cx="393.8" cy="580.4" r="2.55" fill="#e9e459" stroke="rgba(120,120,120,0.45)" stroke-width="0.5"/>
<circle cx="388.5" cy="587.0" r="2.55" fill="#e9e459" stroke="rgba(120,120,120,0.45)" stroke-width="0.5"/>
<circle cx="396.7" cy="568.0" r="2.55" fill="#e9e459" stroke="rgba(120,120,120,0.45)" stroke-width="0.5"/>
<circle cx="394.1" cy="569.6" r="2.55" fill="#e9e459" stroke="rgba(120,120,120,0.45)" stroke-width="0.5"/>
<circle cx="392.1" cy="570.6" r="2.55" fill="#e9e459" stroke="rgba(120,120,120,0.45)" stroke-width="0.5"/>
<circle cx="389.9" cy="571.9" r="2.55" fill="#e9e459" stroke="rgba(120,120,120,0.45)" stroke-width="0.5"/>
<circle cx="396.4" cy="571.0" r="2.55" fill="#e9e459" stroke="rgba(120,120,120,0.45)" stroke-width="0.5"/>
<circle cx="391.5" cy="573.9" r="2.55" fill="#e9e459" stroke="rgba(120,120,120,0.45)" stroke-width="0.5"/>
<circle cx="393.1" cy="575.2" r="2.55" fill="#e9e459" stroke="rgba(120,120,120,0.45)" stroke-width="0.5"/>
<circle cx="398.7" cy="573.9" r="2.55" fill="#e9e459" stroke="rgba(120,120,120,0.45)" stroke-width="0.5"/>
<circle cx="400.6" cy="574.9" r="2.55" fill="#e9e459" stroke="rgba(120,120,120,0.45)" stroke-width="0.5"/>
<circle cx="455.5" cy="548.9" r="2.55" fill="#e39e43" stroke="rgba(120,120,120,0.45)" stroke-width="0.5"/>
<circle cx="452.2" cy="550.9" r="2.55" fill="#e39e43" stroke="rgba(120,120,120,0.45)" stroke-width="0.5"/>
<circle cx="453.5" cy="555.5" r="2.55" fill="#e39e43" stroke="rgba(120,120,120,0.45)" stroke-width="0.5"/>
<circle cx="452.2" cy="558.8" r="2.55" fill="#e39e43" stroke="rgba(120,120,120,0.45)" stroke-width="0.5"/>
<circle cx="454.2" cy="562.7" r="2.55" fill="#e39e43" stroke="rgba(120,120,120,0.45)" stroke-width="0.5"/>
<circle cx="453.5" cy="568.0" r="2.55" fill="#e39e43" stroke="rgba(120,120,120,0.45)" stroke-width="0.5"/>
<circle cx="439.8" cy="560.7" r="2.55" fill="#e39e43" stroke="rgba(120,120,120,0.45)" stroke-width="0.5"/>
<circle cx="433.2" cy="562.7" r="2.55" fill="#e39e43" stroke="rgba(120,120,120,0.45)" stroke-width="0.5"/>
<circle cx="435.8" cy="565.3" r="2.55" fill="#e39e43" stroke="rgba(120,120,120,0.45)" stroke-width="0.5"/>
<circle cx="442.4" cy="566.0" r="2.55" fill="#e39e43" stroke="rgba(120,120,120,0.45)" stroke-width="0.5"/>
<circle cx="427.9" cy="569.9" r="2.55" fill="#e39e43" stroke="rgba(120,120,120,0.45)" stroke-width="0.5"/>
<circle cx="434.5" cy="569.9" r="2.55" fill="#e39e43" stroke="rgba(120,120,120,0.45)" stroke-width="0.5"/>
<circle cx="439.1" cy="569.9" r="2.55" fill="#e39e43" stroke="rgba(120,120,120,0.45)" stroke-width="0.5"/>
<circle cx="429.9" cy="573.9" r="2.55" fill="#e39e43" stroke="rgba(120,120,120,0.45)" stroke-width="0.5"/>
<circle cx="435.8" cy="573.9" r="2.55" fill="#e39e43" stroke="rgba(120,120,120,0.45)" stroke-width="0.5"/>
<circle cx="440.4" cy="574.5" r="2.55" fill="#e39e43" stroke="rgba(120,120,120,0.45)" stroke-width="0.5"/>
<circle cx="427.3" cy="578.5" r="2.55" fill="#e39e43" stroke="rgba(120,120,120,0.45)" stroke-width="0.5"/>
<circle cx="433.2" cy="578.5" r="2.55" fill="#e39e43" stroke="rgba(120,120,120,0.45)" stroke-width="0.5"/>
<circle cx="429.2" cy="583.1" r="2.55" fill="#e39e43" stroke="rgba(120,120,120,0.45)" stroke-width="0.5"/>
<circle cx="434.5" cy="580.4" r="2.55" fill="#e39e43" stroke="rgba(120,120,120,0.45)" stroke-width="0.5"/>
<circle cx="429.2" cy="589.0" r="2.55" fill="#e39e43" stroke="rgba(120,120,120,0.45)" stroke-width="0.5"/>
<circle cx="430.6" cy="585.7" r="2.55" fill="#e39e43" stroke="rgba(120,120,120,0.45)" stroke-width="0.5"/>
<circle cx="452.9" cy="553.2" r="2.55" fill="#e39e43" stroke="rgba(120,120,120,0.45)" stroke-width="0.5"/>
<circle cx="437.8" cy="563.0" r="2.55" fill="#e39e43" stroke="rgba(120,120,120,0.45)" stroke-width="0.5"/>
<circle cx="439.1" cy="565.6" r="2.55" fill="#e39e43" stroke="rgba(120,120,120,0.45)" stroke-width="0.5"/>
<circle cx="435.1" cy="567.6" r="2.55" fill="#e39e43" stroke="rgba(120,120,120,0.45)" stroke-width="0.5"/>
<circle cx="437.5" cy="567.6" r="2.55" fill="#e39e43" stroke="rgba(120,120,120,0.45)" stroke-width="0.5"/>
<circle cx="436.8" cy="569.9" r="2.55" fill="#e39e43" stroke="rgba(120,120,120,0.45)" stroke-width="0.5"/>
<circle cx="432.2" cy="571.9" r="2.55" fill="#e39e43" stroke="rgba(120,120,120,0.45)" stroke-width="0.5"/>
<circle cx="435.1" cy="571.9" r="2.55" fill="#e39e43" stroke="rgba(120,120,120,0.45)" stroke-width="0.5"/>
<circle cx="437.5" cy="571.9" r="2.55" fill="#e39e43" stroke="rgba(120,120,120,0.45)" stroke-width="0.5"/>
<circle cx="493.9" cy="545.0" r="2.55" fill="#c47f3d" stroke="rgba(120,120,120,0.45)" stroke-width="0.5"/>
<circle cx="494.8" cy="548.9" r="2.55" fill="#c47f3d" stroke="rgba(120,120,120,0.45)" stroke-width="0.5"/>
<circle cx="495.5" cy="552.2" r="2.55" fill="#c47f3d" stroke="rgba(120,120,120,0.45)" stroke-width="0.5"/>
<circle cx="497.4" cy="554.8" r="2.55" fill="#c47f3d" stroke="rgba(120,120,120,0.45)" stroke-width="0.5"/>
<circle cx="493.5" cy="558.1" r="2.55" fill="#c47f3d" stroke="rgba(120,120,120,0.45)" stroke-width="0.5"/>
<circle cx="481.0" cy="551.5" r="2.55" fill="#c47f3d" stroke="rgba(120,120,120,0.45)" stroke-width="0.5"/>
<circle cx="481.0" cy="556.8" r="2.55" fill="#c47f3d" stroke="rgba(120,120,120,0.45)" stroke-width="0.5"/>
<circle cx="479.7" cy="560.1" r="2.55" fill="#c47f3d" stroke="rgba(120,120,120,0.45)" stroke-width="0.5"/>
<circle cx="481.7" cy="563.4" r="2.55" fill="#c47f3d" stroke="rgba(120,120,120,0.45)" stroke-width="0.5"/>
<circle cx="476.4" cy="565.3" r="2.55" fill="#c47f3d" stroke="rgba(120,120,120,0.45)" stroke-width="0.5"/>
<circle cx="470.5" cy="568.0" r="2.55" fill="#c47f3d" stroke="rgba(120,120,120,0.45)" stroke-width="0.5"/>
<circle cx="474.5" cy="569.9" r="2.55" fill="#c47f3d" stroke="rgba(120,120,120,0.45)" stroke-width="0.5"/>
<circle cx="481.7" cy="569.9" r="2.55" fill="#c47f3d" stroke="rgba(120,120,120,0.45)" stroke-width="0.5"/>
<circle cx="469.2" cy="573.2" r="2.55" fill="#c47f3d" stroke="rgba(120,120,120,0.45)" stroke-width="0.5"/>
<circle cx="477.7" cy="572.6" r="2.55" fill="#c47f3d" stroke="rgba(120,120,120,0.45)" stroke-width="0.5"/>
<circle cx="482.3" cy="573.9" r="2.55" fill="#c47f3d" stroke="rgba(120,120,120,0.45)" stroke-width="0.5"/>
<circle cx="471.8" cy="576.5" r="2.55" fill="#c47f3d" stroke="rgba(120,120,120,0.45)" stroke-width="0.5"/>
<circle cx="477.1" cy="575.8" r="2.55" fill="#c47f3d" stroke="rgba(120,120,120,0.45)" stroke-width="0.5"/>
<circle cx="469.9" cy="580.4" r="2.55" fill="#c47f3d" stroke="rgba(120,120,120,0.45)" stroke-width="0.5"/>
<circle cx="474.5" cy="580.4" r="2.55" fill="#c47f3d" stroke="rgba(120,120,120,0.45)" stroke-width="0.5"/>
<circle cx="470.5" cy="584.4" r="2.55" fill="#c47f3d" stroke="rgba(120,120,120,0.45)" stroke-width="0.5"/>
<circle cx="474.5" cy="584.4" r="2.55" fill="#c47f3d" stroke="rgba(120,120,120,0.45)" stroke-width="0.5"/>
<circle cx="471.2" cy="588.3" r="2.55" fill="#c47f3d" stroke="rgba(120,120,120,0.45)" stroke-width="0.5"/>
<circle cx="475.4" cy="567.6" r="2.55" fill="#c47f3d" stroke="rgba(120,120,120,0.45)" stroke-width="0.5"/>
<circle cx="472.5" cy="569.0" r="2.55" fill="#c47f3d" stroke="rgba(120,120,120,0.45)" stroke-width="0.5"/>
<circle cx="471.9" cy="571.5" r="2.55" fill="#c47f3d" stroke="rgba(120,120,120,0.45)" stroke-width="0.5"/>
<circle cx="476.1" cy="571.2" r="2.55" fill="#c47f3d" stroke="rgba(120,120,120,0.45)" stroke-width="0.5"/>
<circle cx="479.7" cy="571.2" r="2.55" fill="#c47f3d" stroke="rgba(120,120,120,0.45)" stroke-width="0.5"/>
<circle cx="480.0" cy="573.2" r="2.55" fill="#c47f3d" stroke="rgba(120,120,120,0.45)" stroke-width="0.5"/>
<circle cx="474.5" cy="576.1" r="2.55" fill="#c47f3d" stroke="rgba(120,120,120,0.45)" stroke-width="0.5"/>
<circle cx="470.9" cy="578.5" r="2.55" fill="#c47f3d" stroke="rgba(120,120,120,0.45)" stroke-width="0.5"/>
<circle cx="473.1" cy="578.5" r="2.55" fill="#c47f3d" stroke="rgba(120,120,120,0.45)" stroke-width="0.5"/>
<circle cx="475.8" cy="578.1" r="2.55" fill="#c47f3d" stroke="rgba(120,120,120,0.45)" stroke-width="0.5"/>
<circle cx="534.9" cy="555.5" r="2.55" fill="#8b5f28" stroke="rgba(120,120,120,0.45)" stroke-width="0.5"/>
<circle cx="517.8" cy="559.4" r="2.55" fill="#8b5f28" stroke="rgba(120,120,120,0.45)" stroke-width="0.5"/>
<circle cx="522.4" cy="558.8" r="2.55" fill="#8b5f28" stroke="rgba(120,120,120,0.45)" stroke-width="0.5"/>
<circle cx="536.2" cy="562.0" r="2.55" fill="#8b5f28" stroke="rgba(120,120,120,0.45)" stroke-width="0.5"/>
<circle cx="538.2" cy="565.3" r="2.55" fill="#8b5f28" stroke="rgba(120,120,120,0.45)" stroke-width="0.5"/>
<circle cx="534.9" cy="569.9" r="2.55" fill="#8b5f28" stroke="rgba(120,120,120,0.45)" stroke-width="0.5"/>
<circle cx="511.2" cy="566.0" r="2.55" fill="#8b5f28" stroke="rgba(120,120,120,0.45)" stroke-width="0.5"/>
<circle cx="515.2" cy="564.0" r="2.55" fill="#8b5f28" stroke="rgba(120,120,120,0.45)" stroke-width="0.5"/>
<circle cx="520.4" cy="564.0" r="2.55" fill="#8b5f28" stroke="rgba(120,120,120,0.45)" stroke-width="0.5"/>
<circle cx="524.4" cy="566.6" r="2.55" fill="#8b5f28" stroke="rgba(120,120,120,0.45)" stroke-width="0.5"/>
<circle cx="511.9" cy="570.6" r="2.55" fill="#8b5f28" stroke="rgba(120,120,120,0.45)" stroke-width="0.5"/>
<circle cx="517.8" cy="569.9" r="2.55" fill="#8b5f28" stroke="rgba(120,120,120,0.45)" stroke-width="0.5"/>
<circle cx="523.7" cy="570.6" r="2.55" fill="#8b5f28" stroke="rgba(120,120,120,0.45)" stroke-width="0.5"/>
<circle cx="509.9" cy="574.5" r="2.55" fill="#8b5f28" stroke="rgba(120,120,120,0.45)" stroke-width="0.5"/>
<circle cx="516.5" cy="574.5" r="2.55" fill="#8b5f28" stroke="rgba(120,120,120,0.45)" stroke-width="0.5"/>
<circle cx="522.4" cy="573.9" r="2.55" fill="#8b5f28" stroke="rgba(120,120,120,0.45)" stroke-width="0.5"/>
<circle cx="525.7" cy="575.8" r="2.55" fill="#8b5f28" stroke="rgba(120,120,120,0.45)" stroke-width="0.5"/>
<circle cx="511.2" cy="577.8" r="2.55" fill="#8b5f28" stroke="rgba(120,120,120,0.45)" stroke-width="0.5"/>
<circle cx="517.8" cy="579.1" r="2.55" fill="#8b5f28" stroke="rgba(120,120,120,0.45)" stroke-width="0.5"/>
<circle cx="521.8" cy="579.8" r="2.55" fill="#8b5f28" stroke="rgba(120,120,120,0.45)" stroke-width="0.5"/>
<circle cx="510.6" cy="584.4" r="2.55" fill="#8b5f28" stroke="rgba(120,120,120,0.45)" stroke-width="0.5"/>
<circle cx="515.2" cy="581.8" r="2.55" fill="#8b5f28" stroke="rgba(120,120,120,0.45)" stroke-width="0.5"/>
<circle cx="522.4" cy="583.1" r="2.55" fill="#8b5f28" stroke="rgba(120,120,120,0.45)" stroke-width="0.5"/>
<circle cx="519.1" cy="561.7" r="2.55" fill="#8b5f28" stroke="rgba(120,120,120,0.45)" stroke-width="0.5"/>
<circle cx="517.8" cy="564.0" r="2.55" fill="#8b5f28" stroke="rgba(120,120,120,0.45)" stroke-width="0.5"/>
<circle cx="516.5" cy="567.0" r="2.55" fill="#8b5f28" stroke="rgba(120,120,120,0.45)" stroke-width="0.5"/>
<circle cx="519.1" cy="567.0" r="2.55" fill="#8b5f28" stroke="rgba(120,120,120,0.45)" stroke-width="0.5"/>
<circle cx="524.0" cy="568.6" r="2.55" fill="#8b5f28" stroke="rgba(120,120,120,0.45)" stroke-width="0.5"/>
<circle cx="514.8" cy="570.2" r="2.55" fill="#8b5f28" stroke="rgba(120,120,120,0.45)" stroke-width="0.5"/>
<circle cx="510.9" cy="572.5" r="2.55" fill="#8b5f28" stroke="rgba(120,120,120,0.45)" stroke-width="0.5"/>
<circle cx="514.2" cy="572.5" r="2.55" fill="#8b5f28" stroke="rgba(120,120,120,0.45)" stroke-width="0.5"/>
<circle cx="520.8" cy="570.2" r="2.55" fill="#8b5f28" stroke="rgba(120,120,120,0.45)" stroke-width="0.5"/>
<circle cx="517.1" cy="572.2" r="2.55" fill="#8b5f28" stroke="rgba(120,120,120,0.45)" stroke-width="0.5"/>
<circle cx="576.5" cy="553.5" r="2.55" fill="#e9b2ee" stroke="rgba(120,120,120,0.45)" stroke-width="0.5"/>
<circle cx="578.5" cy="555.5" r="2.55" fill="#e9b2ee" stroke="rgba(120,120,120,0.45)" stroke-width="0.5"/>
<circle cx="579.8" cy="559.4" r="2.55" fill="#e9b2ee" stroke="rgba(120,120,120,0.45)" stroke-width="0.5"/>
<circle cx="560.1" cy="558.1" r="2.55" fill="#e9b2ee" stroke="rgba(120,120,120,0.45)" stroke-width="0.5"/>
<circle cx="576.5" cy="562.7" r="2.55" fill="#e9b2ee" stroke="rgba(120,120,120,0.45)" stroke-width="0.5"/>
<circle cx="562.1" cy="564.0" r="2.55" fill="#e9b2ee" stroke="rgba(120,120,120,0.45)" stroke-width="0.5"/>
<circle cx="557.5" cy="566.6" r="2.55" fill="#e9b2ee" stroke="rgba(120,120,120,0.45)" stroke-width="0.5"/>
<circle cx="564.7" cy="567.3" r="2.55" fill="#e9b2ee" stroke="rgba(120,120,120,0.45)" stroke-width="0.5"/>
<circle cx="554.2" cy="570.6" r="2.55" fill="#e9b2ee" stroke="rgba(120,120,120,0.45)" stroke-width="0.5"/>
<circle cx="560.8" cy="569.9" r="2.55" fill="#e9b2ee" stroke="rgba(120,120,120,0.45)" stroke-width="0.5"/>
<circle cx="566.7" cy="570.6" r="2.55" fill="#e9b2ee" stroke="rgba(120,120,120,0.45)" stroke-width="0.5"/>
<circle cx="550.9" cy="573.9" r="2.55" fill="#e9b2ee" stroke="rgba(120,120,120,0.45)" stroke-width="0.5"/>
<circle cx="557.5" cy="573.9" r="2.55" fill="#e9b2ee" stroke="rgba(120,120,120,0.45)" stroke-width="0.5"/>
<circle cx="564.7" cy="573.2" r="2.55" fill="#e9b2ee" stroke="rgba(120,120,120,0.45)" stroke-width="0.5"/>
<circle cx="552.9" cy="577.8" r="2.55" fill="#e9b2ee" stroke="rgba(120,120,120,0.45)" stroke-width="0.5"/>
<circle cx="559.5" cy="577.8" r="2.55" fill="#e9b2ee" stroke="rgba(120,120,120,0.45)" stroke-width="0.5"/>
<circle cx="564.1" cy="579.8" r="2.55" fill="#e9b2ee" stroke="rgba(120,120,120,0.45)" stroke-width="0.5"/>
<circle cx="552.2" cy="581.8" r="2.55" fill="#e9b2ee" stroke="rgba(120,120,120,0.45)" stroke-width="0.5"/>
<circle cx="554.2" cy="585.7" r="2.55" fill="#e9b2ee" stroke="rgba(120,120,120,0.45)" stroke-width="0.5"/>
<circle cx="552.9" cy="589.0" r="2.55" fill="#e9b2ee" stroke="rgba(120,120,120,0.45)" stroke-width="0.5"/>
<circle cx="579.1" cy="557.5" r="2.55" fill="#e9b2ee" stroke="rgba(120,120,120,0.45)" stroke-width="0.5"/>
<circle cx="559.8" cy="565.3" r="2.55" fill="#e9b2ee" stroke="rgba(120,120,120,0.45)" stroke-width="0.5"/>
<circle cx="563.4" cy="565.6" r="2.55" fill="#e9b2ee" stroke="rgba(120,120,120,0.45)" stroke-width="0.5"/>
<circle cx="561.5" cy="567.0" r="2.55" fill="#e9b2ee" stroke="rgba(120,120,120,0.45)" stroke-width="0.5"/>
<circle cx="555.9" cy="568.6" r="2.55" fill="#e9b2ee" stroke="rgba(120,120,120,0.45)" stroke-width="0.5"/>
<circle cx="559.1" cy="568.2" r="2.55" fill="#e9b2ee" stroke="rgba(120,120,120,0.45)" stroke-width="0.5"/>
<circle cx="562.8" cy="568.6" r="2.55" fill="#e9b2ee" stroke="rgba(120,120,120,0.45)" stroke-width="0.5"/>
<circle cx="564.7" cy="570.2" r="2.55" fill="#e9b2ee" stroke="rgba(120,120,120,0.45)" stroke-width="0.5"/>
<circle cx="557.5" cy="570.2" r="2.55" fill="#e9b2ee" stroke="rgba(120,120,120,0.45)" stroke-width="0.5"/>
<circle cx="618.6" cy="543.7" r="2.55" fill="#e53d9e" stroke="rgba(120,120,120,0.45)" stroke-width="0.5"/>
<circle cx="617.3" cy="549.6" r="2.55" fill="#e53d9e" stroke="rgba(120,120,120,0.45)" stroke-width="0.5"/>
<circle cx="618.6" cy="552.8" r="2.55" fill="#e53d9e" stroke="rgba(120,120,120,0.45)" stroke-width="0.5"/>
<circle cx="620.5" cy="555.5" r="2.55" fill="#e53d9e" stroke="rgba(120,120,120,0.45)" stroke-width="0.5"/>
<circle cx="616.6" cy="557.4" r="2.55" fill="#e53d9e" stroke="rgba(120,120,120,0.45)" stroke-width="0.5"/>
<circle cx="618.6" cy="561.4" r="2.55" fill="#e53d9e" stroke="rgba(120,120,120,0.45)" stroke-width="0.5"/>
<circle cx="601.5" cy="556.1" r="2.55" fill="#e53d9e" stroke="rgba(120,120,120,0.45)" stroke-width="0.5"/>
<circle cx="607.4" cy="558.8" r="2.55" fill="#e53d9e" stroke="rgba(120,120,120,0.45)" stroke-width="0.5"/>
<circle cx="593.6" cy="562.7" r="2.55" fill="#e53d9e" stroke="rgba(120,120,120,0.45)" stroke-width="0.5"/>
<circle cx="604.1" cy="563.4" r="2.55" fill="#e53d9e" stroke="rgba(120,120,120,0.45)" stroke-width="0.5"/>
<circle cx="606.7" cy="564.7" r="2.55" fill="#e53d9e" stroke="rgba(120,120,120,0.45)" stroke-width="0.5"/>
<circle cx="593.0" cy="568.0" r="2.55" fill="#e53d9e" stroke="rgba(120,120,120,0.45)" stroke-width="0.5"/>
<circle cx="602.8" cy="566.6" r="2.55" fill="#e53d9e" stroke="rgba(120,120,120,0.45)" stroke-width="0.5"/>
<circle cx="594.3" cy="571.9" r="2.55" fill="#e53d9e" stroke="rgba(120,120,120,0.45)" stroke-width="0.5"/>
<circle cx="601.5" cy="572.6" r="2.55" fill="#e53d9e" stroke="rgba(120,120,120,0.45)" stroke-width="0.5"/>
<circle cx="606.1" cy="572.6" r="2.55" fill="#e53d9e" stroke="rgba(120,120,120,0.45)" stroke-width="0.5"/>
<circle cx="591.6" cy="576.5" r="2.55" fill="#e53d9e" stroke="rgba(120,120,120,0.45)" stroke-width="0.5"/>
<circle cx="597.6" cy="576.5" r="2.55" fill="#e53d9e" stroke="rgba(120,120,120,0.45)" stroke-width="0.5"/>
<circle cx="604.8" cy="577.8" r="2.55" fill="#e53d9e" stroke="rgba(120,120,120,0.45)" stroke-width="0.5"/>
<circle cx="595.6" cy="581.1" r="2.55" fill="#e53d9e" stroke="rgba(120,120,120,0.45)" stroke-width="0.5"/>
<circle cx="600.2" cy="581.8" r="2.55" fill="#e53d9e" stroke="rgba(120,120,120,0.45)" stroke-width="0.5"/>
<circle cx="593.6" cy="585.0" r="2.55" fill="#e53d9e" stroke="rgba(120,120,120,0.45)" stroke-width="0.5"/>
<circle cx="595.6" cy="589.6" r="2.55" fill="#e53d9e" stroke="rgba(120,120,120,0.45)" stroke-width="0.5"/>
<circle cx="617.6" cy="555.1" r="2.55" fill="#e53d9e" stroke="rgba(120,120,120,0.45)" stroke-width="0.5"/>
<circle cx="619.5" cy="558.5" r="2.55" fill="#e53d9e" stroke="rgba(120,120,120,0.45)" stroke-width="0.5"/>
<circle cx="604.5" cy="569.6" r="2.55" fill="#e53d9e" stroke="rgba(120,120,120,0.45)" stroke-width="0.5"/>
<circle cx="596.0" cy="574.2" r="2.55" fill="#e53d9e" stroke="rgba(120,120,120,0.45)" stroke-width="0.5"/>
<circle cx="603.1" cy="575.2" r="2.55" fill="#e53d9e" stroke="rgba(120,120,120,0.45)" stroke-width="0.5"/>
<circle cx="594.6" cy="576.5" r="2.55" fill="#e53d9e" stroke="rgba(120,120,120,0.45)" stroke-width="0.5"/>
<circle cx="596.6" cy="578.8" r="2.55" fill="#e53d9e" stroke="rgba(120,120,120,0.45)" stroke-width="0.5"/>
<circle cx="597.9" cy="581.5" r="2.55" fill="#e53d9e" stroke="rgba(120,120,120,0.45)" stroke-width="0.5"/>
<circle cx="659.8" cy="546.3" r="2.55" fill="#8d2363" stroke="rgba(120,120,120,0.45)" stroke-width="0.5"/>
<circle cx="659.2" cy="549.8" r="2.55" fill="#8d2363" stroke="rgba(120,120,120,0.45)" stroke-width="0.5"/>
<circle cx="659.8" cy="553.1" r="2.55" fill="#8d2363" stroke="rgba(120,120,120,0.45)" stroke-width="0.5"/>
<circle cx="662.0" cy="559.8" r="2.55" fill="#8d2363" stroke="rgba(120,120,120,0.45)" stroke-width="0.5"/>
<circle cx="634.3" cy="556.5" r="2.55" fill="#8d2363" stroke="rgba(120,120,120,0.45)" stroke-width="0.5"/>
<circle cx="635.4" cy="560.3" r="2.55" fill="#8d2363" stroke="rgba(120,120,120,0.45)" stroke-width="0.5"/>
<circle cx="644.8" cy="559.8" r="2.55" fill="#8d2363" stroke="rgba(120,120,120,0.45)" stroke-width="0.5"/>
<circle cx="648.1" cy="562.0" r="2.55" fill="#8d2363" stroke="rgba(120,120,120,0.45)" stroke-width="0.5"/>
<circle cx="634.3" cy="564.8" r="2.55" fill="#8d2363" stroke="rgba(120,120,120,0.45)" stroke-width="0.5"/>
<circle cx="640.4" cy="564.8" r="2.55" fill="#8d2363" stroke="rgba(120,120,120,0.45)" stroke-width="0.5"/>
<circle cx="644.3" cy="564.2" r="2.55" fill="#8d2363" stroke="rgba(120,120,120,0.45)" stroke-width="0.5"/>
<circle cx="647.0" cy="567.0" r="2.55" fill="#8d2363" stroke="rgba(120,120,120,0.45)" stroke-width="0.5"/>
<circle cx="634.3" cy="568.6" r="2.55" fill="#8d2363" stroke="rgba(120,120,120,0.45)" stroke-width="0.5"/>
<circle cx="639.3" cy="568.6" r="2.55" fill="#8d2363" stroke="rgba(120,120,120,0.45)" stroke-width="0.5"/>
<circle cx="643.7" cy="569.2" r="2.55" fill="#8d2363" stroke="rgba(120,120,120,0.45)" stroke-width="0.5"/>
<circle cx="647.0" cy="571.4" r="2.55" fill="#8d2363" stroke="rgba(120,120,120,0.45)" stroke-width="0.5"/>
<circle cx="632.7" cy="573.6" r="2.55" fill="#8d2363" stroke="rgba(120,120,120,0.45)" stroke-width="0.5"/>
<circle cx="638.2" cy="573.0" r="2.55" fill="#8d2363" stroke="rgba(120,120,120,0.45)" stroke-width="0.5"/>
<circle cx="643.2" cy="575.2" r="2.55" fill="#8d2363" stroke="rgba(120,120,120,0.45)" stroke-width="0.5"/>
<circle cx="635.4" cy="577.5" r="2.55" fill="#8d2363" stroke="rgba(120,120,120,0.45)" stroke-width="0.5"/>
<circle cx="634.9" cy="581.9" r="2.55" fill="#8d2363" stroke="rgba(120,120,120,0.45)" stroke-width="0.5"/>
<circle cx="642.6" cy="562.3" r="2.55" fill="#8d2363" stroke="rgba(120,120,120,0.45)" stroke-width="0.5"/>
<circle cx="646.2" cy="563.1" r="2.55" fill="#8d2363" stroke="rgba(120,120,120,0.45)" stroke-width="0.5"/>
<circle cx="637.3" cy="564.8" r="2.55" fill="#8d2363" stroke="rgba(120,120,120,0.45)" stroke-width="0.5"/>
<circle cx="642.0" cy="567.0" r="2.55" fill="#8d2363" stroke="rgba(120,120,120,0.45)" stroke-width="0.5"/>
<circle cx="647.0" cy="569.2" r="2.55" fill="#8d2363" stroke="rgba(120,120,120,0.45)" stroke-width="0.5"/>
<circle cx="636.8" cy="568.6" r="2.55" fill="#8d2363" stroke="rgba(120,120,120,0.45)" stroke-width="0.5"/>
<circle cx="636.2" cy="570.8" r="2.55" fill="#8d2363" stroke="rgba(120,120,120,0.45)" stroke-width="0.5"/>
<circle cx="638.8" cy="570.8" r="2.55" fill="#8d2363" stroke="rgba(120,120,120,0.45)" stroke-width="0.5"/>
<circle cx="641.0" cy="571.1" r="2.55" fill="#8d2363" stroke="rgba(120,120,120,0.45)" stroke-width="0.5"/>
<polyline points="56.60,571.20 56.60,571.19 56.62,571.17 56.64,571.13 56.67,571.08 56.72,571.02 56.78,570.96 56.85,570.91 56.94,570.85 57.03,570.80 57.15,570.74 57.28,570.70 57.42,570.65 57.57,570.61 57.75,570.57 57.94,570.53 58.14,570.49 58.36,570.46 58.59,570.43 58.85,570.39 59.12,570.36 59.40,570.34 59.70,570.31 60.02,570.28 60.36,570.26 60.71,570.23 61.08,570.21 61.47,570.19 61.87,570.16 62.30,570.14 62.74,570.12 63.20,570.10 63.67,570.08 64.17,570.07 64.68,570.05 65.22,570.03 65.77,570.01 66.34,570.00 66.92,569.98 67.53,569.96 68.16,569.95 68.80,569.93 69.47,569.92 70.15,569.90 70.85,569.89 71.58,569.88 72.32,569.86 73.08,569.85 73.86,569.84 74.66,569.82 75.48,569.81 76.32,569.80 77.18,569.79 78.06,569.78 78.97,569.76 79.89,569.75 80.83,569.74 81.79,569.73 82.77,569.72 83.78,569.71 84.80,569.70" fill="none" stroke="#3d3d3d" stroke-width="2.2" stroke-linecap="butt"/>
<polyline points="98.00,595.50 98.00,595.28 98.02,594.52 98.04,593.28 98.07,591.70 98.12,589.93 98.18,588.11 98.25,586.29 98.34,584.53 98.43,582.86 98.55,581.26 98.68,579.76 98.82,578.34 98.97,577.00 99.15,575.73 99.34,574.53 99.54,573.39 99.76,572.31 99.99,571.28 100.25,570.30 100.52,569.37 100.80,568.47 101.10,567.61 101.42,566.79 101.76,566.00 102.11,565.24 102.48,564.51 102.87,563.80 103.27,563.11 103.70,562.45 104.14,561.82 104.60,561.20 105.07,560.60 105.57,560.01 106.08,559.45 106.62,558.90 107.17,558.36 107.74,557.84 108.32,557.33 108.93,556.84 109.56,556.36 110.20,555.89 110.87,555.43 111.55,554.98 112.25,554.54 112.98,554.11 113.72,553.69 114.48,553.28 115.26,552.88 116.06,552.48 116.88,552.09 117.72,551.72 118.58,551.34 119.46,550.98 120.37,550.62 121.29,550.27 122.23,549.92 123.19,549.58 124.17,549.25 125.18,548.92 126.20,548.60" fill="none" stroke="#3d3d3d" stroke-width="2.2" stroke-linecap="butt"/>
<polyline points="138.50,591.00 138.50,590.86 138.52,590.38 138.54,589.60 138.57,588.60 138.62,587.49 138.68,586.33 138.75,585.19 138.84,584.08 138.94,583.02 139.06,582.01 139.19,581.06 139.33,580.17 139.49,579.32 139.67,578.52 139.86,577.76 140.07,577.05 140.29,576.36 140.53,575.72 140.79,575.10 141.06,574.51 141.35,573.94 141.66,573.40 141.98,572.88 142.32,572.38 142.68,571.90 143.06,571.44 143.45,570.99 143.87,570.56 144.30,570.14 144.75,569.74 145.21,569.35 145.70,568.97 146.20,568.60 146.73,568.25 147.27,567.90 147.83,567.56 148.41,567.23 149.01,566.91 149.62,566.60 150.26,566.30 150.92,566.00 151.59,565.71 152.29,565.43 153.01,565.15 153.74,564.88 154.50,564.61 155.27,564.35 156.07,564.10 156.88,563.85 157.72,563.61 158.57,563.37 159.45,563.13 160.35,562.90 161.26,562.68 162.20,562.45 163.16,562.24 164.14,562.02 165.14,561.81 166.16,561.60 167.20,561.40" fill="none" stroke="#3d3d3d" stroke-width="2.2" stroke-linecap="butt"/>
<polyline points="179.90,585.70 179.90,585.57 179.92,585.14 179.94,584.43 179.97,583.52 180.02,582.51 180.08,581.46 180.15,580.42 180.24,579.41 180.34,578.45 180.45,577.53 180.58,576.67 180.72,575.86 180.88,575.09 181.05,574.36 181.24,573.67 181.44,573.02 181.67,572.40 181.90,571.81 182.15,571.25 182.42,570.71 182.71,570.20 183.01,569.71 183.33,569.23 183.67,568.78 184.02,568.34 184.40,567.92 184.78,567.52 185.19,567.13 185.62,566.75 186.06,566.38 186.52,566.02 187.00,565.68 187.50,565.35 188.01,565.02 188.55,564.71 189.10,564.40 189.67,564.10 190.26,563.81 190.87,563.53 191.50,563.25 192.15,562.98 192.81,562.72 193.50,562.46 194.20,562.21 194.93,561.96 195.67,561.72 196.44,561.48 197.22,561.25 198.03,561.03 198.85,560.80 199.69,560.59 200.56,560.37 201.44,560.16 202.35,559.96 203.27,559.76 204.21,559.56 205.18,559.36 206.17,559.17 207.17,558.98 208.20,558.80" fill="none" stroke="#3d3d3d" stroke-width="2.2" stroke-linecap="butt"/>
<polyline points="221.20,575.20 221.20,575.19 221.22,575.15 221.24,575.08 221.27,574.99 221.32,574.89 221.38,574.79 221.45,574.69 221.54,574.59 221.63,574.50 221.75,574.41 221.88,574.33 222.02,574.25 222.17,574.17 222.35,574.10 222.54,574.04 222.74,573.97 222.96,573.91 223.19,573.86 223.45,573.80 223.72,573.75 224.00,573.70 224.30,573.65 224.62,573.61 224.96,573.56 225.31,573.52 225.68,573.48 226.07,573.44 226.47,573.40 226.90,573.37 227.34,573.33 227.80,573.30 228.27,573.27 228.77,573.23 229.28,573.20 229.82,573.17 230.37,573.14 230.94,573.11 231.52,573.08 232.13,573.06 232.76,573.03 233.40,573.00 234.07,572.98 234.75,572.95 235.45,572.93 236.18,572.91 236.92,572.88 237.68,572.86 238.46,572.84 239.26,572.82 240.08,572.79 240.92,572.77 241.78,572.75 242.66,572.73 243.57,572.71 244.49,572.69 245.43,572.67 246.39,572.65 247.37,572.64 248.38,572.62 249.40,572.60" fill="none" stroke="#3d3d3d" stroke-width="2.2" stroke-linecap="butt"/>
<polyline points="262.60,591.60 262.60,591.46 262.62,590.98 262.64,590.19 262.67,589.18 262.72,588.06 262.78,586.90 262.85,585.75 262.94,584.63 263.03,583.57 263.15,582.55 263.28,581.60 263.42,580.70 263.57,579.84 263.75,579.04 263.94,578.28 264.14,577.55 264.36,576.87 264.59,576.21 264.85,575.59 265.12,574.99 265.40,574.43 265.70,573.88 266.02,573.36 266.36,572.86 266.71,572.37 267.08,571.91 267.47,571.46 267.87,571.02 268.30,570.60 268.74,570.20 269.20,569.80 269.67,569.42 270.17,569.05 270.68,568.69 271.22,568.34 271.77,568.00 272.34,567.67 272.92,567.35 273.53,567.04 274.16,566.73 274.80,566.43 275.47,566.14 276.15,565.85 276.85,565.57 277.58,565.30 278.32,565.03 279.08,564.77 279.86,564.52 280.66,564.27 281.48,564.02 282.32,563.78 283.18,563.54 284.06,563.31 284.97,563.08 285.89,562.86 286.83,562.64 287.79,562.43 288.77,562.21 289.78,562.00 290.80,561.80" fill="none" stroke="#3d3d3d" stroke-width="2.2" stroke-linecap="butt"/>
<polyline points="303.50,604.30 303.50,604.10 303.52,603.42 303.54,602.31 303.57,600.90 303.62,599.32 303.68,597.68 303.76,596.05 303.84,594.48 303.94,592.98 304.06,591.55 304.19,590.20 304.34,588.93 304.50,587.73 304.68,586.59 304.87,585.52 305.08,584.50 305.30,583.53 305.54,582.61 305.80,581.73 306.08,580.90 306.37,580.09 306.68,579.33 307.01,578.59 307.35,577.88 307.71,577.20 308.09,576.54 308.49,575.91 308.90,575.30 309.34,574.71 309.79,574.13 310.26,573.58 310.75,573.04 311.26,572.52 311.78,572.01 312.33,571.52 312.89,571.04 313.48,570.58 314.08,570.12 314.70,569.68 315.34,569.25 316.01,568.83 316.69,568.41 317.39,568.01 318.11,567.62 318.85,567.23 319.61,566.86 320.39,566.49 321.19,566.13 322.01,565.78 322.85,565.43 323.71,565.09 324.59,564.76 325.50,564.43 326.42,564.11 327.37,563.79 328.33,563.49 329.32,563.18 330.32,562.88 331.35,562.59 332.40,562.30" fill="none" stroke="#3d3d3d" stroke-width="2.2" stroke-linecap="butt"/>
<polyline points="344.90,593.60 344.90,593.44 344.92,592.90 344.94,592.02 344.97,590.90 345.02,589.65 345.08,588.35 345.15,587.06 345.24,585.81 345.34,584.62 345.45,583.49 345.58,582.42 345.72,581.41 345.88,580.46 346.05,579.56 346.24,578.71 346.44,577.90 346.67,577.14 346.90,576.41 347.15,575.71 347.42,575.04 347.71,574.41 348.01,573.80 348.33,573.22 348.67,572.65 349.02,572.11 349.40,571.59 349.78,571.09 350.19,570.61 350.62,570.14 351.06,569.68 351.52,569.24 352.00,568.82 352.50,568.40 353.01,568.00 353.55,567.61 354.10,567.23 354.67,566.86 355.26,566.50 355.87,566.15 356.50,565.81 357.15,565.47 357.81,565.15 358.50,564.83 359.20,564.52 359.93,564.21 360.67,563.91 361.44,563.62 362.22,563.34 363.03,563.06 363.85,562.78 364.69,562.51 365.56,562.25 366.44,561.99 367.35,561.73 368.27,561.48 369.21,561.24 370.18,561.00 371.17,560.76 372.17,560.53 373.20,560.30" fill="none" stroke="#3d3d3d" stroke-width="2.2" stroke-linecap="butt"/>
<polyline points="386.10,591.60 386.10,591.48 386.12,591.05 386.14,590.35 386.17,589.47 386.22,588.48 386.28,587.45 386.35,586.44 386.44,585.45 386.54,584.51 386.66,583.62 386.79,582.77 386.93,581.98 387.09,581.22 387.27,580.51 387.46,579.84 387.67,579.20 387.89,578.60 388.13,578.02 388.39,577.47 388.66,576.95 388.95,576.44 389.26,575.96 389.58,575.50 389.92,575.06 390.28,574.63 390.66,574.22 391.05,573.82 391.47,573.44 391.90,573.07 392.35,572.71 392.81,572.36 393.30,572.03 393.80,571.70 394.33,571.38 394.87,571.07 395.43,570.77 396.01,570.48 396.61,570.20 397.22,569.92 397.86,569.65 398.52,569.39 399.19,569.13 399.89,568.88 400.61,568.63 401.34,568.39 402.10,568.15 402.87,567.92 403.67,567.70 404.48,567.48 405.32,567.26 406.17,567.05 407.05,566.84 407.95,566.63 408.86,566.43 409.80,566.24 410.76,566.04 411.74,565.85 412.74,565.66 413.76,565.48 414.80,565.30" fill="none" stroke="#3d3d3d" stroke-width="2.2" stroke-linecap="butt"/>
<polyline points="427.30,597.50 427.30,597.33 427.32,596.74 427.34,595.77 427.37,594.54 427.42,593.17 427.48,591.75 427.55,590.33 427.64,588.97 427.73,587.66 427.85,586.42 427.98,585.25 428.12,584.14 428.27,583.10 428.45,582.11 428.64,581.18 428.84,580.29 429.06,579.45 429.29,578.65 429.55,577.89 429.82,577.16 430.10,576.46 430.40,575.80 430.72,575.16 431.06,574.54 431.41,573.95 431.78,573.38 432.17,572.83 432.57,572.30 433.00,571.78 433.44,571.28 433.90,570.80 434.37,570.34 434.87,569.88 435.38,569.44 435.92,569.01 436.47,568.60 437.04,568.19 437.62,567.80 438.23,567.41 438.86,567.04 439.50,566.67 440.17,566.31 440.85,565.96 441.55,565.62 442.28,565.29 443.02,564.96 443.78,564.64 444.56,564.33 445.36,564.02 446.18,563.72 447.02,563.42 447.88,563.14 448.76,562.85 449.67,562.57 450.59,562.30 451.53,562.03 452.49,561.77 453.47,561.51 454.48,561.25 455.50,561.00" fill="none" stroke="#3d3d3d" stroke-width="2.2" stroke-linecap="butt"/>
<polyline points="468.50,595.50 468.50,595.33 468.52,594.77 468.54,593.84 468.57,592.66 468.62,591.35 468.68,589.98 468.75,588.63 468.84,587.32 468.94,586.06 469.05,584.88 469.18,583.75 469.32,582.69 469.48,581.69 469.65,580.75 469.84,579.85 470.04,579.00 470.27,578.19 470.50,577.43 470.75,576.70 471.02,576.00 471.31,575.33 471.61,574.69 471.93,574.07 472.27,573.48 472.62,572.92 473.00,572.37 473.38,571.84 473.79,571.33 474.22,570.84 474.66,570.36 475.12,569.90 475.60,569.45 476.10,569.02 476.61,568.60 477.15,568.18 477.70,567.79 478.27,567.40 478.86,567.02 479.47,566.65 480.10,566.29 480.75,565.94 481.41,565.59 482.10,565.26 482.80,564.93 483.53,564.61 484.27,564.30 485.04,563.99 485.82,563.69 486.63,563.40 487.45,563.11 488.29,562.82 489.16,562.55 490.04,562.28 490.95,562.01 491.87,561.75 492.81,561.49 493.78,561.23 494.77,560.99 495.77,560.74 496.80,560.50" fill="none" stroke="#3d3d3d" stroke-width="2.2" stroke-linecap="butt"/>
<polyline points="509.90,587.30 509.90,587.20 509.92,586.88 509.94,586.34 509.97,585.65 510.02,584.89 510.08,584.10 510.16,583.31 510.24,582.55 510.34,581.83 510.46,581.14 510.59,580.49 510.74,579.87 510.90,579.29 511.08,578.74 511.27,578.22 511.48,577.73 511.70,577.26 511.94,576.82 512.20,576.39 512.48,575.99 512.77,575.60 513.08,575.23 513.41,574.87 513.75,574.53 514.11,574.20 514.49,573.88 514.89,573.58 515.30,573.28 515.74,573.00 516.19,572.72 516.66,572.45 517.15,572.19 517.66,571.94 518.18,571.70 518.73,571.46 519.29,571.23 519.88,571.00 520.48,570.78 521.10,570.57 521.74,570.36 522.41,570.15 523.09,569.96 523.79,569.76 524.51,569.57 525.25,569.38 526.01,569.20 526.79,569.03 527.59,568.85 528.41,568.68 529.25,568.51 530.11,568.35 530.99,568.19 531.90,568.03 532.82,567.87 533.77,567.72 534.73,567.57 535.72,567.43 536.72,567.28 537.75,567.14 538.80,567.00" fill="none" stroke="#3d3d3d" stroke-width="2.2" stroke-linecap="butt"/>
<polyline points="550.50,594.20 550.50,594.05 550.52,593.56 550.54,592.74 550.57,591.70 550.62,590.55 550.68,589.34 550.76,588.15 550.84,587.00 550.94,585.90 551.06,584.85 551.19,583.86 551.34,582.93 551.50,582.05 551.68,581.22 551.87,580.43 552.08,579.68 552.30,578.97 552.54,578.30 552.80,577.65 553.08,577.04 553.37,576.45 553.68,575.89 554.01,575.35 554.35,574.83 554.71,574.33 555.09,573.85 555.49,573.38 555.90,572.93 556.34,572.50 556.79,572.08 557.26,571.67 557.75,571.28 558.26,570.90 558.78,570.52 559.33,570.16 559.89,569.81 560.48,569.47 561.08,569.14 561.70,568.81 562.34,568.49 563.01,568.19 563.69,567.88 564.39,567.59 565.11,567.30 565.85,567.02 566.61,566.74 567.39,566.47 568.19,566.21 569.01,565.95 569.85,565.69 570.71,565.45 571.59,565.20 572.50,564.96 573.42,564.73 574.37,564.50 575.33,564.27 576.32,564.05 577.32,563.83 578.35,563.61 579.40,563.40" fill="none" stroke="#3d3d3d" stroke-width="2.2" stroke-linecap="butt"/>
<polyline points="592.00,594.20 592.00,594.06 592.02,593.57 592.04,592.77 592.07,591.75 592.12,590.62 592.18,589.44 592.25,588.27 592.34,587.14 592.44,586.06 592.55,585.03 592.68,584.06 592.83,583.15 592.99,582.29 593.16,581.47 593.35,580.70 593.56,579.96 593.78,579.27 594.02,578.61 594.27,577.97 594.54,577.37 594.83,576.80 595.14,576.24 595.46,575.71 595.80,575.20 596.15,574.71 596.53,574.24 596.92,573.79 597.33,573.35 597.76,572.92 598.20,572.51 598.67,572.11 599.15,571.72 599.65,571.35 600.17,570.98 600.71,570.63 601.26,570.29 601.84,569.95 602.43,569.62 603.05,569.31 603.68,569.00 604.33,568.69 605.00,568.40 605.69,568.11 606.40,567.82 607.13,567.55 607.88,567.28 608.65,567.01 609.44,566.75 610.25,566.50 611.08,566.25 611.93,566.01 612.80,565.77 613.69,565.53 614.60,565.30 615.53,565.07 616.49,564.85 617.46,564.63 618.45,564.42 619.47,564.21 620.50,564.00" fill="none" stroke="#3d3d3d" stroke-width="2.2" stroke-linecap="butt"/>
<polyline points="633.20,582.40 633.20,582.30 633.22,581.94 633.24,581.35 633.27,580.61 633.32,579.78 633.38,578.92 633.46,578.06 633.54,577.23 633.64,576.44 633.76,575.69 633.89,574.98 634.03,574.31 634.20,573.68 634.37,573.08 634.56,572.52 634.77,571.98 635.00,571.47 635.24,570.99 635.49,570.53 635.77,570.09 636.06,569.66 636.37,569.26 636.69,568.87 637.04,568.50 637.40,568.14 637.78,567.79 638.17,567.46 638.59,567.14 639.02,566.83 639.47,566.53 639.94,566.24 640.42,565.95 640.93,565.68 641.45,565.41 642.00,565.15 642.56,564.90 643.14,564.65 643.74,564.42 644.36,564.18 645.00,563.96 645.66,563.73 646.34,563.52 647.04,563.31 647.76,563.10 648.49,562.90 649.25,562.70 650.03,562.50 650.83,562.31 651.65,562.13 652.48,561.95 653.34,561.77 654.22,561.59 655.12,561.42 656.04,561.25 656.98,561.09 657.94,560.92 658.93,560.76 659.93,560.61 660.95,560.45 662.00,560.30" fill="none" stroke="#3d3d3d" stroke-width="2.2" stroke-linecap="butt"/>
<line x1="56.50" y1="506.60" x2="56.50" y2="665.95" stroke="#2a2a2a" stroke-width="1.5"/>
<line x1="56.50" y1="645.38" x2="58.70" y2="645.38" stroke="#2a2a2a" stroke-width="1"/>
<line x1="56.50" y1="625.56" x2="58.70" y2="625.56" stroke="#2a2a2a" stroke-width="1"/>
<line x1="56.50" y1="605.74" x2="58.70" y2="605.74" stroke="#2a2a2a" stroke-width="1"/>
<line x1="56.50" y1="585.92" x2="58.70" y2="585.92" stroke="#2a2a2a" stroke-width="1"/>
<line x1="56.50" y1="566.10" x2="58.70" y2="566.10" stroke="#2a2a2a" stroke-width="1"/>
<line x1="56.50" y1="546.28" x2="58.70" y2="546.28" stroke="#2a2a2a" stroke-width="1"/>
<line x1="56.50" y1="526.46" x2="58.70" y2="526.46" stroke="#2a2a2a" stroke-width="1"/>
<line x1="55.75" y1="665.20" x2="92.30" y2="665.20" stroke="#2a2a2a" stroke-width="1.5"/>
<line x1="98.15" y1="665.20" x2="134.05" y2="665.20" stroke="#2a2a2a" stroke-width="1.5"/>
<line x1="139.30" y1="665.20" x2="175.20" y2="665.20" stroke="#2a2a2a" stroke-width="1.5"/>
<line x1="180.45" y1="665.20" x2="216.35" y2="665.20" stroke="#2a2a2a" stroke-width="1.5"/>
<line x1="221.60" y1="665.20" x2="257.50" y2="665.20" stroke="#2a2a2a" stroke-width="1.5"/>
<line x1="262.75" y1="665.20" x2="298.65" y2="665.20" stroke="#2a2a2a" stroke-width="1.5"/>
<line x1="303.90" y1="665.20" x2="339.80" y2="665.20" stroke="#2a2a2a" stroke-width="1.5"/>
<line x1="345.05" y1="665.20" x2="380.95" y2="665.20" stroke="#2a2a2a" stroke-width="1.5"/>
<line x1="386.20" y1="665.20" x2="422.10" y2="665.20" stroke="#2a2a2a" stroke-width="1.5"/>
<line x1="427.35" y1="665.20" x2="463.25" y2="665.20" stroke="#2a2a2a" stroke-width="1.5"/>
<line x1="468.50" y1="665.20" x2="504.40" y2="665.20" stroke="#2a2a2a" stroke-width="1.5"/>
<line x1="509.65" y1="665.20" x2="545.55" y2="665.20" stroke="#2a2a2a" stroke-width="1.5"/>
<line x1="550.80" y1="665.20" x2="586.70" y2="665.20" stroke="#2a2a2a" stroke-width="1.5"/>
<line x1="591.95" y1="665.20" x2="627.85" y2="665.20" stroke="#2a2a2a" stroke-width="1.5"/>
<line x1="633.10" y1="665.20" x2="669.00" y2="665.20" stroke="#2a2a2a" stroke-width="1.5"/>
<text x="51.80" y="517.70" font-size="12.8" font-weight="400" fill="#111" stroke="#111" stroke-width="0.25" text-anchor="end" >4</text>
<text x="51.80" y="594.00" font-size="12.8" font-weight="400" fill="#111" stroke="#111" stroke-width="0.25" text-anchor="end" >2</text>
<text x="51.80" y="665.70" font-size="12.8" font-weight="400" fill="#111" stroke="#111" stroke-width="0.25" text-anchor="end" >0</text>
<text x="0.00" y="0.00" font-size="12.8" font-weight="400" fill="#111" stroke="#111" stroke-width="0.25" text-anchor="middle" transform="translate(13.6,588.2) rotate(-90)">Thickness [mm]</text>
<text x="56.90" y="684.50" font-size="12.8" font-weight="400" fill="#111" stroke="#111" stroke-width="0.25" text-anchor="start" >0</text>
<text x="74.50" y="684.50" font-size="12.8" font-weight="400" fill="#111" stroke="#111" stroke-width="0.25" text-anchor="start" >420</text>
<text x="315.50" y="683.90" font-size="12.8" font-weight="400" fill="#111" stroke="#111" stroke-width="0.25" text-anchor="start" >Age in days</text>
<rect x="68.30" y="312.30" width="11.80" height="98.20" fill="#b9f1f8"/>
<rect x="83.14" y="358.00" width="11.80" height="52.50" fill="#a0c2f4"/>
<rect x="97.98" y="361.90" width="11.80" height="48.60" fill="#6593f7"/>
<rect x="112.82" y="345.30" width="11.80" height="65.20" fill="#4264e8"/>
<rect x="127.66" y="343.40" width="11.80" height="67.10" fill="#b3e888"/>
<rect x="142.50" y="358.30" width="11.80" height="52.20" fill="#7bd0a6"/>
<rect x="157.34" y="352.40" width="11.80" height="58.10" fill="#5a9e99"/>
<rect x="172.18" y="358.70" width="11.80" height="51.80" fill="#356468"/>
<rect x="187.02" y="358.30" width="11.80" height="52.20" fill="#e9e459"/>
<rect x="201.86" y="363.80" width="11.80" height="46.70" fill="#e39e43"/>
<rect x="216.70" y="368.50" width="11.80" height="42.00" fill="#c47f3d"/>
<rect x="231.54" y="364.90" width="11.80" height="45.60" fill="#8b5f28"/>
<rect x="246.38" y="383.90" width="11.80" height="26.60" fill="#e9b2ee"/>
<rect x="261.22" y="356.80" width="11.80" height="53.70" fill="#e53d9e"/>
<rect x="276.06" y="394.70" width="11.80" height="15.80" fill="#8d2363"/>
<line x1="56.10" y1="410.50" x2="300.00" y2="410.50" stroke="#2a2a2a" stroke-width="1.4"/>
<line x1="56.10" y1="254.00" x2="56.10" y2="411.30" stroke="#505050" stroke-width="1.6"/>
<line x1="74.20" y1="296.40" x2="74.20" y2="328.40" stroke="#9a9a9a" stroke-width="0.8"/>
<line x1="71.20" y1="296.40" x2="77.20" y2="296.40" stroke="#9a9a9a" stroke-width="0.8"/>
<line x1="71.20" y1="328.40" x2="77.20" y2="328.40" stroke="#9a9a9a" stroke-width="0.8"/>
<line x1="89.04" y1="355.10" x2="89.04" y2="360.50" stroke="#9a9a9a" stroke-width="0.8"/>
<line x1="86.04" y1="355.10" x2="92.04" y2="355.10" stroke="#9a9a9a" stroke-width="0.8"/>
<line x1="86.04" y1="360.50" x2="92.04" y2="360.50" stroke="#9a9a9a" stroke-width="0.8"/>
<line x1="103.88" y1="359.50" x2="103.88" y2="364.60" stroke="#9a9a9a" stroke-width="0.8"/>
<line x1="100.88" y1="359.50" x2="106.88" y2="359.50" stroke="#9a9a9a" stroke-width="0.8"/>
<line x1="100.88" y1="364.60" x2="106.88" y2="364.60" stroke="#9a9a9a" stroke-width="0.8"/>
<line x1="118.72" y1="336.50" x2="118.72" y2="354.30" stroke="#9a9a9a" stroke-width="0.8"/>
<line x1="115.72" y1="336.50" x2="121.72" y2="336.50" stroke="#9a9a9a" stroke-width="0.8"/>
<line x1="115.72" y1="354.30" x2="121.72" y2="354.30" stroke="#9a9a9a" stroke-width="0.8"/>
<line x1="133.56" y1="338.60" x2="133.56" y2="348.20" stroke="#9a9a9a" stroke-width="0.8"/>
<line x1="130.56" y1="338.60" x2="136.56" y2="338.60" stroke="#9a9a9a" stroke-width="0.8"/>
<line x1="130.56" y1="348.20" x2="136.56" y2="348.20" stroke="#9a9a9a" stroke-width="0.8"/>
<line x1="148.40" y1="350.40" x2="148.40" y2="365.60" stroke="#9a9a9a" stroke-width="0.8"/>
<line x1="145.40" y1="350.40" x2="151.40" y2="350.40" stroke="#9a9a9a" stroke-width="0.8"/>
<line x1="145.40" y1="365.60" x2="151.40" y2="365.60" stroke="#9a9a9a" stroke-width="0.8"/>
<line x1="163.24" y1="336.40" x2="163.24" y2="368.20" stroke="#9a9a9a" stroke-width="0.8"/>
<line x1="160.24" y1="336.40" x2="166.24" y2="336.40" stroke="#9a9a9a" stroke-width="0.8"/>
<line x1="160.24" y1="368.20" x2="166.24" y2="368.20" stroke="#9a9a9a" stroke-width="0.8"/>
<line x1="178.08" y1="351.90" x2="178.08" y2="365.30" stroke="#9a9a9a" stroke-width="0.8"/>
<line x1="175.08" y1="351.90" x2="181.08" y2="351.90" stroke="#9a9a9a" stroke-width="0.8"/>
<line x1="175.08" y1="365.30" x2="181.08" y2="365.30" stroke="#9a9a9a" stroke-width="0.8"/>
<line x1="192.92" y1="351.40" x2="192.92" y2="364.60" stroke="#9a9a9a" stroke-width="0.8"/>
<line x1="189.92" y1="351.40" x2="195.92" y2="351.40" stroke="#9a9a9a" stroke-width="0.8"/>
<line x1="189.92" y1="364.60" x2="195.92" y2="364.60" stroke="#9a9a9a" stroke-width="0.8"/>
<line x1="207.76" y1="347.30" x2="207.76" y2="379.60" stroke="#9a9a9a" stroke-width="0.8"/>
<line x1="204.76" y1="347.30" x2="210.76" y2="347.30" stroke="#9a9a9a" stroke-width="0.8"/>
<line x1="204.76" y1="379.60" x2="210.76" y2="379.60" stroke="#9a9a9a" stroke-width="0.8"/>
<line x1="222.60" y1="355.80" x2="222.60" y2="381.40" stroke="#9a9a9a" stroke-width="0.8"/>
<line x1="219.60" y1="355.80" x2="225.60" y2="355.80" stroke="#9a9a9a" stroke-width="0.8"/>
<line x1="219.60" y1="381.40" x2="225.60" y2="381.40" stroke="#9a9a9a" stroke-width="0.8"/>
<line x1="237.44" y1="357.30" x2="237.44" y2="372.60" stroke="#9a9a9a" stroke-width="0.8"/>
<line x1="234.44" y1="357.30" x2="240.44" y2="357.30" stroke="#9a9a9a" stroke-width="0.8"/>
<line x1="234.44" y1="372.60" x2="240.44" y2="372.60" stroke="#9a9a9a" stroke-width="0.8"/>
<line x1="252.28" y1="374.70" x2="252.28" y2="393.30" stroke="#9a9a9a" stroke-width="0.8"/>
<line x1="249.28" y1="374.70" x2="255.28" y2="374.70" stroke="#9a9a9a" stroke-width="0.8"/>
<line x1="249.28" y1="393.30" x2="255.28" y2="393.30" stroke="#9a9a9a" stroke-width="0.8"/>
<line x1="267.12" y1="339.30" x2="267.12" y2="373.60" stroke="#9a9a9a" stroke-width="0.8"/>
<line x1="264.12" y1="339.30" x2="270.12" y2="339.30" stroke="#9a9a9a" stroke-width="0.8"/>
<line x1="264.12" y1="373.60" x2="270.12" y2="373.60" stroke="#9a9a9a" stroke-width="0.8"/>
<line x1="281.96" y1="383.80" x2="281.96" y2="405.40" stroke="#9a9a9a" stroke-width="0.8"/>
<line x1="278.96" y1="383.80" x2="284.96" y2="383.80" stroke="#9a9a9a" stroke-width="0.8"/>
<line x1="278.96" y1="405.40" x2="284.96" y2="405.40" stroke="#9a9a9a" stroke-width="0.8"/>
<text x="51.00" y="264.70" font-size="12.8" font-weight="400" fill="#111" stroke="#111" stroke-width="0.25" text-anchor="end" >25</text>
<text x="51.00" y="331.80" font-size="12.8" font-weight="400" fill="#111" stroke="#111" stroke-width="0.25" text-anchor="end" >12.5</text>
<text x="51.00" y="410.00" font-size="12.8" font-weight="400" fill="#111" stroke="#111" stroke-width="0.25" text-anchor="end" >0</text>
<text x="0.00" y="0.00" font-size="12.8" font-weight="400" fill="#111" stroke="#111" stroke-width="0.25" text-anchor="middle" transform="translate(12.4,324.5) rotate(-90)">SP at birth [mm]</text>
<text x="123.30" y="245.00" font-size="12.8" font-weight="400" fill="#111" stroke="#111" stroke-width="0.25" text-anchor="start" >Sulcal span at birth</text>
<text x="8.20" y="240.00" font-size="12.8" font-weight="400" fill="#111" stroke="#111" stroke-width="0.25" text-anchor="start" >(b)</text>
<text x="66.60" y="431.20" font-size="12.8" font-weight="700" fill="#b9f1f8" stroke="#b9f1f8" stroke-width="0.2" text-anchor="start" >calc</text>
<text x="159.80" y="431.00" font-size="12.8" font-weight="400" fill="#111" stroke="#111" stroke-width="0.25" text-anchor="start" >Sulcus</text>
<text x="278.20" y="431.20" font-size="12.8" font-weight="700" fill="#8d2363" stroke="#8d2363" stroke-width="0.2" text-anchor="start" >its</text>
<rect x="453.10" y="336.20" width="11.80" height="74.30" fill="#b9f1f8"/>
<rect x="467.96" y="365.90" width="11.80" height="44.60" fill="#a0c2f4"/>
<rect x="482.82" y="358.20" width="11.80" height="52.30" fill="#6593f7"/>
<rect x="497.68" y="309.40" width="11.80" height="101.10" fill="#4264e8"/>
<rect x="512.54" y="354.20" width="11.80" height="56.30" fill="#b3e888"/>
<rect x="527.40" y="320.70" width="11.80" height="89.80" fill="#7bd0a6"/>
<rect x="542.26" y="348.00" width="11.80" height="62.50" fill="#5a9e99"/>
<rect x="557.12" y="319.20" width="11.80" height="91.30" fill="#356468"/>
<rect x="571.98" y="334.60" width="11.80" height="75.90" fill="#e9e459"/>
<rect x="586.84" y="295.60" width="11.80" height="114.90" fill="#e39e43"/>
<rect x="601.70" y="283.00" width="11.80" height="127.50" fill="#c47f3d"/>
<rect x="616.56" y="348.10" width="11.80" height="62.40" fill="#8b5f28"/>
<rect x="631.42" y="306.10" width="11.80" height="104.40" fill="#e9b2ee"/>
<rect x="646.28" y="315.10" width="11.80" height="95.40" fill="#e53d9e"/>
<rect x="661.14" y="325.80" width="11.80" height="84.70" fill="#8d2363"/>
<line x1="440.50" y1="410.50" x2="684.00" y2="410.50" stroke="#2a2a2a" stroke-width="1.4"/>
<line x1="440.50" y1="254.70" x2="440.50" y2="411.30" stroke="#2a2a2a" stroke-width="1.6"/>
<line x1="459.00" y1="317.40" x2="459.00" y2="354.20" stroke="#9a9a9a" stroke-width="0.8"/>
<line x1="456.00" y1="317.40" x2="462.00" y2="317.40" stroke="#9a9a9a" stroke-width="0.8"/>
<line x1="456.00" y1="354.20" x2="462.00" y2="354.20" stroke="#9a9a9a" stroke-width="0.8"/>
<line x1="473.86" y1="362.30" x2="473.86" y2="369.10" stroke="#9a9a9a" stroke-width="0.8"/>
<line x1="470.86" y1="362.30" x2="476.86" y2="362.30" stroke="#9a9a9a" stroke-width="0.8"/>
<line x1="470.86" y1="369.10" x2="476.86" y2="369.10" stroke="#9a9a9a" stroke-width="0.8"/>
<line x1="488.72" y1="355.50" x2="488.72" y2="361.40" stroke="#9a9a9a" stroke-width="0.8"/>
<line x1="485.72" y1="355.50" x2="491.72" y2="355.50" stroke="#9a9a9a" stroke-width="0.8"/>
<line x1="485.72" y1="361.40" x2="491.72" y2="361.40" stroke="#9a9a9a" stroke-width="0.8"/>
<line x1="503.58" y1="298.50" x2="503.58" y2="319.60" stroke="#9a9a9a" stroke-width="0.8"/>
<line x1="500.58" y1="298.50" x2="506.58" y2="298.50" stroke="#9a9a9a" stroke-width="0.8"/>
<line x1="500.58" y1="319.60" x2="506.58" y2="319.60" stroke="#9a9a9a" stroke-width="0.8"/>
<line x1="518.44" y1="348.70" x2="518.44" y2="360.40" stroke="#9a9a9a" stroke-width="0.8"/>
<line x1="515.44" y1="348.70" x2="521.44" y2="348.70" stroke="#9a9a9a" stroke-width="0.8"/>
<line x1="515.44" y1="360.40" x2="521.44" y2="360.40" stroke="#9a9a9a" stroke-width="0.8"/>
<line x1="533.30" y1="312.30" x2="533.30" y2="329.20" stroke="#9a9a9a" stroke-width="0.8"/>
<line x1="530.30" y1="312.30" x2="536.30" y2="312.30" stroke="#9a9a9a" stroke-width="0.8"/>
<line x1="530.30" y1="329.20" x2="536.30" y2="329.20" stroke="#9a9a9a" stroke-width="0.8"/>
<line x1="548.16" y1="329.20" x2="548.16" y2="366.20" stroke="#9a9a9a" stroke-width="0.8"/>
<line x1="545.16" y1="329.20" x2="551.16" y2="329.20" stroke="#9a9a9a" stroke-width="0.8"/>
<line x1="545.16" y1="366.20" x2="551.16" y2="366.20" stroke="#9a9a9a" stroke-width="0.8"/>
<line x1="563.02" y1="311.20" x2="563.02" y2="327.30" stroke="#9a9a9a" stroke-width="0.8"/>
<line x1="560.02" y1="311.20" x2="566.02" y2="311.20" stroke="#9a9a9a" stroke-width="0.8"/>
<line x1="560.02" y1="327.30" x2="566.02" y2="327.30" stroke="#9a9a9a" stroke-width="0.8"/>
<line x1="577.88" y1="326.50" x2="577.88" y2="342.30" stroke="#9a9a9a" stroke-width="0.8"/>
<line x1="574.88" y1="326.50" x2="580.88" y2="326.50" stroke="#9a9a9a" stroke-width="0.8"/>
<line x1="574.88" y1="342.30" x2="580.88" y2="342.30" stroke="#9a9a9a" stroke-width="0.8"/>
<line x1="592.74" y1="275.90" x2="592.74" y2="314.60" stroke="#9a9a9a" stroke-width="0.8"/>
<line x1="589.74" y1="275.90" x2="595.74" y2="275.90" stroke="#9a9a9a" stroke-width="0.8"/>
<line x1="589.74" y1="314.60" x2="595.74" y2="314.60" stroke="#9a9a9a" stroke-width="0.8"/>
<line x1="607.60" y1="267.40" x2="607.60" y2="297.30" stroke="#9a9a9a" stroke-width="0.8"/>
<line x1="604.60" y1="267.40" x2="610.60" y2="267.40" stroke="#9a9a9a" stroke-width="0.8"/>
<line x1="604.60" y1="297.30" x2="610.60" y2="297.30" stroke="#9a9a9a" stroke-width="0.8"/>
<line x1="622.46" y1="339.50" x2="622.46" y2="356.40" stroke="#9a9a9a" stroke-width="0.8"/>
<line x1="619.46" y1="339.50" x2="625.46" y2="339.50" stroke="#9a9a9a" stroke-width="0.8"/>
<line x1="619.46" y1="356.40" x2="625.46" y2="356.40" stroke="#9a9a9a" stroke-width="0.8"/>
<line x1="637.32" y1="295.40" x2="637.32" y2="317.30" stroke="#9a9a9a" stroke-width="0.8"/>
<line x1="634.32" y1="295.40" x2="640.32" y2="295.40" stroke="#9a9a9a" stroke-width="0.8"/>
<line x1="634.32" y1="317.30" x2="640.32" y2="317.30" stroke="#9a9a9a" stroke-width="0.8"/>
<line x1="652.18" y1="294.40" x2="652.18" y2="335.50" stroke="#9a9a9a" stroke-width="0.8"/>
<line x1="649.18" y1="294.40" x2="655.18" y2="294.40" stroke="#9a9a9a" stroke-width="0.8"/>
<line x1="649.18" y1="335.50" x2="655.18" y2="335.50" stroke="#9a9a9a" stroke-width="0.8"/>
<line x1="667.04" y1="312.60" x2="667.04" y2="338.50" stroke="#9a9a9a" stroke-width="0.8"/>
<line x1="664.04" y1="312.60" x2="670.04" y2="312.60" stroke="#9a9a9a" stroke-width="0.8"/>
<line x1="664.04" y1="338.50" x2="670.04" y2="338.50" stroke="#9a9a9a" stroke-width="0.8"/>
<text x="435.80" y="264.90" font-size="12.8" font-weight="400" fill="#111" stroke="#111" stroke-width="0.25" text-anchor="end" >10</text>
<text x="435.80" y="331.70" font-size="12.8" font-weight="400" fill="#111" stroke="#111" stroke-width="0.25" text-anchor="end" >5</text>
<text x="435.80" y="410.00" font-size="12.8" font-weight="400" fill="#111" stroke="#111" stroke-width="0.25" text-anchor="end" >0</text>
<text x="0.00" y="0.00" font-size="12.8" font-weight="400" fill="#111" stroke="#111" stroke-width="0.25" text-anchor="middle" transform="translate(393.9,329.4) rotate(-90)">SP Change</text>
<text x="0.00" y="0.00" font-size="12.8" font-weight="400" fill="#111" stroke="#111" stroke-width="0.25" text-anchor="middle" transform="translate(408.1,329.4) rotate(-90)">[mm/log<tspan font-size="9" dy="2.5">10</tspan><tspan dy="-2.5">(days)]</tspan></text>
<text x="503.60" y="245.00" font-size="12.8" font-weight="400" fill="#111" stroke="#111" stroke-width="0.25" text-anchor="start" >Rate of development</text>
<text x="396.80" y="239.30" font-size="12.8" font-weight="400" fill="#111" stroke="#111" stroke-width="0.25" text-anchor="start" >(c)</text>
<text x="445.70" y="428.60" font-size="12.8" font-weight="700" fill="#b9f1f8" stroke="#b9f1f8" stroke-width="0.2" text-anchor="start" >calc</text>
<text x="547.00" y="431.40" font-size="12.8" font-weight="400" fill="#111" stroke="#111" stroke-width="0.25" text-anchor="start" >Sulcus</text>
<text x="661.30" y="428.40" font-size="12.8" font-weight="700" fill="#8d2363" stroke="#8d2363" stroke-width="0.2" text-anchor="start" >its</text>
<rect x="66.90" y="740.00" width="11.70" height="145.20" fill="#b9f1f8"/>
<rect x="81.64" y="787.30" width="11.70" height="97.90" fill="#a0c2f4"/>
<rect x="96.38" y="776.80" width="11.70" height="108.40" fill="#6593f7"/>
<rect x="111.12" y="768.10" width="11.70" height="117.10" fill="#4264e8"/>
<rect x="125.86" y="746.20" width="11.70" height="139.00" fill="#b3e888"/>
<rect x="140.60" y="778.00" width="11.70" height="107.20" fill="#7bd0a6"/>
<rect x="155.34" y="799.70" width="11.70" height="85.50" fill="#5a9e99"/>
<rect x="170.08" y="781.20" width="11.70" height="104.00" fill="#356468"/>
<rect x="184.82" y="775.30" width="11.70" height="109.90" fill="#e9e459"/>
<rect x="199.56" y="787.40" width="11.70" height="97.80" fill="#e39e43"/>
<rect x="214.30" y="785.80" width="11.70" height="99.40" fill="#c47f3d"/>
<rect x="229.04" y="769.10" width="11.70" height="116.10" fill="#8b5f28"/>
<rect x="243.78" y="782.20" width="11.70" height="103.00" fill="#e9b2ee"/>
<rect x="258.52" y="782.20" width="11.70" height="103.00" fill="#e53d9e"/>
<rect x="273.26" y="761.20" width="11.70" height="124.00" fill="#8d2363"/>
<line x1="56.00" y1="885.20" x2="296.90" y2="885.20" stroke="#2a2a2a" stroke-width="1.4"/>
<line x1="56.00" y1="729.60" x2="56.00" y2="886.00" stroke="#505050" stroke-width="1.6"/>
<line x1="72.75" y1="735.20" x2="72.75" y2="745.10" stroke="#9a9a9a" stroke-width="0.8"/>
<line x1="69.75" y1="735.20" x2="75.75" y2="735.20" stroke="#9a9a9a" stroke-width="0.8"/>
<line x1="69.75" y1="745.10" x2="75.75" y2="745.10" stroke="#9a9a9a" stroke-width="0.8"/>
<line x1="87.49" y1="781.20" x2="87.49" y2="793.60" stroke="#9a9a9a" stroke-width="0.8"/>
<line x1="84.49" y1="781.20" x2="90.49" y2="781.20" stroke="#9a9a9a" stroke-width="0.8"/>
<line x1="84.49" y1="793.60" x2="90.49" y2="793.60" stroke="#9a9a9a" stroke-width="0.8"/>
<line x1="102.23" y1="772.40" x2="102.23" y2="780.50" stroke="#9a9a9a" stroke-width="0.8"/>
<line x1="99.23" y1="772.40" x2="105.23" y2="772.40" stroke="#9a9a9a" stroke-width="0.8"/>
<line x1="99.23" y1="780.50" x2="105.23" y2="780.50" stroke="#9a9a9a" stroke-width="0.8"/>
<line x1="116.97" y1="762.50" x2="116.97" y2="772.40" stroke="#9a9a9a" stroke-width="0.8"/>
<line x1="113.97" y1="762.50" x2="119.97" y2="762.50" stroke="#9a9a9a" stroke-width="0.8"/>
<line x1="113.97" y1="772.40" x2="119.97" y2="772.40" stroke="#9a9a9a" stroke-width="0.8"/>
<line x1="131.71" y1="740.30" x2="131.71" y2="751.60" stroke="#9a9a9a" stroke-width="0.8"/>
<line x1="128.71" y1="740.30" x2="134.71" y2="740.30" stroke="#9a9a9a" stroke-width="0.8"/>
<line x1="128.71" y1="751.60" x2="134.71" y2="751.60" stroke="#9a9a9a" stroke-width="0.8"/>
<line x1="146.45" y1="773.50" x2="146.45" y2="781.60" stroke="#9a9a9a" stroke-width="0.8"/>
<line x1="143.45" y1="773.50" x2="149.45" y2="773.50" stroke="#9a9a9a" stroke-width="0.8"/>
<line x1="143.45" y1="781.60" x2="149.45" y2="781.60" stroke="#9a9a9a" stroke-width="0.8"/>
<line x1="161.19" y1="794.30" x2="161.19" y2="804.50" stroke="#9a9a9a" stroke-width="0.8"/>
<line x1="158.19" y1="794.30" x2="164.19" y2="794.30" stroke="#9a9a9a" stroke-width="0.8"/>
<line x1="158.19" y1="804.50" x2="164.19" y2="804.50" stroke="#9a9a9a" stroke-width="0.8"/>
<line x1="175.93" y1="775.30" x2="175.93" y2="785.50" stroke="#9a9a9a" stroke-width="0.8"/>
<line x1="172.93" y1="775.30" x2="178.93" y2="775.30" stroke="#9a9a9a" stroke-width="0.8"/>
<line x1="172.93" y1="785.50" x2="178.93" y2="785.50" stroke="#9a9a9a" stroke-width="0.8"/>
<line x1="190.67" y1="771.40" x2="190.67" y2="778.70" stroke="#9a9a9a" stroke-width="0.8"/>
<line x1="187.67" y1="771.40" x2="193.67" y2="771.40" stroke="#9a9a9a" stroke-width="0.8"/>
<line x1="187.67" y1="778.70" x2="193.67" y2="778.70" stroke="#9a9a9a" stroke-width="0.8"/>
<line x1="205.41" y1="783.40" x2="205.41" y2="791.10" stroke="#9a9a9a" stroke-width="0.8"/>
<line x1="202.41" y1="783.40" x2="208.41" y2="783.40" stroke="#9a9a9a" stroke-width="0.8"/>
<line x1="202.41" y1="791.10" x2="208.41" y2="791.10" stroke="#9a9a9a" stroke-width="0.8"/>
<line x1="220.15" y1="780.40" x2="220.15" y2="790.40" stroke="#9a9a9a" stroke-width="0.8"/>
<line x1="217.15" y1="780.40" x2="223.15" y2="780.40" stroke="#9a9a9a" stroke-width="0.8"/>
<line x1="217.15" y1="790.40" x2="223.15" y2="790.40" stroke="#9a9a9a" stroke-width="0.8"/>
<line x1="234.89" y1="765.40" x2="234.89" y2="772.40" stroke="#9a9a9a" stroke-width="0.8"/>
<line x1="231.89" y1="765.40" x2="237.89" y2="765.40" stroke="#9a9a9a" stroke-width="0.8"/>
<line x1="231.89" y1="772.40" x2="237.89" y2="772.40" stroke="#9a9a9a" stroke-width="0.8"/>
<line x1="249.63" y1="777.50" x2="249.63" y2="786.00" stroke="#9a9a9a" stroke-width="0.8"/>
<line x1="246.63" y1="777.50" x2="252.63" y2="777.50" stroke="#9a9a9a" stroke-width="0.8"/>
<line x1="246.63" y1="786.00" x2="252.63" y2="786.00" stroke="#9a9a9a" stroke-width="0.8"/>
<line x1="264.37" y1="776.50" x2="264.37" y2="787.70" stroke="#9a9a9a" stroke-width="0.8"/>
<line x1="261.37" y1="776.50" x2="267.37" y2="776.50" stroke="#9a9a9a" stroke-width="0.8"/>
<line x1="261.37" y1="787.70" x2="267.37" y2="787.70" stroke="#9a9a9a" stroke-width="0.8"/>
<line x1="279.11" y1="756.10" x2="279.11" y2="766.00" stroke="#9a9a9a" stroke-width="0.8"/>
<line x1="276.11" y1="756.10" x2="282.11" y2="756.10" stroke="#9a9a9a" stroke-width="0.8"/>
<line x1="276.11" y1="766.00" x2="282.11" y2="766.00" stroke="#9a9a9a" stroke-width="0.8"/>
<text x="51.10" y="738.80" font-size="12.8" font-weight="400" fill="#111" stroke="#111" stroke-width="0.25" text-anchor="end" >2.5</text>
<text x="51.10" y="812.30" font-size="12.8" font-weight="400" fill="#111" stroke="#111" stroke-width="0.25" text-anchor="end" >1.25</text>
<text x="51.10" y="886.90" font-size="12.8" font-weight="400" fill="#111" stroke="#111" stroke-width="0.25" text-anchor="end" >0</text>
<text x="0.00" y="0.00" font-size="12.8" font-weight="400" fill="#111" stroke="#111" stroke-width="0.25" text-anchor="middle" transform="translate(12.2,809.4) rotate(-90)">CT at birth [mm]</text>
<text x="102.80" y="720.80" font-size="12.8" font-weight="400" fill="#111" stroke="#111" stroke-width="0.25" text-anchor="start" >Cortical thickness at birth</text>
<text x="-0.60" y="723.00" font-size="12.8" font-weight="400" fill="#111" stroke="#111" stroke-width="0.25" text-anchor="start" >(e)</text>
<text x="61.70" y="902.60" font-size="12.8" font-weight="700" fill="#b9f1f8" stroke="#b9f1f8" stroke-width="0.2" text-anchor="start" >calc</text>
<text x="154.40" y="903.90" font-size="12.8" font-weight="400" fill="#111" stroke="#111" stroke-width="0.25" text-anchor="start" >Sulcus</text>
<text x="273.30" y="902.60" font-size="12.8" font-weight="700" fill="#8d2363" stroke="#8d2363" stroke-width="0.2" text-anchor="start" >its</text>
<rect x="453.10" y="879.90" width="11.70" height="5.10" fill="#b9f1f8"/>
<rect x="467.84" y="783.10" width="11.70" height="101.90" fill="#a0c2f4"/>
<rect x="482.58" y="820.10" width="11.70" height="64.90" fill="#6593f7"/>
<rect x="497.32" y="825.90" width="11.70" height="59.10" fill="#4264e8"/>
<rect x="512.06" y="877.90" width="11.70" height="7.10" fill="#b3e888"/>
<rect x="526.80" y="819.70" width="11.70" height="65.30" fill="#7bd0a6"/>
<rect x="541.54" y="794.00" width="11.70" height="91.00" fill="#5a9e99"/>
<rect x="556.28" y="811.20" width="11.70" height="73.80" fill="#356468"/>
<rect x="571.02" y="829.00" width="11.70" height="56.00" fill="#e9e459"/>
<rect x="585.76" y="806.10" width="11.70" height="78.90" fill="#e39e43"/>
<rect x="600.50" y="807.30" width="11.70" height="77.70" fill="#c47f3d"/>
<rect x="615.24" y="841.00" width="11.70" height="44.00" fill="#8b5f28"/>
<rect x="629.98" y="817.20" width="11.70" height="67.80" fill="#e9b2ee"/>
<rect x="644.72" y="817.90" width="11.70" height="67.10" fill="#e53d9e"/>
<rect x="659.46" y="836.90" width="11.70" height="48.10" fill="#8d2363"/>
<line x1="440.30" y1="885.00" x2="682.40" y2="885.00" stroke="#2a2a2a" stroke-width="1.4"/>
<line x1="440.30" y1="728.40" x2="440.30" y2="891.80" stroke="#2a2a2a" stroke-width="1.6"/>
<line x1="458.95" y1="872.00" x2="458.95" y2="887.40" stroke="#9a9a9a" stroke-width="0.8"/>
<line x1="455.95" y1="872.00" x2="461.95" y2="872.00" stroke="#9a9a9a" stroke-width="0.8"/>
<line x1="455.95" y1="887.40" x2="461.95" y2="887.40" stroke="#9a9a9a" stroke-width="0.8"/>
<line x1="473.69" y1="773.20" x2="473.69" y2="792.60" stroke="#9a9a9a" stroke-width="0.8"/>
<line x1="470.69" y1="773.20" x2="476.69" y2="773.20" stroke="#9a9a9a" stroke-width="0.8"/>
<line x1="470.69" y1="792.60" x2="476.69" y2="792.60" stroke="#9a9a9a" stroke-width="0.8"/>
<line x1="488.43" y1="813.40" x2="488.43" y2="826.20" stroke="#9a9a9a" stroke-width="0.8"/>
<line x1="485.43" y1="813.40" x2="491.43" y2="813.40" stroke="#9a9a9a" stroke-width="0.8"/>
<line x1="485.43" y1="826.20" x2="491.43" y2="826.20" stroke="#9a9a9a" stroke-width="0.8"/>
<line x1="503.17" y1="818.20" x2="503.17" y2="834.20" stroke="#9a9a9a" stroke-width="0.8"/>
<line x1="500.17" y1="818.20" x2="506.17" y2="818.20" stroke="#9a9a9a" stroke-width="0.8"/>
<line x1="500.17" y1="834.20" x2="506.17" y2="834.20" stroke="#9a9a9a" stroke-width="0.8"/>
<line x1="517.91" y1="869.40" x2="517.91" y2="886.20" stroke="#9a9a9a" stroke-width="0.8"/>
<line x1="514.91" y1="869.40" x2="520.91" y2="869.40" stroke="#9a9a9a" stroke-width="0.8"/>
<line x1="514.91" y1="886.20" x2="520.91" y2="886.20" stroke="#9a9a9a" stroke-width="0.8"/>
<line x1="532.65" y1="813.30" x2="532.65" y2="825.30" stroke="#9a9a9a" stroke-width="0.8"/>
<line x1="529.65" y1="813.30" x2="535.65" y2="813.30" stroke="#9a9a9a" stroke-width="0.8"/>
<line x1="529.65" y1="825.30" x2="535.65" y2="825.30" stroke="#9a9a9a" stroke-width="0.8"/>
<line x1="547.39" y1="787.00" x2="547.39" y2="801.60" stroke="#9a9a9a" stroke-width="0.8"/>
<line x1="544.39" y1="787.00" x2="550.39" y2="787.00" stroke="#9a9a9a" stroke-width="0.8"/>
<line x1="544.39" y1="801.60" x2="550.39" y2="801.60" stroke="#9a9a9a" stroke-width="0.8"/>
<line x1="562.13" y1="804.20" x2="562.13" y2="818.80" stroke="#9a9a9a" stroke-width="0.8"/>
<line x1="559.13" y1="804.20" x2="565.13" y2="804.20" stroke="#9a9a9a" stroke-width="0.8"/>
<line x1="559.13" y1="818.80" x2="565.13" y2="818.80" stroke="#9a9a9a" stroke-width="0.8"/>
<line x1="576.87" y1="823.90" x2="576.87" y2="834.10" stroke="#9a9a9a" stroke-width="0.8"/>
<line x1="573.87" y1="823.90" x2="579.87" y2="823.90" stroke="#9a9a9a" stroke-width="0.8"/>
<line x1="573.87" y1="834.10" x2="579.87" y2="834.10" stroke="#9a9a9a" stroke-width="0.8"/>
<line x1="591.61" y1="800.30" x2="591.61" y2="811.80" stroke="#9a9a9a" stroke-width="0.8"/>
<line x1="588.61" y1="800.30" x2="594.61" y2="800.30" stroke="#9a9a9a" stroke-width="0.8"/>
<line x1="588.61" y1="811.80" x2="594.61" y2="811.80" stroke="#9a9a9a" stroke-width="0.8"/>
<line x1="606.35" y1="800.30" x2="606.35" y2="815.10" stroke="#9a9a9a" stroke-width="0.8"/>
<line x1="603.35" y1="800.30" x2="609.35" y2="800.30" stroke="#9a9a9a" stroke-width="0.8"/>
<line x1="603.35" y1="815.10" x2="609.35" y2="815.10" stroke="#9a9a9a" stroke-width="0.8"/>
<line x1="621.09" y1="835.00" x2="621.09" y2="846.50" stroke="#9a9a9a" stroke-width="0.8"/>
<line x1="618.09" y1="835.00" x2="624.09" y2="835.00" stroke="#9a9a9a" stroke-width="0.8"/>
<line x1="618.09" y1="846.50" x2="624.09" y2="846.50" stroke="#9a9a9a" stroke-width="0.8"/>
<line x1="635.83" y1="811.30" x2="635.83" y2="823.50" stroke="#9a9a9a" stroke-width="0.8"/>
<line x1="632.83" y1="811.30" x2="638.83" y2="811.30" stroke="#9a9a9a" stroke-width="0.8"/>
<line x1="632.83" y1="823.50" x2="638.83" y2="823.50" stroke="#9a9a9a" stroke-width="0.8"/>
<line x1="650.57" y1="808.70" x2="650.57" y2="826.50" stroke="#9a9a9a" stroke-width="0.8"/>
<line x1="647.57" y1="808.70" x2="653.57" y2="808.70" stroke="#9a9a9a" stroke-width="0.8"/>
<line x1="647.57" y1="826.50" x2="653.57" y2="826.50" stroke="#9a9a9a" stroke-width="0.8"/>
<line x1="665.31" y1="828.50" x2="665.31" y2="844.50" stroke="#9a9a9a" stroke-width="0.8"/>
<line x1="662.31" y1="828.50" x2="668.31" y2="828.50" stroke="#9a9a9a" stroke-width="0.8"/>
<line x1="662.31" y1="844.50" x2="668.31" y2="844.50" stroke="#9a9a9a" stroke-width="0.8"/>
<text x="435.50" y="738.70" font-size="12.8" font-weight="400" fill="#111" stroke="#111" stroke-width="0.25" text-anchor="end" >0.8</text>
<text x="435.50" y="812.50" font-size="12.8" font-weight="400" fill="#111" stroke="#111" stroke-width="0.25" text-anchor="end" >0.4</text>
<text x="435.50" y="886.10" font-size="12.8" font-weight="400" fill="#111" stroke="#111" stroke-width="0.25" text-anchor="end" >0</text>
<text x="0.00" y="0.00" font-size="12.8" font-weight="400" fill="#111" stroke="#111" stroke-width="0.25" text-anchor="middle" transform="translate(388.6,803.5) rotate(-90)">CT Change</text>
<text x="0.00" y="0.00" font-size="12.8" font-weight="400" fill="#111" stroke="#111" stroke-width="0.25" text-anchor="middle" transform="translate(403.4,803.5) rotate(-90)">[mm/log<tspan font-size="9" dy="2.5">10</tspan><tspan dy="-2.5">(days)]</tspan></text>
<text x="500.80" y="720.30" font-size="12.8" font-weight="400" fill="#111" stroke="#111" stroke-width="0.25" text-anchor="start" >Rate of development</text>
<text x="390.40" y="723.00" font-size="12.8" font-weight="400" fill="#111" stroke="#111" stroke-width="0.25" text-anchor="start" >(f)</text>
<text x="451.00" y="901.50" font-size="12.8" font-weight="700" fill="#b9f1f8" stroke="#b9f1f8" stroke-width="0.2" text-anchor="start" >calc</text>
<text x="547.50" y="904.00" font-size="12.8" font-weight="400" fill="#111" stroke="#111" stroke-width="0.25" text-anchor="start" >Sulcus</text>
<text x="662.70" y="902.00" font-size="12.8" font-weight="700" fill="#8d2363" stroke="#8d2363" stroke-width="0.2" text-anchor="start" >its</text>
</svg></body></html>
